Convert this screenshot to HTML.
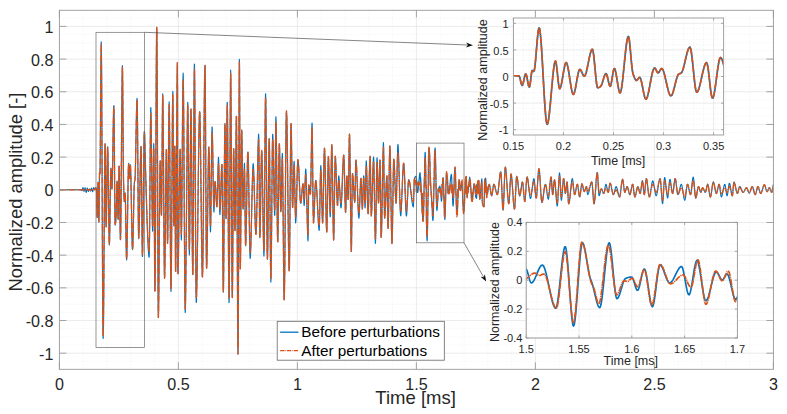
<!DOCTYPE html>
<html><head><meta charset="utf-8"><title>Signal</title>
<style>
html,body{margin:0;padding:0;background:#fff;}
body{width:787px;height:414px;position:relative;overflow:hidden;font-family:"Liberation Sans",sans-serif;}
</style></head><body>
<svg width="787" height="414" viewBox="0 0 787 414" style="position:absolute;left:0;top:0">
<rect width="787" height="414" fill="#fff"/>
<line x1="83.20" y1="10.3" x2="83.20" y2="369.3" stroke="#ededed" stroke-width="0.7" stroke-dasharray="1 2"/>
<line x1="107.00" y1="10.3" x2="107.00" y2="369.3" stroke="#ededed" stroke-width="0.7" stroke-dasharray="1 2"/>
<line x1="130.80" y1="10.3" x2="130.80" y2="369.3" stroke="#ededed" stroke-width="0.7" stroke-dasharray="1 2"/>
<line x1="154.60" y1="10.3" x2="154.60" y2="369.3" stroke="#ededed" stroke-width="0.7" stroke-dasharray="1 2"/>
<line x1="202.20" y1="10.3" x2="202.20" y2="369.3" stroke="#ededed" stroke-width="0.7" stroke-dasharray="1 2"/>
<line x1="226.00" y1="10.3" x2="226.00" y2="369.3" stroke="#ededed" stroke-width="0.7" stroke-dasharray="1 2"/>
<line x1="249.80" y1="10.3" x2="249.80" y2="369.3" stroke="#ededed" stroke-width="0.7" stroke-dasharray="1 2"/>
<line x1="273.60" y1="10.3" x2="273.60" y2="369.3" stroke="#ededed" stroke-width="0.7" stroke-dasharray="1 2"/>
<line x1="321.20" y1="10.3" x2="321.20" y2="369.3" stroke="#ededed" stroke-width="0.7" stroke-dasharray="1 2"/>
<line x1="345.00" y1="10.3" x2="345.00" y2="369.3" stroke="#ededed" stroke-width="0.7" stroke-dasharray="1 2"/>
<line x1="368.80" y1="10.3" x2="368.80" y2="369.3" stroke="#ededed" stroke-width="0.7" stroke-dasharray="1 2"/>
<line x1="392.60" y1="10.3" x2="392.60" y2="369.3" stroke="#ededed" stroke-width="0.7" stroke-dasharray="1 2"/>
<line x1="440.20" y1="10.3" x2="440.20" y2="369.3" stroke="#ededed" stroke-width="0.7" stroke-dasharray="1 2"/>
<line x1="464.00" y1="10.3" x2="464.00" y2="369.3" stroke="#ededed" stroke-width="0.7" stroke-dasharray="1 2"/>
<line x1="487.80" y1="10.3" x2="487.80" y2="369.3" stroke="#ededed" stroke-width="0.7" stroke-dasharray="1 2"/>
<line x1="511.60" y1="10.3" x2="511.60" y2="369.3" stroke="#ededed" stroke-width="0.7" stroke-dasharray="1 2"/>
<line x1="559.20" y1="10.3" x2="559.20" y2="369.3" stroke="#ededed" stroke-width="0.7" stroke-dasharray="1 2"/>
<line x1="583.00" y1="10.3" x2="583.00" y2="369.3" stroke="#ededed" stroke-width="0.7" stroke-dasharray="1 2"/>
<line x1="606.80" y1="10.3" x2="606.80" y2="369.3" stroke="#ededed" stroke-width="0.7" stroke-dasharray="1 2"/>
<line x1="630.60" y1="10.3" x2="630.60" y2="369.3" stroke="#ededed" stroke-width="0.7" stroke-dasharray="1 2"/>
<line x1="678.20" y1="10.3" x2="678.20" y2="369.3" stroke="#ededed" stroke-width="0.7" stroke-dasharray="1 2"/>
<line x1="702.00" y1="10.3" x2="702.00" y2="369.3" stroke="#ededed" stroke-width="0.7" stroke-dasharray="1 2"/>
<line x1="725.80" y1="10.3" x2="725.80" y2="369.3" stroke="#ededed" stroke-width="0.7" stroke-dasharray="1 2"/>
<line x1="749.60" y1="10.3" x2="749.60" y2="369.3" stroke="#ededed" stroke-width="0.7" stroke-dasharray="1 2"/>
<line x1="59.4" y1="369.54" x2="773.4" y2="369.54" stroke="#ededed" stroke-width="0.7" stroke-dasharray="1 2"/>
<line x1="59.4" y1="361.37" x2="773.4" y2="361.37" stroke="#ededed" stroke-width="0.7" stroke-dasharray="1 2"/>
<line x1="59.4" y1="345.03" x2="773.4" y2="345.03" stroke="#ededed" stroke-width="0.7" stroke-dasharray="1 2"/>
<line x1="59.4" y1="336.86" x2="773.4" y2="336.86" stroke="#ededed" stroke-width="0.7" stroke-dasharray="1 2"/>
<line x1="59.4" y1="328.69" x2="773.4" y2="328.69" stroke="#ededed" stroke-width="0.7" stroke-dasharray="1 2"/>
<line x1="59.4" y1="312.35" x2="773.4" y2="312.35" stroke="#ededed" stroke-width="0.7" stroke-dasharray="1 2"/>
<line x1="59.4" y1="304.18" x2="773.4" y2="304.18" stroke="#ededed" stroke-width="0.7" stroke-dasharray="1 2"/>
<line x1="59.4" y1="296.01" x2="773.4" y2="296.01" stroke="#ededed" stroke-width="0.7" stroke-dasharray="1 2"/>
<line x1="59.4" y1="279.67" x2="773.4" y2="279.67" stroke="#ededed" stroke-width="0.7" stroke-dasharray="1 2"/>
<line x1="59.4" y1="271.50" x2="773.4" y2="271.50" stroke="#ededed" stroke-width="0.7" stroke-dasharray="1 2"/>
<line x1="59.4" y1="263.33" x2="773.4" y2="263.33" stroke="#ededed" stroke-width="0.7" stroke-dasharray="1 2"/>
<line x1="59.4" y1="246.99" x2="773.4" y2="246.99" stroke="#ededed" stroke-width="0.7" stroke-dasharray="1 2"/>
<line x1="59.4" y1="238.82" x2="773.4" y2="238.82" stroke="#ededed" stroke-width="0.7" stroke-dasharray="1 2"/>
<line x1="59.4" y1="230.65" x2="773.4" y2="230.65" stroke="#ededed" stroke-width="0.7" stroke-dasharray="1 2"/>
<line x1="59.4" y1="214.31" x2="773.4" y2="214.31" stroke="#ededed" stroke-width="0.7" stroke-dasharray="1 2"/>
<line x1="59.4" y1="206.14" x2="773.4" y2="206.14" stroke="#ededed" stroke-width="0.7" stroke-dasharray="1 2"/>
<line x1="59.4" y1="197.97" x2="773.4" y2="197.97" stroke="#ededed" stroke-width="0.7" stroke-dasharray="1 2"/>
<line x1="59.4" y1="181.63" x2="773.4" y2="181.63" stroke="#ededed" stroke-width="0.7" stroke-dasharray="1 2"/>
<line x1="59.4" y1="173.46" x2="773.4" y2="173.46" stroke="#ededed" stroke-width="0.7" stroke-dasharray="1 2"/>
<line x1="59.4" y1="165.29" x2="773.4" y2="165.29" stroke="#ededed" stroke-width="0.7" stroke-dasharray="1 2"/>
<line x1="59.4" y1="148.95" x2="773.4" y2="148.95" stroke="#ededed" stroke-width="0.7" stroke-dasharray="1 2"/>
<line x1="59.4" y1="140.78" x2="773.4" y2="140.78" stroke="#ededed" stroke-width="0.7" stroke-dasharray="1 2"/>
<line x1="59.4" y1="132.61" x2="773.4" y2="132.61" stroke="#ededed" stroke-width="0.7" stroke-dasharray="1 2"/>
<line x1="59.4" y1="116.27" x2="773.4" y2="116.27" stroke="#ededed" stroke-width="0.7" stroke-dasharray="1 2"/>
<line x1="59.4" y1="108.10" x2="773.4" y2="108.10" stroke="#ededed" stroke-width="0.7" stroke-dasharray="1 2"/>
<line x1="59.4" y1="99.93" x2="773.4" y2="99.93" stroke="#ededed" stroke-width="0.7" stroke-dasharray="1 2"/>
<line x1="59.4" y1="83.59" x2="773.4" y2="83.59" stroke="#ededed" stroke-width="0.7" stroke-dasharray="1 2"/>
<line x1="59.4" y1="75.42" x2="773.4" y2="75.42" stroke="#ededed" stroke-width="0.7" stroke-dasharray="1 2"/>
<line x1="59.4" y1="67.25" x2="773.4" y2="67.25" stroke="#ededed" stroke-width="0.7" stroke-dasharray="1 2"/>
<line x1="59.4" y1="50.91" x2="773.4" y2="50.91" stroke="#ededed" stroke-width="0.7" stroke-dasharray="1 2"/>
<line x1="59.4" y1="42.74" x2="773.4" y2="42.74" stroke="#ededed" stroke-width="0.7" stroke-dasharray="1 2"/>
<line x1="59.4" y1="34.57" x2="773.4" y2="34.57" stroke="#ededed" stroke-width="0.7" stroke-dasharray="1 2"/>
<line x1="59.4" y1="18.23" x2="773.4" y2="18.23" stroke="#ededed" stroke-width="0.7" stroke-dasharray="1 2"/>
<line x1="59.4" y1="10.06" x2="773.4" y2="10.06" stroke="#ededed" stroke-width="0.7" stroke-dasharray="1 2"/>
<line x1="59.40" y1="10.3" x2="59.40" y2="369.3" stroke="#e6e6e6" stroke-width="0.8"/>
<line x1="178.40" y1="10.3" x2="178.40" y2="369.3" stroke="#e6e6e6" stroke-width="0.8"/>
<line x1="297.40" y1="10.3" x2="297.40" y2="369.3" stroke="#e6e6e6" stroke-width="0.8"/>
<line x1="416.40" y1="10.3" x2="416.40" y2="369.3" stroke="#e6e6e6" stroke-width="0.8"/>
<line x1="535.40" y1="10.3" x2="535.40" y2="369.3" stroke="#e6e6e6" stroke-width="0.8"/>
<line x1="654.40" y1="10.3" x2="654.40" y2="369.3" stroke="#e6e6e6" stroke-width="0.8"/>
<line x1="773.40" y1="10.3" x2="773.40" y2="369.3" stroke="#e6e6e6" stroke-width="0.8"/>
<line x1="59.4" y1="353.20" x2="773.4" y2="353.20" stroke="#e6e6e6" stroke-width="0.8"/>
<line x1="59.4" y1="320.52" x2="773.4" y2="320.52" stroke="#e6e6e6" stroke-width="0.8"/>
<line x1="59.4" y1="287.84" x2="773.4" y2="287.84" stroke="#e6e6e6" stroke-width="0.8"/>
<line x1="59.4" y1="255.16" x2="773.4" y2="255.16" stroke="#e6e6e6" stroke-width="0.8"/>
<line x1="59.4" y1="222.48" x2="773.4" y2="222.48" stroke="#e6e6e6" stroke-width="0.8"/>
<line x1="59.4" y1="189.80" x2="773.4" y2="189.80" stroke="#e6e6e6" stroke-width="0.8"/>
<line x1="59.4" y1="157.12" x2="773.4" y2="157.12" stroke="#e6e6e6" stroke-width="0.8"/>
<line x1="59.4" y1="124.44" x2="773.4" y2="124.44" stroke="#e6e6e6" stroke-width="0.8"/>
<line x1="59.4" y1="91.76" x2="773.4" y2="91.76" stroke="#e6e6e6" stroke-width="0.8"/>
<line x1="59.4" y1="59.08" x2="773.4" y2="59.08" stroke="#e6e6e6" stroke-width="0.8"/>
<line x1="59.4" y1="26.40" x2="773.4" y2="26.40" stroke="#e6e6e6" stroke-width="0.8"/>
<clipPath id="cm"><rect x="59.4" y="10.3" width="714.0" height="359.0"/></clipPath>
<g clip-path="url(#cm)" fill="none" stroke-linejoin="round">
<polyline points="59.40,189.80 59.57,189.80 59.73,189.80 59.90,189.80 60.07,189.80 60.23,189.80 60.40,189.80 60.57,189.80 60.73,189.80 60.90,189.80 61.07,189.80 61.23,189.80 61.40,189.80 61.57,189.80 61.73,189.80 61.90,189.80 62.07,189.80 62.23,189.80 62.40,189.80 62.57,189.80 62.73,189.80 62.90,189.80 63.07,189.80 63.23,189.80 63.40,189.80 63.56,189.80 63.73,189.80 63.90,189.80 64.06,189.80 64.23,189.80 64.40,189.80 64.56,189.80 64.73,189.80 64.90,189.80 65.06,189.80 65.23,189.80 65.40,189.80 65.56,189.80 65.73,189.80 65.90,189.80 66.06,189.80 66.23,189.80 66.40,189.80 66.56,189.80 66.73,189.80 66.90,189.80 67.06,189.80 67.23,189.80 67.40,189.80 67.56,189.80 67.73,189.80 67.90,189.80 68.06,189.80 68.23,189.80 68.40,189.80 68.56,189.80 68.73,189.80 68.90,189.80 69.06,189.80 69.23,189.80 69.40,189.80 69.56,189.80 69.73,189.80 69.90,189.80 70.06,189.80 70.23,189.80 70.40,189.80 70.56,189.80 70.73,189.80 70.90,189.80 71.06,189.80 71.23,189.80 71.40,189.80 71.56,189.80 71.73,189.80 71.89,189.80 72.06,189.80 72.23,189.80 72.39,189.80 72.56,189.80 72.73,189.80 72.89,189.80 73.06,189.80 73.23,189.80 73.39,189.80 73.56,189.80 73.73,189.80 73.89,189.80 74.06,189.80 74.23,189.80 74.39,189.80 74.56,189.80 74.73,189.80 74.89,189.80 75.06,189.80 75.23,189.80 75.39,189.80 75.56,189.80 75.73,189.80 75.89,189.80 76.06,189.80 76.23,189.80 76.39,189.80 76.56,189.80 76.73,189.80 76.89,189.80 77.06,189.80 77.23,189.80 77.39,189.80 77.56,189.80 77.73,189.80 77.89,189.80 78.06,189.80 78.23,189.80 78.39,189.80 78.56,189.80 78.73,189.80 78.89,189.80 79.06,189.80 79.23,189.80 79.39,189.80 79.56,189.80 79.73,189.80 79.89,189.80 80.06,189.80 80.22,189.80 80.39,189.80 80.56,189.80 80.72,189.80 80.89,189.81 81.06,189.90 81.22,190.06 81.39,190.24 81.56,190.42 81.72,190.55 81.89,190.60 82.06,190.41 82.22,189.92 82.39,189.26 82.56,188.57 82.72,187.99 82.89,187.66 83.06,187.70 83.22,188.17 83.39,188.92 83.56,189.77 83.72,190.57 83.89,191.13 84.06,191.31 84.22,191.01 84.39,190.38 84.56,189.58 84.72,188.77 84.89,188.10 85.06,187.75 85.22,187.89 85.39,188.54 85.56,189.51 85.72,190.59 85.89,191.56 86.06,192.21 86.22,192.35 86.39,191.93 86.56,191.13 86.72,190.16 86.89,189.20 87.06,188.45 87.22,188.10 87.39,188.25 87.56,188.77 87.72,189.49 87.89,190.26 88.06,190.93 88.22,191.36 88.39,191.41 88.56,191.13 88.72,190.66 88.89,190.10 89.05,189.56 89.22,189.16 89.39,189.01 89.55,189.13 89.72,189.46 89.89,189.89 90.05,190.35 90.22,190.73 90.39,190.95 90.55,190.92 90.72,190.56 90.89,189.99 91.05,189.34 91.22,188.74 91.39,188.30 91.55,188.17 91.72,188.47 91.89,189.10 92.05,189.92 92.22,190.74 92.39,191.41 92.55,191.76 92.72,191.64 92.89,191.05 93.05,190.17 93.22,189.19 93.39,188.31 93.55,187.71 93.72,187.58 93.89,187.72 94.05,188.00 94.22,188.37 94.39,188.77 94.55,189.17 94.72,189.50 94.89,189.73 95.05,189.60 95.22,188.10 95.39,188.10 95.55,188.10 95.72,188.10 95.89,188.10 96.05,188.10 96.22,188.10 96.39,188.25 96.55,190.43 96.72,198.15 96.88,207.67 97.05,215.26 97.22,217.53 97.38,212.84 97.55,203.63 97.72,193.00 97.88,184.77 98.05,182.36 98.22,186.17 98.38,196.78 98.55,209.08 98.72,219.73 98.88,222.09 99.05,216.52 99.22,199.46 99.38,181.67 99.55,172.30 99.72,171.87 99.88,174.32 100.05,171.27 100.22,159.12 100.38,138.25 100.55,113.15 100.72,87.38 100.88,64.54 101.05,48.22 101.22,41.84 101.38,48.35 101.55,65.22 101.72,91.28 101.88,123.76 102.05,160.30 102.22,198.83 102.38,237.77 102.55,273.63 102.72,304.06 102.88,326.79 103.05,337.81 103.22,338.53 103.38,331.03 103.55,316.68 103.72,297.59 103.88,275.13 104.05,250.71 104.22,225.73 104.38,201.54 104.55,179.99 104.72,162.43 104.88,149.84 105.05,143.53 105.22,146.20 105.38,158.94 105.55,178.34 105.71,199.70 105.88,218.05 106.05,226.36 106.21,227.06 106.38,220.82 106.55,211.26 106.71,199.39 106.88,186.59 107.05,173.65 107.21,161.93 107.38,152.80 107.55,147.69 107.71,146.69 107.88,151.42 108.05,160.16 108.21,171.95 108.38,185.68 108.55,200.22 108.71,214.41 108.88,227.14 109.05,237.31 109.21,243.97 109.38,244.96 109.55,242.01 109.71,234.59 109.88,224.33 110.05,212.39 110.21,199.93 110.38,188.07 110.55,177.93 110.71,170.58 110.88,168.03 111.05,168.73 111.21,172.05 111.38,176.74 111.55,181.71 111.71,185.99 111.88,188.71 112.05,188.22 112.21,185.03 112.38,178.66 112.55,170.13 112.71,160.11 112.88,149.27 113.05,138.27 113.21,127.78 113.38,118.49 113.55,111.05 113.71,106.13 113.88,105.53 114.04,110.29 114.21,125.89 114.38,146.96 114.54,170.46 114.71,193.20 114.88,212.08 115.04,222.88 115.21,225.01 115.38,224.48 115.54,223.34 115.71,221.86 115.88,220.14 116.04,216.46 116.21,210.75 116.38,203.72 116.54,196.33 116.71,189.49 116.88,184.10 117.04,181.10 117.21,181.78 117.38,187.28 117.54,196.26 117.71,206.25 117.88,215.09 118.04,219.24 118.21,219.35 118.38,210.64 118.54,197.84 118.71,183.89 118.88,171.76 119.04,166.00 119.21,166.25 119.38,172.85 119.54,183.78 119.71,197.03 119.88,210.98 120.04,223.96 120.21,234.37 120.38,239.82 120.54,239.77 120.71,233.37 120.88,220.79 121.04,203.96 121.21,184.10 121.38,162.46 121.54,140.29 121.71,118.82 121.88,99.34 122.04,83.11 122.21,71.41 122.37,65.45 122.54,67.94 122.71,81.17 122.87,102.50 123.04,127.36 123.21,151.47 123.37,169.92 123.54,180.87 123.71,187.41 123.87,193.42 124.04,198.18 124.21,201.26 124.37,201.60 124.54,200.63 124.71,197.83 124.87,194.94 125.04,193.03 125.21,193.49 125.37,197.85 125.54,205.72 125.71,215.85 125.87,227.07 126.04,238.23 126.21,248.18 126.37,255.79 126.54,260.05 126.71,259.40 126.87,255.89 127.04,249.20 127.21,240.29 127.37,229.77 127.54,218.28 127.71,206.43 127.87,194.86 128.04,184.19 128.21,175.05 128.37,168.04 128.54,164.09 128.71,163.26 128.87,165.46 129.04,169.72 129.21,174.31 129.37,177.99 129.54,178.28 129.71,176.99 129.87,173.26 130.04,169.20 130.20,166.11 130.37,164.90 130.54,166.66 130.70,170.79 130.87,176.94 131.04,184.66 131.20,193.49 131.37,202.99 131.54,212.69 131.70,222.16 131.87,230.95 132.04,238.61 132.20,244.68 132.37,248.79 132.54,249.73 132.70,249.07 132.87,245.13 133.04,239.34 133.20,232.09 133.37,223.89 133.54,215.21 133.70,206.57 133.87,198.47 134.04,191.41 134.20,185.90 134.37,182.41 134.54,181.16 134.70,180.64 134.87,180.10 135.04,178.70 135.20,175.35 135.37,169.75 135.54,162.56 135.70,154.21 135.87,145.13 136.04,135.77 136.20,126.57 136.37,117.96 136.54,110.39 136.70,104.29 136.87,100.13 137.04,98.25 137.20,101.12 137.37,110.92 137.54,126.45 137.70,145.76 137.87,167.04 138.04,188.44 138.20,208.14 138.37,224.36 138.53,235.49 138.70,238.74 138.87,237.51 139.03,233.67 139.20,227.77 139.37,220.26 139.53,211.56 139.70,202.06 139.87,192.18 140.03,182.32 140.20,172.90 140.37,164.30 140.53,156.95 140.70,151.24 140.87,147.67 141.03,146.36 141.20,151.22 141.37,162.74 141.53,179.15 141.70,198.19 141.87,217.65 142.03,235.33 142.20,249.02 142.37,256.52 142.53,256.37 142.70,251.10 142.87,241.30 143.03,228.32 143.20,213.14 143.37,196.78 143.53,180.26 143.70,164.57 143.87,150.71 144.03,139.69 144.20,132.39 144.37,131.28 144.53,132.28 144.70,137.01 144.87,143.27 145.03,150.40 145.20,157.63 145.37,163.39 145.53,169.20 145.70,175.04 145.87,180.89 146.03,186.73 146.20,192.51 146.37,198.23 146.53,203.84 146.70,209.33 146.87,214.65 147.03,219.80 147.20,224.73 147.36,229.42 147.53,233.85 147.70,237.98 147.86,241.78 148.03,245.24 148.20,248.32 148.36,250.99 148.53,253.23 148.70,255.01 148.86,256.31 149.03,257.08 149.20,257.28 149.36,252.00 149.53,239.22 149.70,220.93 149.86,199.16 150.03,175.90 150.20,153.18 150.36,133.01 150.53,117.39 150.70,108.34 150.86,107.48 151.03,112.75 151.20,122.60 151.36,135.88 151.53,151.49 151.70,168.29 151.86,185.17 152.03,201.01 152.20,214.68 152.36,225.07 152.53,231.05 152.70,231.11 152.86,222.23 153.03,206.69 153.20,187.78 153.36,168.78 153.53,152.98 153.70,143.67 153.86,144.98 154.03,161.32 154.20,188.18 154.36,220.08 154.53,251.51 154.70,277.00 154.86,291.03 155.03,289.64 155.19,276.34 155.36,253.81 155.53,224.43 155.69,190.60 155.86,154.69 156.03,119.09 156.19,86.16 156.36,58.31 156.53,37.90 156.69,27.31 156.86,29.77 157.03,48.12 157.19,78.96 157.36,118.39 157.53,162.53 157.69,207.47 157.86,249.32 158.03,284.20 158.19,308.21 158.36,317.46 158.53,314.05 158.69,304.26 158.86,289.50 159.03,271.17 159.19,250.67 159.36,229.42 159.53,208.81 159.69,190.24 159.86,175.12 160.03,164.86 160.19,160.85 160.36,163.19 160.53,169.86 160.69,179.32 160.86,190.06 161.03,200.56 161.19,209.30 161.36,214.78 161.53,215.03 161.69,205.35 161.86,187.49 162.03,164.83 162.19,140.74 162.36,118.60 162.53,101.79 162.69,93.68 162.86,96.10 163.03,106.43 163.19,122.93 163.36,143.94 163.53,167.81 163.69,192.88 163.86,217.49 164.02,239.98 164.19,258.70 164.36,271.99 164.52,278.19 164.69,276.67 164.86,269.58 165.02,258.16 165.19,243.56 165.36,226.95 165.52,209.46 165.69,192.28 165.86,176.53 166.02,163.40 166.19,154.02 166.36,149.57 166.52,152.39 166.69,164.36 166.86,182.21 167.02,202.50 167.19,221.77 167.36,236.56 167.52,243.41 167.69,240.42 167.86,229.87 168.02,213.68 168.19,193.75 168.36,171.98 168.52,150.26 168.69,130.49 168.86,114.57 169.02,104.39 169.19,101.86 169.36,107.98 169.52,121.42 169.69,140.49 169.86,163.48 170.02,188.69 170.19,214.42 170.36,238.97 170.52,260.64 170.69,277.74 170.86,288.55 171.02,291.37 171.19,285.11 171.36,271.09 171.52,251.08 171.69,226.89 171.85,200.31 172.02,173.14 172.19,147.17 172.35,124.20 172.52,106.02 172.69,94.43 172.85,91.36 173.02,103.44 173.19,128.69 173.35,160.33 173.52,191.58 173.69,215.66 173.85,225.79 174.02,220.69 174.19,206.96 174.35,188.63 174.52,169.73 174.69,154.27 174.85,146.27 175.02,157.15 175.19,195.39 175.35,240.35 175.52,270.39 175.69,271.44 175.85,260.99 176.02,243.18 176.19,219.90 176.35,193.03 176.52,164.49 176.69,136.15 176.85,109.91 177.02,87.68 177.19,71.33 177.35,62.77 177.52,87.75 177.69,193.85 177.85,272.99 178.02,273.64 178.19,268.85 178.35,261.16 178.52,251.13 178.69,239.35 178.85,226.38 179.02,212.82 179.19,199.22 179.35,186.18 179.52,174.26 179.69,164.04 179.85,156.11 180.02,151.02 180.18,149.38 180.35,155.17 180.52,168.89 180.68,187.22 180.85,206.81 181.02,224.34 181.18,236.49 181.35,239.97 181.52,234.82 181.68,223.17 181.85,206.52 182.02,186.37 182.18,164.22 182.35,141.56 182.52,119.89 182.68,100.71 182.85,85.51 183.02,75.80 183.18,73.07 183.35,78.77 183.52,92.09 183.68,111.53 183.85,135.58 184.02,162.71 184.18,191.44 184.35,220.24 184.52,247.61 184.68,272.04 184.85,292.02 185.02,306.04 185.18,312.59 185.35,311.11 185.52,303.86 185.68,292.18 185.85,277.36 186.02,260.65 186.18,243.32 186.35,226.65 186.52,211.81 186.68,195.41 186.85,176.50 187.02,156.75 187.18,137.80 187.35,121.31 187.52,108.94 187.68,102.32 187.85,103.32 188.02,112.80 188.18,128.90 188.35,149.59 188.52,172.80 188.68,196.49 188.85,218.61 189.01,237.10 189.18,249.91 189.35,255.00 189.51,251.08 189.68,239.58 189.85,222.44 190.01,201.63 190.18,179.10 190.35,156.81 190.51,136.71 190.68,120.77 190.85,110.93 191.01,109.08 191.18,115.11 191.35,127.40 191.51,144.48 191.68,164.86 191.85,187.04 192.01,209.54 192.18,230.87 192.35,249.54 192.51,264.05 192.68,272.93 192.85,274.48 193.01,264.86 193.18,245.18 193.35,218.29 193.51,187.01 193.68,154.18 193.85,122.63 194.01,95.20 194.18,74.71 194.35,64.01 194.51,65.35 194.68,77.27 194.85,97.54 195.01,123.99 195.18,154.50 195.35,186.89 195.51,219.04 195.68,248.78 195.85,273.97 196.01,292.47 196.18,302.11 196.35,302.52 196.51,299.72 196.68,294.64 196.84,287.55 197.01,278.71 197.18,268.38 197.34,256.82 197.51,244.29 197.68,231.05 197.84,217.36 198.01,203.47 198.18,189.66 198.34,176.18 198.51,163.29 198.68,151.26 198.84,140.33 199.01,130.78 199.18,122.85 199.34,116.82 199.51,112.95 199.68,111.48 199.84,113.01 200.01,117.77 200.18,125.31 200.34,135.20 200.51,146.99 200.68,160.25 200.84,174.53 201.01,189.41 201.18,204.42 201.34,219.15 201.51,233.14 201.68,245.95 201.84,257.15 202.01,266.29 202.18,272.94 202.34,276.66 202.51,276.86 202.68,272.19 202.84,263.00 203.01,250.02 203.18,233.98 203.34,215.62 203.51,195.67 203.68,174.85 203.84,153.90 204.01,133.56 204.18,114.55 204.34,97.60 204.51,83.45 204.68,72.83 204.84,66.47 205.01,65.32 205.18,74.22 205.34,92.88 205.51,118.58 205.67,148.58 205.84,180.16 206.01,210.59 206.17,237.15 206.34,257.12 206.51,267.76 206.67,268.13 206.84,264.26 207.01,257.45 207.17,248.23 207.34,237.18 207.51,224.85 207.67,211.80 207.84,198.58 208.01,185.76 208.17,173.89 208.34,163.54 208.51,155.25 208.67,149.60 208.84,147.12 209.01,148.79 209.17,154.98 209.34,164.59 209.51,176.47 209.67,189.50 209.84,202.53 210.01,214.43 210.17,224.06 210.34,230.29 210.51,231.96 210.67,227.76 210.84,218.40 211.01,205.29 211.17,189.86 211.34,173.50 211.51,157.64 211.67,143.68 211.84,133.04 212.01,127.14 212.17,126.97 212.34,130.90 212.51,137.90 212.67,147.21 212.84,158.05 213.01,169.65 213.17,181.23 213.34,192.04 213.50,201.29 213.67,208.21 213.84,212.04 214.00,212.08 214.17,208.76 214.34,203.23 214.50,196.63 214.67,190.10 214.84,184.77 215.00,181.78 215.17,181.72 215.34,182.96 215.50,185.09 215.67,187.87 215.84,191.08 216.00,194.50 216.17,197.90 216.34,201.04 216.50,203.71 216.67,205.67 216.84,206.71 217.00,206.28 217.17,203.23 217.34,198.04 217.50,191.37 217.67,183.89 217.84,176.26 218.00,169.13 218.17,163.17 218.34,159.04 218.50,157.40 218.67,159.47 218.84,165.42 219.00,174.05 219.17,184.14 219.34,194.45 219.50,203.78 219.67,210.89 219.84,214.59 220.00,214.41 220.17,212.32 220.34,208.80 220.50,204.15 220.67,198.70 220.84,192.76 221.00,186.66 221.17,180.71 221.34,175.23 221.50,170.53 221.67,166.94 221.84,164.78 222.00,164.69 222.17,172.46 222.33,187.99 222.50,208.58 222.67,231.50 222.83,254.04 223.00,273.49 223.17,287.12 223.33,292.22 223.50,287.07 223.67,273.29 223.83,253.14 224.00,228.87 224.17,202.76 224.33,177.06 224.50,154.04 224.67,135.96 224.83,125.09 225.00,123.73 225.17,132.85 225.33,149.42 225.50,169.86 225.67,190.60 225.83,208.07 226.00,218.69 226.17,218.73 226.33,206.33 226.50,185.29 226.67,159.98 226.83,134.78 227.00,114.08 227.17,102.25 227.33,102.61 227.50,112.29 227.67,129.11 227.83,151.25 228.00,176.90 228.17,204.24 228.33,231.46 228.50,256.73 228.67,278.25 228.83,294.19 229.00,302.74 229.17,301.45 229.33,287.39 229.50,263.12 229.67,231.78 229.83,196.48 230.00,160.35 230.17,126.52 230.33,98.11 230.50,78.24 230.66,70.04 230.83,75.71 231.00,93.30 231.16,119.76 231.33,152.05 231.50,187.12 231.66,221.91 231.83,253.39 232.00,278.50 232.16,294.20 232.33,297.50 232.50,288.53 232.66,270.46 232.83,246.47 233.00,219.73 233.16,193.41 233.33,170.68 233.50,154.70 233.66,148.66 233.83,151.97 234.00,160.77 234.16,173.30 234.33,187.82 234.50,202.58 234.66,215.82 234.83,225.81 235.00,230.78 235.16,228.48 235.33,217.91 235.50,201.41 235.66,181.45 235.83,160.50 236.00,141.02 236.16,125.47 236.33,116.33 236.50,116.52 236.66,129.76 236.83,153.75 237.00,185.29 237.16,221.18 237.33,258.23 237.50,293.22 237.66,322.98 237.83,344.28 238.00,353.95 238.16,346.06 238.33,317.41 238.50,274.12 238.66,222.51 238.83,168.90 238.99,119.61 239.16,80.94 239.33,59.23 239.49,62.56 239.66,97.52 239.83,150.81 239.99,207.25 240.16,251.64 240.33,268.78 240.49,262.78 240.66,247.64 240.83,226.32 240.99,201.75 241.16,176.91 241.33,154.73 241.49,138.16 241.66,130.16 241.83,131.79 241.99,139.24 242.16,150.70 242.33,164.47 242.49,178.86 242.66,192.18 242.83,202.72 242.99,208.79 243.16,209.14 243.33,205.58 243.49,199.43 243.66,191.67 243.83,183.29 243.99,175.26 244.16,168.59 244.33,164.25 244.49,163.41 244.66,170.14 244.83,183.58 244.99,200.69 245.16,218.44 245.33,233.80 245.49,243.73 245.66,245.66 245.83,243.32 245.99,238.59 246.16,231.89 246.33,223.66 246.49,214.33 246.66,204.33 246.82,194.09 246.99,184.06 247.16,174.65 247.32,166.30 247.49,159.44 247.66,154.51 247.82,151.93 247.99,152.18 248.16,155.47 248.32,161.37 248.49,169.40 248.66,179.05 248.82,189.84 248.99,201.28 249.16,212.88 249.32,224.15 249.49,234.59 249.66,243.73 249.82,251.07 249.99,256.12 250.16,258.38 250.32,257.93 250.49,255.82 250.66,252.30 250.82,247.55 250.99,241.77 251.16,235.17 251.32,227.94 251.49,220.28 251.66,212.39 251.82,204.47 251.99,196.70 252.16,189.31 252.32,182.47 252.49,176.39 252.66,171.26 252.82,167.29 252.99,164.67 253.16,163.61 253.32,164.16 253.49,166.10 253.66,169.25 253.82,173.41 253.99,178.40 254.16,184.02 254.32,190.09 254.49,196.43 254.66,202.84 254.82,209.14 254.99,215.14 255.16,220.64 255.32,225.47 255.49,229.44 255.65,232.35 255.82,234.02 255.99,234.23 256.15,232.50 256.32,228.91 256.49,223.75 256.65,217.27 256.82,209.75 256.99,201.44 257.15,192.62 257.32,183.55 257.49,174.49 257.65,165.73 257.82,157.51 257.99,150.11 258.15,143.80 258.32,138.83 258.49,135.48 258.65,134.02 258.82,137.85 258.99,151.54 259.15,171.49 259.32,193.89 259.49,214.94 259.65,230.83 259.82,237.75 259.99,236.11 260.15,230.84 260.32,222.76 260.49,212.64 260.65,201.27 260.82,189.43 260.99,177.90 261.15,167.46 261.32,158.90 261.49,153.00 261.65,150.53 261.82,151.76 261.99,155.91 262.15,162.47 262.32,170.98 262.49,180.95 262.65,191.88 262.82,203.30 262.99,214.72 263.15,225.66 263.32,235.63 263.49,244.15 263.65,250.73 263.82,254.89 263.98,256.11 264.15,250.21 264.32,236.20 264.48,216.27 264.65,192.59 264.82,167.34 264.98,142.72 265.15,120.91 265.32,104.07 265.48,94.41 265.65,93.79 265.82,100.95 265.98,114.16 266.15,131.92 266.32,152.74 266.48,175.13 266.65,197.60 266.82,218.65 266.98,236.78 267.15,250.52 267.32,258.35 267.48,259.05 267.65,253.94 267.82,244.38 267.98,231.48 268.15,216.31 268.32,199.97 268.48,183.55 268.65,168.14 268.82,154.83 268.98,144.71 269.15,138.87 269.32,138.65 269.48,146.28 269.65,160.50 269.82,179.36 269.98,200.95 270.15,223.33 270.32,244.56 270.48,262.73 270.65,275.88 270.82,282.10 270.98,280.28 271.15,272.12 271.32,258.98 271.48,242.19 271.65,223.08 271.81,202.99 271.98,183.23 272.15,165.15 272.31,150.07 272.48,139.31 272.65,134.21 272.81,134.83 272.98,138.39 273.15,144.25 273.31,151.89 273.48,160.80 273.65,170.47 273.81,180.36 273.98,189.98 274.15,198.80 274.31,206.31 274.48,211.99 274.65,215.33 274.81,215.27 274.98,206.08 275.15,189.18 275.31,168.25 275.48,146.94 275.65,128.92 275.81,117.86 275.98,116.69 276.15,122.08 276.31,132.05 276.48,145.49 276.65,161.26 276.81,178.22 276.98,195.25 277.15,211.22 277.31,224.99 277.48,235.43 277.65,241.41 277.81,241.82 277.98,236.53 278.15,226.75 278.31,213.81 278.48,199.03 278.65,183.74 278.81,169.24 278.98,156.87 279.15,147.93 279.31,143.76 279.48,145.09 279.65,150.66 279.81,159.30 279.98,169.88 280.14,181.24 280.31,192.26 280.48,201.79 280.64,208.69 280.81,211.82 280.98,210.49 281.14,205.57 281.31,198.06 281.48,188.93 281.64,179.16 281.81,169.74 281.98,161.63 282.14,155.82 282.31,153.30 282.48,155.86 282.64,164.48 282.81,177.89 282.98,194.76 283.14,213.79 283.31,233.66 283.48,253.06 283.64,270.68 283.81,285.20 283.98,295.32 284.14,299.71 284.31,297.74 284.48,290.53 284.64,278.95 284.81,263.88 284.98,246.16 285.14,226.68 285.31,206.29 285.48,185.87 285.64,166.28 285.81,148.38 285.98,133.04 286.14,121.12 286.31,113.50 286.48,111.03 286.64,112.93 286.81,117.90 286.98,125.50 287.14,135.31 287.31,146.90 287.48,159.85 287.64,173.74 287.81,188.14 287.98,202.62 288.14,216.77 288.31,230.15 288.48,242.34 288.64,252.91 288.81,261.45 288.97,267.52 289.14,270.71 289.31,270.09 289.47,263.31 289.64,251.24 289.81,235.22 289.97,216.58 290.14,196.63 290.31,176.71 290.47,158.14 290.64,142.25 290.81,130.37 290.97,123.82 291.14,123.70 291.31,129.05 291.47,138.43 291.64,150.55 291.81,164.08 291.97,177.73 292.14,190.18 292.31,200.13 292.47,206.25 292.64,207.40 292.81,204.97 292.97,200.19 293.14,193.77 293.31,186.45 293.47,178.93 293.64,171.93 293.81,166.17 293.97,162.37 294.14,161.25 294.31,163.81 294.47,169.66 294.64,177.86 294.81,187.45 294.97,197.48 295.14,206.99 295.31,215.03 295.47,220.64 295.64,222.87 295.81,222.02 295.97,219.45 296.14,215.44 296.31,210.29 296.47,204.28 296.64,197.72 296.80,190.88 296.97,184.06 297.14,177.54 297.30,171.63 297.47,166.59 297.64,162.74 297.80,160.35 297.97,159.70 298.14,160.31 298.30,161.74 298.47,163.89 298.64,166.62 298.80,169.82 298.97,173.39 299.14,177.20 299.30,181.13 299.47,185.08 299.64,188.93 299.80,192.55 299.97,195.84 300.14,198.67 300.30,200.94 300.47,202.52 300.64,203.30 300.80,203.25 300.97,202.61 301.14,201.49 301.30,200.00 301.47,198.21 301.64,196.23 301.80,194.13 301.97,192.00 302.14,189.94 302.30,188.04 302.47,186.39 302.64,185.07 302.80,184.18 302.97,183.80 303.14,184.72 303.30,187.69 303.47,191.94 303.64,196.66 303.80,201.06 303.97,204.33 304.14,205.66 304.30,204.63 304.47,201.71 304.64,197.37 304.80,192.13 304.97,186.46 305.13,180.86 305.30,175.82 305.47,171.84 305.63,169.40 305.80,168.98 305.97,170.73 306.13,174.33 306.30,179.44 306.47,185.74 306.63,192.89 306.80,200.56 306.97,208.43 307.13,216.15 307.30,223.40 307.47,229.84 307.63,235.14 307.80,238.97 307.97,241.01 308.13,238.63 308.30,223.65 308.47,203.62 308.63,188.11 308.80,184.98 308.97,185.44 309.13,186.28 309.30,187.42 309.47,188.73 309.63,190.11 309.80,191.45 309.97,192.63 310.13,193.54 310.30,194.08 310.47,193.84 310.63,190.34 310.80,183.74 310.97,174.90 311.13,164.67 311.30,153.93 311.47,143.53 311.63,134.34 311.80,127.22 311.97,123.02 312.13,123.03 312.30,130.80 312.47,144.87 312.63,162.59 312.80,181.30 312.97,198.38 313.13,211.16 313.30,217.02 313.46,222.87 313.63,222.07 313.80,220.15 313.96,217.30 314.13,213.71 314.30,209.59 314.46,205.12 314.63,200.51 314.80,195.94 314.96,191.61 315.13,187.72 315.30,184.46 315.46,182.03 315.63,180.62 315.80,180.39 315.96,180.96 316.13,182.14 316.30,183.87 316.46,186.07 316.63,188.68 316.80,191.63 316.96,194.85 317.13,198.27 317.30,201.83 317.46,205.45 317.63,209.08 317.80,212.63 317.96,216.05 318.13,219.27 318.30,222.20 318.46,224.80 318.63,226.99 318.80,228.70 318.96,229.87 319.13,230.42 319.30,229.53 319.46,225.22 319.63,218.19 319.80,209.28 319.96,199.39 320.13,189.37 320.30,180.09 320.46,172.43 320.63,167.25 320.80,165.43 320.96,166.85 321.13,170.57 321.30,176.09 321.46,182.88 321.63,190.43 321.79,198.22 321.96,205.75 322.13,212.49 322.29,217.94 322.46,221.57 322.63,222.88 322.79,221.11 322.96,216.33 323.13,209.21 323.29,200.42 323.46,190.62 323.63,180.49 323.79,170.69 323.96,161.90 324.13,154.77 324.29,149.99 324.46,148.21 324.63,149.44 324.79,152.94 324.96,158.32 325.13,165.20 325.29,173.21 325.46,181.94 325.63,191.02 325.79,200.06 325.96,208.68 326.13,216.50 326.29,223.12 326.46,228.17 326.63,231.26 326.79,231.96 326.96,228.80 327.13,221.97 327.29,212.49 327.46,201.37 327.63,189.63 327.79,178.28 327.96,168.33 328.13,160.80 328.29,156.70 328.46,156.70 328.63,159.56 328.79,164.58 328.96,171.20 329.13,178.89 329.29,187.10 329.46,195.28 329.63,202.89 329.79,209.38 329.96,214.21 330.12,216.83 330.29,216.49 330.46,212.21 330.62,204.75 330.79,195.07 330.96,184.16 331.12,172.97 331.29,162.47 331.46,153.63 331.62,147.41 331.79,144.79 331.96,146.54 332.12,152.23 332.29,161.01 332.46,172.02 332.62,184.42 332.79,197.35 332.96,209.96 333.12,221.39 333.29,230.78 333.46,237.29 333.62,240.06 333.79,238.18 333.96,231.88 334.12,222.26 334.29,210.46 334.46,197.58 334.62,184.75 334.79,173.10 334.96,163.74 335.12,157.79 335.29,156.28 335.46,157.34 335.62,159.69 335.79,163.09 335.96,167.32 336.12,172.16 336.29,177.37 336.46,182.74 336.62,188.03 336.79,193.02 336.96,197.48 337.12,201.19 337.29,203.91 337.46,205.43 337.62,205.31 337.79,202.28 337.96,197.05 338.12,190.72 338.29,184.39 338.45,179.16 338.62,176.12 338.79,175.91 338.95,176.89 339.12,178.66 339.29,181.08 339.45,183.98 339.62,187.23 339.79,190.68 339.95,194.17 340.12,197.57 340.29,200.73 340.45,203.49 340.62,205.71 340.79,207.24 340.95,207.93 341.12,207.62 341.29,206.26 341.45,203.99 341.62,200.95 341.79,197.28 341.95,193.12 342.12,188.61 342.29,183.89 342.45,179.10 342.62,174.39 342.79,169.88 342.95,165.72 343.12,162.06 343.29,159.03 343.45,156.77 343.62,155.42 343.79,155.18 343.95,157.11 344.12,161.24 344.29,167.05 344.45,174.04 344.62,181.68 344.79,189.47 344.95,196.88 345.12,203.40 345.29,208.51 345.45,211.71 345.62,212.47 345.79,210.16 345.95,205.37 346.12,199.01 346.29,192.01 346.45,185.30 346.62,179.80 346.78,176.44 346.95,176.02 347.12,177.87 347.28,181.20 347.45,185.43 347.62,189.95 347.78,194.17 347.95,197.50 348.12,199.34 348.28,198.43 348.45,192.41 348.62,182.59 348.78,170.60 348.95,158.11 349.12,146.77 349.28,138.22 349.45,134.12 349.62,135.70 349.78,142.26 349.95,152.75 350.12,166.10 350.28,181.27 350.45,197.21 350.62,212.85 350.78,227.14 350.95,239.04 351.12,247.48 351.28,251.42 351.45,248.90 351.62,238.82 351.78,223.93 351.95,207.09 352.12,191.16 352.28,179.03 352.45,173.54 352.62,173.80 352.78,174.91 352.95,176.70 353.12,179.01 353.28,181.71 353.45,184.69 353.62,187.79 353.78,190.90 353.95,193.88 354.12,196.60 354.28,198.92 354.45,200.72 354.62,201.86 354.78,202.19 354.95,199.36 355.11,192.91 355.28,184.37 355.45,175.29 355.61,167.22 355.78,161.69 355.95,160.17 356.11,160.90 356.28,162.57 356.45,165.07 356.61,168.26 356.78,172.02 356.95,176.25 357.11,180.80 357.28,185.57 357.45,190.43 357.61,195.26 357.78,199.94 357.95,204.34 358.11,208.35 358.28,211.85 358.45,214.70 358.61,216.80 358.78,218.02 358.95,218.22 359.11,217.07 359.28,214.67 359.45,211.29 359.61,207.16 359.78,202.56 359.95,197.72 360.11,192.91 360.28,188.38 360.45,184.37 360.61,181.15 360.78,178.96 360.95,178.06 361.11,179.06 361.28,182.18 361.45,186.79 361.61,192.21 361.78,197.80 361.95,202.88 362.11,206.81 362.28,208.92 362.45,208.56 362.61,205.73 362.78,201.11 362.95,195.41 363.11,189.35 363.28,183.64 363.44,178.99 363.61,176.11 363.78,175.70 363.94,177.86 364.11,181.92 364.28,187.22 364.44,193.04 364.61,198.72 364.78,203.55 364.94,206.86 365.11,207.93 365.28,204.81 365.44,197.60 365.61,188.05 365.78,177.88 365.94,168.82 366.11,162.60 366.28,160.89 366.44,162.57 366.61,166.30 366.78,171.60 366.94,177.99 367.11,185.01 367.28,192.17 367.44,199.01 367.61,205.06 367.78,209.83 367.94,212.85 368.11,213.66 368.28,212.25 368.44,209.02 368.61,204.33 368.78,198.55 368.94,192.04 369.11,185.16 369.28,178.26 369.44,171.72 369.61,165.89 369.78,161.14 369.94,157.82 370.11,156.30 370.28,158.33 370.44,166.07 370.61,177.48 370.78,190.36 370.94,202.53 371.11,211.79 371.28,215.94 371.44,215.30 371.61,212.99 371.77,209.32 371.94,204.57 372.11,199.00 372.27,192.89 372.44,186.51 372.61,180.12 372.77,174.01 372.94,168.43 373.11,163.67 373.27,159.98 373.44,157.65 373.61,156.96 373.77,159.36 373.94,165.19 374.11,173.66 374.27,183.99 374.44,195.43 374.61,207.18 374.77,218.47 374.94,228.52 375.11,236.57 375.27,241.83 375.44,243.52 375.61,240.55 375.77,233.26 375.94,222.81 376.11,210.35 376.27,197.03 376.44,184.02 376.61,172.44 376.77,163.47 376.94,158.25 377.11,157.70 377.27,160.53 377.44,165.68 377.61,172.39 377.77,179.90 377.94,187.44 378.11,194.26 378.27,199.58 378.44,202.64 378.61,202.74 378.77,199.94 378.94,194.97 379.11,188.55 379.27,181.40 379.44,174.25 379.61,167.83 379.77,162.85 379.94,160.05 380.10,160.96 380.27,169.42 380.44,183.39 380.60,200.02 380.77,216.43 380.94,229.77 381.10,237.15 381.27,237.22 381.44,234.11 381.60,228.71 381.77,221.44 381.94,212.74 382.10,203.06 382.27,192.83 382.44,182.48 382.60,172.46 382.77,163.20 382.94,155.13 383.10,148.71 383.27,144.35 383.44,142.50 383.60,145.65 383.77,155.94 383.94,170.67 384.10,187.04 384.27,202.29 384.44,213.63 384.60,218.28 384.77,217.70 384.94,215.95 385.10,213.24 385.27,209.77 385.44,205.72 385.60,201.30 385.77,196.69 385.94,192.10 386.10,187.72 386.27,183.75 386.44,180.37 386.60,177.78 386.77,176.19 386.94,175.87 387.10,179.89 387.27,188.30 387.44,199.16 387.60,210.53 387.77,220.48 387.94,227.06 388.10,228.45 388.27,225.48 388.44,219.38 388.60,210.90 388.77,200.78 388.93,189.75 389.10,178.55 389.27,167.94 389.43,158.64 389.60,151.40 389.77,146.96 389.93,146.05 390.10,148.77 390.27,154.51 390.43,162.68 390.60,172.64 390.77,183.79 390.93,195.52 391.10,207.20 391.27,218.23 391.43,227.99 391.60,235.86 391.77,241.24 391.93,243.51 392.10,242.06 392.27,237.11 392.43,229.41 392.60,219.70 392.77,208.76 392.93,197.33 393.10,186.16 393.27,176.02 393.43,167.65 393.60,161.82 393.77,159.28 393.93,159.70 394.10,161.38 394.27,164.09 394.43,167.61 394.60,171.75 394.77,176.30 394.93,181.07 395.10,185.84 395.27,190.43 395.43,194.61 395.60,198.20 395.77,200.99 395.93,202.78 396.10,203.36 396.27,201.82 396.43,197.94 396.60,192.22 396.76,185.21 396.93,177.44 397.10,169.42 397.26,161.70 397.43,154.80 397.60,149.25 397.76,145.57 397.93,144.31 398.10,145.12 398.26,147.31 398.43,150.68 398.60,155.05 398.76,160.22 398.93,166.01 399.10,172.22 399.26,178.66 399.43,185.15 399.60,191.49 399.76,197.50 399.93,202.97 400.10,207.73 400.26,211.58 400.43,214.34 400.60,215.80 400.76,215.87 400.93,214.94 401.10,213.18 401.26,210.72 401.43,207.65 401.60,204.09 401.76,200.15 401.93,195.94 402.10,191.57 402.26,187.14 402.43,182.78 402.60,178.59 402.76,174.68 402.93,171.17 403.10,168.15 403.26,165.74 403.43,164.06 403.60,163.21 403.76,163.33 403.93,164.50 404.10,166.62 404.26,169.52 404.43,173.09 404.60,177.17 404.76,181.63 404.93,186.32 405.09,191.11 405.26,195.85 405.43,200.40 405.59,204.63 405.76,208.40 405.93,211.56 406.09,213.97 406.26,215.49 406.43,215.99 406.59,215.39 406.76,213.82 406.93,211.46 407.09,208.45 407.26,204.98 407.43,201.21 407.59,197.29 407.76,193.41 407.93,189.71 408.09,186.38 408.26,183.57 408.43,181.45 408.59,180.18 408.76,179.90 408.93,180.06 409.09,180.41 409.26,180.94 409.43,181.63 409.59,182.47 409.76,183.44 409.93,184.53 410.09,185.71 410.26,186.98 410.43,188.33 410.59,189.72 410.76,191.15 410.93,192.61 411.09,194.07 411.26,195.53 411.43,196.97 411.59,198.36 411.76,199.70 411.93,200.97 412.09,202.16 412.26,203.25 412.43,204.22 412.59,205.06 412.76,205.75 412.93,206.28 413.09,206.64 413.26,206.80 413.43,205.97 413.59,202.46 413.76,197.15 413.92,191.06 414.09,185.19 414.26,180.55 414.42,178.16 414.59,177.78 414.76,177.48 414.92,177.21 415.09,176.98 415.26,176.77 415.42,176.60 415.59,176.46 415.76,176.35 415.92,176.27 416.09,176.22 416.26,176.20 416.42,191.83 416.59,178.89 416.76,181.29 416.92,184.67 417.09,187.91 417.26,190.60 417.42,192.46 417.59,192.57 417.76,192.56 417.92,191.70 418.09,190.55 418.26,189.07 418.42,185.65 418.59,185.30 418.76,183.46 418.92,181.22 419.09,179.24 419.26,177.41 419.42,175.76 419.59,174.39 419.76,173.43 419.92,172.82 420.09,172.75 420.26,173.42 420.42,190.52 420.59,176.97 420.76,179.37 420.92,182.89 421.09,186.43 421.26,190.21 421.42,194.19 421.59,198.22 421.75,202.22 421.92,206.11 422.09,210.01 422.25,213.64 422.42,193.74 422.59,218.40 422.75,220.50 422.92,220.94 423.09,220.95 423.25,219.94 423.42,215.82 423.59,210.51 423.75,203.82 423.92,196.24 424.09,187.59 424.25,178.73 424.42,184.92 424.59,165.30 424.75,158.92 424.92,155.07 425.09,152.26 425.25,152.60 425.42,155.68 425.59,161.87 425.75,171.24 425.92,184.79 426.09,187.60 426.25,185.38 426.42,221.50 426.59,226.86 426.75,235.29 426.92,239.43 427.09,240.97 427.25,239.71 427.42,233.91 427.59,226.19 427.75,216.27 427.92,203.77 428.09,197.49 428.25,194.03 428.42,168.39 428.59,161.70 428.75,153.77 428.92,149.62 429.09,147.84 429.25,148.25 429.42,150.73 429.59,154.11 429.75,158.40 429.92,162.71 430.08,173.20 430.25,185.26 430.42,177.36 430.58,182.73 430.75,186.01 430.92,188.69 431.08,190.90 431.25,193.38 431.42,196.16 431.58,199.38 431.75,202.90 431.92,207.29 432.08,203.64 432.25,203.24 432.42,216.70 432.58,218.32 432.75,220.06 432.92,220.52 433.08,219.71 433.25,217.47 433.42,212.30 433.58,205.99 433.75,198.35 433.92,188.39 434.08,185.33 434.25,176.82 434.42,164.50 434.58,158.52 434.75,152.72 434.92,149.42 435.08,147.77 435.25,148.60 435.42,152.81 435.58,158.90 435.75,166.79 435.92,175.13 436.08,187.58 436.25,194.58 436.42,200.15 436.58,206.63 436.75,209.81 436.92,210.61 437.08,209.76 437.25,208.39 437.42,206.24 437.58,203.77 437.75,201.07 437.92,198.76 438.08,189.79 438.25,191.33 438.41,191.11 438.58,188.95 438.75,188.07 438.91,187.54 439.08,187.23 439.25,186.95 439.41,186.69 439.58,186.47 439.75,186.31 439.91,186.19 440.08,192.39 440.25,187.47 440.41,187.49 440.58,189.86 440.75,192.53 440.91,195.31 441.08,198.00 441.25,199.96 441.41,201.18 441.58,200.74 441.75,199.59 441.91,197.47 442.08,184.33 442.25,188.02 442.41,186.43 442.58,182.03 442.75,178.95 442.91,177.78 443.08,177.60 443.25,178.48 443.41,182.07 443.58,186.50 443.75,191.96 443.91,199.16 444.08,196.01 444.25,208.11 444.41,214.17 444.58,217.37 444.75,219.23 444.91,219.54 445.08,217.13 445.25,213.37 445.41,207.74 445.58,201.45 445.75,194.66 445.91,186.64 446.08,184.39 446.25,177.37 446.41,174.08 446.58,172.70 446.74,173.11 446.91,173.95 447.08,175.47 447.24,177.30 447.41,179.46 447.58,181.49 447.74,184.53 447.91,193.09 448.08,187.98 448.24,190.26 448.41,191.76 448.58,192.59 448.74,192.71 448.91,192.67 449.08,191.98 449.24,191.06 449.41,189.84 449.58,188.43 449.74,186.87 449.91,185.25 450.08,183.45 450.24,181.76 450.41,180.11 450.58,178.57 450.74,177.18 450.91,176.03 451.08,175.10 451.24,174.63 451.41,174.40 451.58,175.25 451.74,178.40 451.91,192.48 452.08,184.65 452.24,190.31 452.41,195.12 452.58,199.42 452.74,203.16 452.91,205.18 453.08,206.07 453.24,205.53 453.41,202.86 453.58,199.32 453.74,194.31 453.91,187.56 454.08,184.66 454.24,178.93 454.41,174.29 454.58,170.72 454.74,168.37 454.91,167.78 455.07,168.98 455.24,171.24 455.41,175.25 455.57,179.62 455.74,185.89 455.91,194.19 456.07,195.11 456.24,201.57 456.41,206.33 456.57,209.89 456.74,212.28 456.91,212.93 457.07,212.38 457.24,211.23 457.41,209.06 457.57,206.98 457.74,201.48 457.91,189.30 458.07,197.48 458.24,193.29 458.41,189.88 458.57,186.87 458.74,184.23 458.91,182.26 459.07,180.79 459.24,180.65 459.41,180.86 459.57,181.50 459.74,184.73 459.91,189.96 460.07,186.19 460.24,188.03 460.41,189.03 460.57,189.50 460.74,189.02 460.91,188.09 461.07,186.55 461.24,185.00 461.41,183.66 461.57,183.06 461.74,183.79 461.91,185.97 462.07,185.68 462.24,188.96 462.41,192.29 462.57,195.89 462.74,199.57 462.91,203.06 463.07,206.27 463.24,208.85 463.40,210.65 463.57,211.01 463.74,204.11 463.90,202.94 464.07,208.12 464.24,205.15 464.40,202.18 464.57,198.60 464.74,194.60 464.90,190.45 465.07,186.43 465.24,182.80 465.40,179.83 465.57,177.81 465.74,176.99 465.90,192.68 466.07,177.63 466.24,176.54 466.40,179.40 466.57,183.59 466.74,188.30 466.90,192.75 467.07,196.12 467.24,197.61 467.40,187.05 467.57,193.39 467.74,193.24 467.90,192.57 468.07,191.52 468.24,190.17 468.40,188.60 468.57,186.88 468.74,185.09 468.90,183.31 469.07,181.60 469.24,180.06 469.40,178.75 469.57,177.76 469.74,177.15 469.90,184.79 470.07,179.27 470.24,180.12 470.40,181.78 470.57,184.06 470.74,186.76 470.90,189.68 471.07,192.64 471.24,195.43 471.40,197.85 471.57,199.72 471.73,200.84 471.90,196.62 472.07,192.43 472.23,201.38 472.40,200.71 472.57,199.49 472.73,197.83 472.90,195.85 473.07,193.70 473.23,191.48 473.40,189.33 473.57,187.36 473.73,185.72 473.90,184.51 474.07,183.86 474.23,183.89 474.40,184.51 474.57,185.61 474.73,187.08 474.90,188.79 475.07,190.63 475.23,192.49 475.40,194.25 475.57,195.80 475.73,197.02 475.90,197.80 476.07,197.50 476.23,184.65 476.40,197.44 476.57,198.36 476.73,196.81 476.90,194.40 477.07,191.48 477.23,188.38 477.40,185.43 477.57,182.98 477.73,181.36 477.90,181.02 478.07,186.42 478.23,193.03 478.40,192.22 478.57,184.92 478.73,180.35 478.90,181.82 479.07,185.47 479.23,190.18 479.40,194.79 479.57,198.15 479.73,199.17 479.90,198.75 480.06,197.79 480.23,196.38 480.40,194.62 480.56,192.61 480.73,190.43 480.90,188.19 481.06,185.97 481.23,183.88 481.40,182.02 481.56,180.46 481.73,179.32 481.90,178.69 482.06,186.31 482.23,201.49 482.40,202.66 482.56,203.64 482.73,204.45 482.90,205.11 483.06,205.63 483.23,206.03 483.40,206.32 483.56,206.52 483.73,206.65 483.90,206.71 484.06,206.69 484.23,201.98 484.40,192.70 484.56,183.56 484.73,179.28 484.90,183.38 485.06,190.58 485.23,192.24 485.40,185.33 485.56,178.29 485.73,178.11 485.90,180.51 486.06,184.24 486.23,188.54 486.40,192.68 486.56,195.93 486.73,197.56 486.90,186.80 487.06,194.59 487.23,194.36 487.40,193.87 487.56,193.15 487.73,192.26 487.90,191.25 488.06,190.15 488.23,189.03 488.39,187.93 488.56,186.89 488.73,185.96 488.89,185.20 489.06,184.65 489.23,184.35 489.39,184.36 489.56,184.69 489.73,185.32 489.89,186.17 490.06,187.20 490.23,188.36 490.39,189.59 490.56,190.83 490.73,192.05 490.89,193.17 491.06,194.16 491.23,194.95 491.39,195.49 491.56,195.74 491.73,195.64 491.89,195.22 492.06,194.53 492.23,193.62 492.39,192.55 492.56,191.37 492.73,190.13 492.89,188.89 493.06,187.69 493.23,186.60 493.39,185.66 493.56,184.93 493.73,184.46 493.89,184.31 494.06,184.39 494.23,184.60 494.39,184.92 494.56,185.35 494.73,185.86 494.89,186.45 495.06,187.10 495.23,187.80 495.39,188.53 495.56,189.27 495.73,190.02 495.89,190.76 496.06,191.47 496.23,192.15 496.39,192.77 496.56,193.32 496.72,193.79 496.89,194.17 497.06,194.44 497.22,194.58 497.39,194.57 497.56,194.27 497.72,193.70 497.89,192.88 498.06,191.85 498.22,190.63 498.39,189.26 498.56,187.77 498.72,186.19 498.89,184.56 499.06,182.89 499.22,181.24 499.39,179.61 499.56,178.06 499.72,176.61 499.89,175.28 500.06,174.12 500.22,173.16 500.39,172.41 500.56,171.93 500.72,171.73 500.89,172.17 501.06,173.66 501.22,176.03 501.39,179.11 501.56,182.72 501.72,186.69 501.89,190.84 502.06,194.98 502.22,198.95 502.39,202.56 502.56,205.64 502.72,208.01 502.89,209.49 503.06,209.91 503.22,209.10 503.39,207.14 503.56,204.25 503.72,200.62 503.89,196.44 504.06,191.93 504.22,187.27 504.39,182.66 504.56,178.31 504.72,174.41 504.89,171.15 505.06,168.75 505.22,167.39 505.39,167.20 505.55,167.64 505.72,168.54 505.89,169.83 506.05,171.47 506.22,173.40 506.39,175.58 506.55,177.95 506.72,180.47 506.89,183.09 507.05,185.75 507.22,188.40 507.39,191.00 507.55,193.49 507.72,195.83 507.89,197.96 508.05,199.83 508.22,201.39 508.39,202.60 508.55,203.40 508.72,203.74 508.89,203.45 509.05,202.33 509.22,200.52 509.39,198.14 509.55,195.35 509.72,192.27 509.89,189.05 510.05,185.82 510.22,182.72 510.39,179.89 510.55,177.47 510.72,175.59 510.89,174.40 511.05,174.02 511.22,174.30 511.39,175.02 511.55,176.14 511.72,177.60 511.89,179.36 512.05,181.38 512.22,183.59 512.39,185.96 512.55,188.44 512.72,190.97 512.89,193.52 513.05,196.03 513.22,198.45 513.38,200.73 513.55,202.84 513.72,204.71 513.88,206.31 514.05,207.58 514.22,208.48 514.38,208.95 514.55,208.89 514.72,207.94 514.88,206.17 515.05,203.74 515.22,200.80 515.38,197.50 515.55,193.99 515.72,190.42 515.88,186.95 516.05,183.73 516.22,180.90 516.38,178.63 516.55,177.05 516.72,176.33 516.88,176.41 517.05,176.83 517.22,177.56 517.38,178.53 517.55,179.72 517.72,181.07 517.88,182.56 518.05,184.14 518.22,185.76 518.38,187.39 518.55,188.99 518.72,190.51 518.88,191.91 519.05,193.16 519.22,194.20 519.38,195.01 519.55,195.54 519.72,195.74 519.88,195.62 520.05,195.23 520.22,194.61 520.38,193.79 520.55,192.81 520.72,191.71 520.88,190.52 521.05,189.29 521.22,188.04 521.38,186.82 521.55,185.66 521.72,184.59 521.88,183.67 522.05,182.91 522.21,182.37 522.38,182.07 522.55,182.08 522.71,182.62 522.88,183.64 523.05,185.07 523.21,186.81 523.38,188.76 523.55,190.84 523.71,192.96 523.88,195.03 524.05,196.96 524.21,198.65 524.38,200.02 524.55,200.98 524.71,201.44 524.88,201.27 525.05,200.42 525.21,198.98 525.38,197.07 525.55,194.80 525.71,192.29 525.88,189.64 526.05,186.98 526.21,184.41 526.38,182.05 526.55,180.02 526.71,178.42 526.88,177.37 527.05,176.99 527.21,177.13 527.38,177.55 527.55,178.21 527.71,179.09 527.88,180.15 528.05,181.38 528.21,182.73 528.38,184.17 528.55,185.69 528.71,187.25 528.88,188.81 529.05,190.35 529.21,191.85 529.38,193.26 529.55,194.57 529.71,195.74 529.88,196.74 530.04,197.54 530.21,198.12 530.38,198.43 530.54,198.47 530.71,198.23 530.88,197.75 531.04,197.05 531.21,196.17 531.38,195.12 531.54,193.94 531.71,192.65 531.88,191.28 532.04,189.86 532.21,188.41 532.38,186.97 532.54,185.55 532.71,184.20 532.88,182.92 533.04,181.76 533.21,180.74 533.38,179.89 533.54,179.23 533.71,178.79 533.88,178.60 534.04,178.78 534.21,179.50 534.38,180.68 534.54,182.22 534.71,184.05 534.88,186.05 535.04,188.16 535.21,190.27 535.38,192.30 535.54,194.16 535.71,195.75 535.88,196.98 536.04,197.77 536.21,198.03 536.38,197.68 536.54,196.77 536.71,195.37 536.88,193.57 537.04,191.44 537.21,189.05 537.38,186.50 537.54,183.86 537.71,181.20 537.88,178.61 538.04,176.16 538.21,173.93 538.38,172.00 538.54,170.45 538.71,169.36 538.87,168.81 539.04,168.86 539.21,169.51 539.37,170.69 539.54,172.31 539.71,174.32 539.87,176.64 540.04,179.19 540.21,181.91 540.37,184.73 540.54,187.57 540.71,190.36 540.87,193.04 541.04,195.52 541.21,197.74 541.37,199.63 541.54,201.12 541.71,202.13 541.87,202.59 542.04,202.54 542.21,202.24 542.37,201.72 542.54,201.02 542.71,200.14 542.87,199.13 543.04,198.01 543.21,196.79 543.37,195.52 543.54,194.20 543.71,192.87 543.87,191.55 544.04,190.26 544.21,189.04 544.37,187.90 544.54,186.88 544.71,185.99 544.87,185.27 545.04,184.73 545.21,184.40 545.37,184.31 545.54,184.49 545.71,184.90 545.87,185.53 546.04,186.34 546.21,187.31 546.37,188.39 546.54,189.55 546.70,190.77 546.87,192.02 547.04,193.26 547.20,194.46 547.37,195.60 547.54,196.63 547.70,197.52 547.87,198.26 548.04,198.80 548.20,199.11 548.37,199.15 548.54,198.78 548.70,198.00 548.87,196.86 549.04,195.43 549.20,193.77 549.37,191.93 549.54,189.97 549.70,187.96 549.87,185.95 550.04,184.01 550.20,182.18 550.37,180.54 550.54,179.15 550.70,178.05 550.87,177.31 551.04,177.00 551.20,177.36 551.37,178.65 551.54,180.66 551.70,183.14 551.87,185.85 552.04,188.56 552.20,191.02 552.37,193.00 552.54,194.27 552.70,194.59 552.87,194.10 553.04,193.03 553.20,191.53 553.37,189.72 553.54,187.73 553.70,185.71 553.87,183.79 554.04,182.09 554.20,180.77 554.37,179.94 554.54,179.75 554.70,180.15 554.87,181.05 555.03,182.37 555.20,184.05 555.37,186.01 555.53,188.18 555.70,190.49 555.87,192.87 556.03,195.25 556.20,197.57 556.37,199.74 556.53,201.70 556.70,203.38 556.87,204.71 557.03,205.61 557.20,206.02 557.37,205.75 557.53,204.55 557.70,202.57 557.87,199.95 558.03,196.86 558.20,193.44 558.37,189.85 558.53,186.25 558.70,182.78 558.87,179.60 559.03,176.87 559.20,174.73 559.37,173.35 559.53,172.87 559.70,173.55 559.87,175.33 560.03,177.98 560.20,181.23 560.37,184.86 560.53,188.59 560.70,192.20 560.87,195.42 561.03,198.02 561.20,199.73 561.37,200.32 561.53,199.96 561.70,199.02 561.87,197.59 562.03,195.78 562.20,193.68 562.37,191.40 562.53,189.03 562.70,186.69 562.87,184.46 563.03,182.45 563.20,180.76 563.37,179.49 563.53,178.75 563.70,178.63 563.86,179.26 564.03,180.51 564.20,182.22 564.36,184.24 564.53,186.39 564.70,188.51 564.86,190.45 565.03,192.03 565.20,193.09 565.36,193.47 565.53,193.16 565.70,192.32 565.86,191.10 566.03,189.60 566.20,187.97 566.36,186.31 566.53,184.77 566.70,183.46 566.86,182.51 567.03,182.05 567.20,182.37 567.36,183.86 567.53,186.26 567.70,189.27 567.86,192.60 568.03,195.95 568.20,199.04 568.36,201.56 568.53,203.23 568.70,203.75 568.86,203.57 569.03,203.10 569.20,202.38 569.36,201.44 569.53,200.30 569.70,198.99 569.86,197.55 570.03,196.00 570.20,194.36 570.36,192.67 570.53,190.95 570.70,189.24 570.86,187.56 571.03,185.95 571.20,184.42 571.36,183.00 571.53,181.74 571.69,180.65 571.86,179.76 572.03,179.10 572.19,178.70 572.36,178.60 572.53,178.91 572.69,179.64 572.86,180.72 573.03,182.08 573.19,183.65 573.36,185.34 573.53,187.08 573.69,188.81 573.86,190.44 574.03,191.90 574.19,193.11 574.36,194.01 574.53,194.52 574.69,194.58 574.86,194.39 575.03,194.00 575.19,193.46 575.36,192.78 575.53,192.00 575.69,191.14 575.86,190.23 576.03,189.29 576.19,188.36 576.36,187.46 576.53,186.63 576.69,185.88 576.86,185.24 577.03,184.75 577.19,184.43 577.36,184.31 577.53,184.48 577.69,184.99 577.86,185.79 578.03,186.82 578.19,188.02 578.36,189.33 578.53,190.70 578.69,192.06 578.86,193.36 579.03,194.54 579.19,195.54 579.36,196.30 579.53,196.77 579.69,196.88 579.86,196.60 580.02,195.99 580.19,195.09 580.36,193.96 580.52,192.68 580.69,191.30 580.86,189.88 581.02,188.48 581.19,187.16 581.36,185.98 581.52,185.01 581.69,184.30 581.86,183.91 582.02,183.88 582.19,184.10 582.36,184.51 582.52,185.08 582.69,185.77 582.86,186.54 583.02,187.36 583.19,188.19 583.36,189.01 583.52,189.76 583.69,190.43 583.86,190.96 584.02,191.33 584.19,191.50 584.36,191.47 584.52,191.29 584.69,191.00 584.86,190.61 585.02,190.15 585.19,189.65 585.36,189.11 585.52,188.58 585.69,188.07 585.86,187.60 586.02,187.19 586.19,186.87 586.36,186.67 586.52,186.60 586.69,187.08 586.86,188.27 587.02,189.88 587.19,191.62 587.36,193.18 587.52,194.27 587.69,194.60 587.86,194.52 588.02,194.33 588.19,194.04 588.36,193.65 588.52,193.19 588.69,192.65 588.85,192.05 589.02,191.39 589.19,190.70 589.35,189.97 589.52,189.22 589.69,188.46 589.85,187.70 590.02,186.95 590.19,186.21 590.35,185.50 590.52,184.83 590.69,184.21 590.85,183.64 591.02,183.15 591.19,182.73 591.35,182.40 591.52,182.17 591.69,182.04 591.85,182.09 592.02,182.69 592.19,183.84 592.35,185.44 592.52,187.38 592.69,189.56 592.85,191.89 593.02,194.26 593.19,196.57 593.35,198.72 593.52,200.62 593.69,202.15 593.85,203.22 594.02,203.72 594.19,203.62 594.35,203.05 594.52,202.05 594.69,200.69 594.85,199.02 595.02,197.09 595.19,194.95 595.35,192.66 595.52,190.27 595.69,187.83 595.85,185.39 596.02,183.02 596.19,180.75 596.35,178.65 596.52,176.77 596.68,175.16 596.85,173.87 597.02,172.96 597.18,172.48 597.35,172.55 597.52,173.59 597.68,175.48 597.85,178.00 598.02,180.94 598.18,184.09 598.35,187.24 598.52,190.18 598.68,192.70 598.85,194.58 599.02,195.61 599.18,195.72 599.35,195.51 599.52,195.14 599.68,194.63 599.85,194.01 600.02,193.32 600.18,192.58 600.35,191.83 600.52,191.10 600.68,190.43 600.85,189.84 601.02,189.36 601.18,189.04 601.35,188.89 601.52,188.93 601.68,189.10 601.85,189.37 602.02,189.73 602.18,190.16 602.35,190.63 602.52,191.13 602.68,191.63 602.85,192.10 603.02,192.54 603.18,192.92 603.35,193.21 603.52,193.40 603.68,193.46 603.85,193.31 604.02,192.91 604.18,192.30 604.35,191.54 604.52,190.65 604.68,189.69 604.85,188.70 605.01,187.71 605.18,186.77 605.35,185.93 605.51,185.22 605.68,184.69 605.85,184.37 606.01,184.32 606.18,184.52 606.35,184.92 606.51,185.49 606.68,186.19 606.85,186.99 607.01,187.84 607.18,188.71 607.35,189.57 607.51,190.37 607.68,191.08 607.85,191.66 608.01,192.08 608.18,192.29 608.35,192.24 608.51,191.79 608.68,191.02 608.85,190.02 609.01,188.85 609.18,187.61 609.35,186.38 609.51,185.24 609.68,184.28 609.85,183.57 610.01,183.20 610.18,183.20 610.35,183.38 610.51,183.70 610.68,184.15 610.85,184.71 611.01,185.37 611.18,186.10 611.35,186.88 611.51,187.71 611.68,188.56 611.85,189.42 612.01,190.27 612.18,191.09 612.35,191.86 612.51,192.57 612.68,193.21 612.85,193.74 613.01,194.16 613.18,194.45 613.35,194.59 613.51,194.57 613.68,194.38 613.84,194.05 614.01,193.60 614.18,193.05 614.34,192.43 614.51,191.75 614.68,191.03 614.84,190.30 615.01,189.58 615.18,188.90 615.34,188.26 615.51,187.69 615.68,187.22 615.84,186.87 616.01,186.66 616.18,186.60 616.34,186.69 616.51,186.91 616.68,187.25 616.84,187.69 617.01,188.22 617.18,188.81 617.34,189.47 617.51,190.17 617.68,190.90 617.84,191.65 618.01,192.39 618.18,193.13 618.34,193.84 618.51,194.51 618.68,195.12 618.84,195.67 619.01,196.13 619.18,196.49 619.34,196.75 619.51,196.88 619.68,196.84 619.84,196.50 620.01,195.90 620.18,195.05 620.34,194.01 620.51,192.81 620.68,191.48 620.84,190.07 621.01,188.60 621.18,187.12 621.34,185.67 621.51,184.28 621.67,182.98 621.84,181.82 622.01,180.84 622.17,180.06 622.34,179.53 622.51,179.29 622.67,179.38 622.84,179.84 623.01,180.62 623.17,181.64 623.34,182.85 623.51,184.19 623.67,185.60 623.84,187.02 624.01,188.38 624.17,189.64 624.34,190.72 624.51,191.56 624.67,192.12 624.84,192.31 625.01,192.23 625.17,191.99 625.34,191.62 625.51,191.14 625.67,190.59 625.84,189.99 626.01,189.37 626.17,188.75 626.34,188.17 626.51,187.63 626.67,187.19 626.84,186.85 627.01,186.64 627.17,186.60 627.34,186.73 627.51,187.01 627.67,187.42 627.84,187.93 628.01,188.53 628.17,189.19 628.34,189.90 628.51,190.62 628.67,191.35 628.84,192.05 629.01,192.71 629.17,193.30 629.34,193.81 629.51,194.21 629.67,194.48 629.84,194.60 630.00,194.53 630.17,194.26 630.34,193.81 630.50,193.22 630.67,192.50 630.84,191.68 631.00,190.80 631.17,189.87 631.34,188.94 631.50,188.01 631.67,187.14 631.84,186.33 632.00,185.62 632.17,185.04 632.34,184.61 632.50,184.36 632.67,184.33 632.84,184.63 633.00,185.26 633.17,186.16 633.34,187.26 633.50,188.51 633.67,189.85 633.84,191.22 634.00,192.57 634.17,193.83 634.34,194.95 634.50,195.86 634.67,196.52 634.84,196.86 635.00,196.86 635.17,196.66 635.34,196.30 635.50,195.81 635.67,195.20 635.84,194.49 636.00,193.72 636.17,192.89 636.34,192.03 636.50,191.17 636.67,190.32 636.84,189.51 637.00,188.75 637.17,188.07 637.34,187.50 637.50,187.05 637.67,186.74 637.84,186.60 638.00,186.65 638.17,186.90 638.34,187.31 638.50,187.85 638.67,188.49 638.83,189.19 639.00,189.93 639.17,190.68 639.33,191.40 639.50,192.06 639.67,192.62 639.83,193.07 640.00,193.36 640.17,193.46 640.33,193.26 640.50,192.73 640.67,191.91 640.83,190.86 641.00,189.65 641.17,188.33 641.33,186.97 641.50,185.61 641.67,184.31 641.83,183.15 642.00,182.16 642.17,181.42 642.33,180.98 642.50,180.91 642.67,181.40 642.83,182.41 643.00,183.82 643.17,185.51 643.33,187.35 643.50,189.21 643.67,190.98 643.83,192.52 644.00,193.72 644.17,194.44 644.33,194.57 644.50,194.11 644.67,193.14 644.83,191.79 645.00,190.14 645.17,188.29 645.33,186.36 645.50,184.44 645.67,182.64 645.83,181.05 646.00,179.77 646.17,178.92 646.33,178.59 646.50,178.74 646.66,179.19 646.83,179.92 647.00,180.88 647.16,182.02 647.33,183.33 647.50,184.74 647.66,186.24 647.83,187.77 648.00,189.30 648.16,190.79 648.33,192.21 648.50,193.50 648.66,194.65 648.83,195.59 649.00,196.31 649.16,196.75 649.33,196.89 649.50,196.76 649.66,196.43 649.83,195.91 650.00,195.24 650.16,194.43 650.33,193.51 650.50,192.50 650.66,191.41 650.83,190.28 651.00,189.12 651.16,187.95 651.33,186.81 651.50,185.70 651.66,184.66 651.83,183.69 652.00,182.84 652.16,182.11 652.33,181.53 652.50,181.12 652.66,180.91 652.83,180.90 653.00,181.10 653.16,181.48 653.33,182.02 653.50,182.70 653.66,183.49 653.83,184.39 654.00,185.36 654.16,186.39 654.33,187.45 654.50,188.53 654.66,189.61 654.83,190.66 655.00,191.67 655.16,192.61 655.33,193.47 655.49,194.22 655.66,194.84 655.83,195.32 655.99,195.62 656.16,195.74 656.33,195.67 656.49,195.42 656.66,195.01 656.83,194.46 656.99,193.79 657.16,193.00 657.33,192.13 657.49,191.17 657.66,190.16 657.83,189.10 657.99,188.01 658.16,186.91 658.33,185.81 658.49,184.73 658.66,183.69 658.83,182.70 658.99,181.78 659.16,180.95 659.33,180.21 659.49,179.59 659.66,179.11 659.83,178.78 659.99,178.61 660.16,178.70 660.33,179.35 660.49,180.53 660.66,182.14 660.83,184.10 660.99,186.33 661.16,188.73 661.33,191.21 661.49,193.70 661.66,196.09 661.83,198.31 661.99,200.26 662.16,201.86 662.33,203.03 662.49,203.66 662.66,203.64 662.83,202.73 662.99,201.03 663.16,198.70 663.33,195.93 663.49,192.86 663.66,189.68 663.82,186.55 663.99,183.63 664.16,181.09 664.32,179.11 664.49,177.84 664.66,177.45 664.82,177.68 664.99,178.24 665.16,179.10 665.32,180.22 665.49,181.54 665.66,183.03 665.82,184.64 665.99,186.34 666.16,188.06 666.32,189.78 666.49,191.45 666.66,193.02 666.82,194.45 666.99,195.70 667.16,196.73 667.32,197.49 667.49,197.93 667.66,198.01 667.82,197.59 667.99,196.67 668.16,195.36 668.32,193.73 668.49,191.88 668.66,189.89 668.82,187.84 668.99,185.83 669.16,183.94 669.32,182.26 669.49,180.88 669.66,179.87 669.82,179.34 669.99,179.32 670.16,179.62 670.32,180.18 670.49,180.95 670.66,181.91 670.82,183.00 670.99,184.20 671.16,185.46 671.32,186.75 671.49,188.03 671.65,189.25 671.82,190.40 671.99,191.41 672.15,192.26 672.32,192.91 672.49,193.32 672.65,193.46 672.82,193.25 672.99,192.71 673.15,191.88 673.32,190.82 673.49,189.57 673.65,188.20 673.82,186.75 673.99,185.28 674.15,183.83 674.32,182.46 674.49,181.22 674.65,180.16 674.82,179.33 674.99,178.79 675.15,178.59 675.32,178.75 675.49,179.21 675.65,179.95 675.82,180.92 675.99,182.07 676.15,183.35 676.32,184.74 676.49,186.19 676.65,187.64 676.82,189.06 676.99,190.41 677.15,191.65 677.32,192.72 677.49,193.59 677.65,194.22 677.82,194.56 677.99,194.59 678.15,194.45 678.32,194.19 678.49,193.82 678.65,193.35 678.82,192.80 678.99,192.19 679.15,191.51 679.32,190.80 679.49,190.07 679.65,189.32 679.82,188.57 679.99,187.84 680.15,187.14 680.32,186.49 680.48,185.90 680.65,185.38 680.82,184.94 680.98,184.61 681.15,184.40 681.32,184.31 681.48,184.40 681.65,184.69 681.82,185.16 681.98,185.80 682.15,186.59 682.32,187.49 682.48,188.48 682.65,189.56 682.82,190.68 682.98,191.84 683.15,193.00 683.32,194.15 683.48,195.27 683.65,196.33 683.82,197.31 683.98,198.19 684.15,198.95 684.32,199.56 684.48,200.01 684.65,200.26 684.82,200.31 684.98,200.04 685.15,199.48 685.32,198.66 685.48,197.63 685.65,196.42 685.82,195.10 685.98,193.69 686.15,192.23 686.32,190.78 686.48,189.38 686.65,188.07 686.82,186.88 686.98,185.87 687.15,185.08 687.32,184.54 687.48,184.32 687.65,184.37 687.82,184.61 687.98,185.00 688.15,185.52 688.31,186.15 688.48,186.88 688.65,187.67 688.81,188.50 688.98,189.36 689.15,190.23 689.31,191.07 689.48,191.87 689.65,192.61 689.81,193.26 689.98,193.81 690.15,194.23 690.31,194.50 690.48,194.60 690.65,194.43 690.81,193.91 690.98,193.09 691.15,192.03 691.31,190.76 691.48,189.34 691.65,187.81 691.81,186.22 691.98,184.62 692.15,183.06 692.31,181.58 692.48,180.22 692.65,179.04 692.81,178.09 692.98,177.40 693.15,177.04 693.31,177.06 693.48,177.57 693.65,178.52 693.81,179.85 693.98,181.47 694.15,183.32 694.31,185.32 694.48,187.39 694.65,189.47 694.81,191.48 694.98,193.35 695.15,195.00 695.31,196.37 695.48,197.37 695.65,197.93 695.81,198.01 695.98,197.80 696.15,197.38 696.31,196.78 696.48,196.03 696.64,195.16 696.81,194.20 696.98,193.19 697.14,192.15 697.31,191.12 697.48,190.12 697.64,189.19 697.81,188.36 697.98,187.65 698.14,187.10 698.31,186.74 698.48,186.60 698.64,186.67 698.81,186.90 698.98,187.26 699.14,187.73 699.31,188.27 699.48,188.87 699.64,189.49 699.81,190.11 699.98,190.70 700.14,191.24 700.31,191.69 700.48,192.04 700.64,192.26 700.81,192.31 700.98,192.17 701.14,191.84 701.31,191.38 701.48,190.83 701.64,190.22 701.81,189.59 701.98,189.00 702.14,188.48 702.31,188.07 702.48,187.81 702.64,187.74 702.81,187.81 702.98,187.96 703.14,188.19 703.31,188.48 703.48,188.82 703.64,189.20 703.81,189.60 703.98,190.01 704.14,190.43 704.31,190.83 704.48,191.21 704.64,191.55 704.81,191.85 704.97,192.08 705.14,192.24 705.31,192.31 705.47,192.25 705.64,191.97 705.81,191.49 705.97,190.86 706.14,190.12 706.31,189.30 706.47,188.43 706.64,187.56 706.81,186.72 706.97,185.95 707.14,185.29 707.31,184.77 707.47,184.43 707.64,184.31 707.81,184.44 707.97,184.82 708.14,185.41 708.31,186.17 708.47,187.08 708.64,188.10 708.81,189.19 708.97,190.33 709.14,191.47 709.31,192.59 709.47,193.65 709.64,194.61 709.81,195.45 709.97,196.12 710.14,196.61 710.31,196.86 710.47,196.85 710.64,196.58 710.81,196.08 710.97,195.38 711.14,194.51 711.31,193.50 711.47,192.38 711.64,191.19 711.81,189.95 711.97,188.70 712.14,187.48 712.31,186.30 712.47,185.20 712.64,184.22 712.81,183.38 712.97,182.71 713.14,182.25 713.30,182.04 713.47,182.07 713.64,182.31 713.80,182.72 713.97,183.28 714.14,183.97 714.30,184.76 714.47,185.63 714.64,186.55 714.80,187.50 714.97,188.46 715.14,189.40 715.30,190.30 715.47,191.14 715.64,191.88 715.80,192.50 715.97,192.99 716.14,193.32 716.30,193.46 716.47,193.39 716.64,193.14 716.80,192.74 716.97,192.20 717.14,191.56 717.30,190.83 717.47,190.04 717.64,189.22 717.80,188.39 717.97,187.57 718.14,186.80 718.30,186.08 718.47,185.45 718.64,184.94 718.80,184.56 718.97,184.35 719.14,184.33 719.30,184.65 719.47,185.29 719.64,186.20 719.80,187.30 719.97,188.56 720.14,189.90 720.30,191.27 720.47,192.62 720.64,193.87 720.80,194.98 720.97,195.89 721.14,196.54 721.30,196.86 721.47,196.86 721.63,196.67 721.80,196.33 721.97,195.86 722.13,195.27 722.30,194.59 722.47,193.82 722.63,192.99 722.80,192.12 722.97,191.21 723.13,190.30 723.30,189.39 723.47,188.50 723.63,187.66 723.80,186.87 723.97,186.15 724.13,185.53 724.30,185.02 724.47,184.63 724.63,184.39 724.80,184.31 724.97,184.49 725.13,184.99 725.30,185.74 725.47,186.69 725.63,187.79 725.80,188.99 725.97,190.24 726.13,191.47 726.30,192.65 726.47,193.70 726.63,194.59 726.80,195.26 726.97,195.66 727.13,195.73 727.30,195.43 727.47,194.80 727.63,193.91 727.80,192.81 727.97,191.57 728.13,190.23 728.30,188.85 728.47,187.51 728.63,186.25 728.80,185.13 728.97,184.21 729.13,183.54 729.30,183.20 729.47,183.20 729.63,183.44 729.80,183.87 729.96,184.48 730.13,185.22 730.30,186.08 730.46,187.03 730.63,188.04 730.80,189.09 730.96,190.14 731.13,191.18 731.30,192.17 731.46,193.10 731.63,193.93 731.80,194.63 731.96,195.18 732.13,195.56 732.30,195.74 732.46,195.52 732.63,194.58 732.80,193.06 732.96,191.16 733.13,189.05 733.30,186.94 733.46,184.99 733.63,183.40 733.80,182.35 733.96,182.02 734.13,182.12 734.30,182.36 734.46,182.73 734.63,183.21 734.80,183.79 734.96,184.45 735.13,185.17 735.30,185.95 735.46,186.76 735.63,187.59 735.80,188.42 735.96,189.24 736.13,190.03 736.30,190.78 736.46,191.46 736.63,192.07 736.80,192.59 736.96,193.00 737.13,193.29 737.30,193.44 737.46,193.43 737.63,193.22 737.80,192.85 737.96,192.34 738.13,191.72 738.29,191.02 738.46,190.28 738.63,189.54 738.79,188.81 738.96,188.14 739.13,187.55 739.29,187.07 739.46,186.75 739.63,186.60 739.79,186.62 739.96,186.72 740.13,186.88 740.29,187.11 740.46,187.38 740.63,187.70 740.79,188.05 740.96,188.43 741.13,188.83 741.29,189.25 741.46,189.66 741.63,190.07 741.79,190.47 741.96,190.86 742.13,191.21 742.29,191.53 742.46,191.80 742.63,192.03 742.79,192.19 742.96,192.29 743.13,192.31 743.29,192.27 743.46,192.17 743.63,192.02 743.79,191.82 743.96,191.59 744.13,191.32 744.29,191.03 744.46,190.72 744.63,190.39 744.79,190.06 744.96,189.73 745.13,189.40 745.29,189.09 745.46,188.79 745.63,188.52 745.79,188.28 745.96,188.07 746.13,187.91 746.29,187.80 746.46,187.75 746.62,187.76 746.79,187.88 746.96,188.09 747.12,188.39 747.29,188.74 747.46,189.15 747.62,189.60 747.79,190.07 747.96,190.55 748.12,191.02 748.29,191.47 748.46,191.89 748.62,192.27 748.79,192.58 748.96,192.81 749.12,192.96 749.29,193.00 749.46,192.93 749.62,192.75 749.79,192.48 749.96,192.13 750.12,191.72 750.29,191.25 750.46,190.75 750.62,190.23 750.79,189.69 750.96,189.15 751.12,188.64 751.29,188.15 751.46,187.70 751.62,187.31 751.79,187.00 751.96,186.76 752.12,186.63 752.29,186.60 752.46,186.71 752.62,186.96 752.79,187.31 752.96,187.76 753.12,188.28 753.29,188.87 753.46,189.51 753.62,190.17 753.79,190.84 753.96,191.51 754.12,192.15 754.29,192.75 754.46,193.30 754.62,193.77 754.79,194.15 754.95,194.43 755.12,194.58 755.29,194.59 755.45,194.43 755.62,194.13 755.79,193.70 755.95,193.17 756.12,192.56 756.29,191.89 756.45,191.18 756.62,190.46 756.79,189.73 756.95,189.04 757.12,188.39 757.29,187.81 757.45,187.31 757.62,186.93 757.79,186.69 757.95,186.60 758.12,186.66 758.29,186.86 758.45,187.18 758.62,187.59 758.79,188.09 758.95,188.64 759.12,189.24 759.29,189.85 759.45,190.48 759.62,191.09 759.79,191.67 759.95,192.19 760.12,192.65 760.29,193.03 760.45,193.29 760.62,193.44 760.79,193.45 760.95,193.34 761.12,193.15 761.29,192.87 761.45,192.52 761.62,192.10 761.79,191.63 761.95,191.12 762.12,190.57 762.29,190.00 762.45,189.41 762.62,188.82 762.79,188.23 762.95,187.65 763.12,187.11 763.28,186.59 763.45,186.12 763.62,185.70 763.78,185.35 763.95,185.07 764.12,184.88 764.28,184.78 764.45,184.79 764.62,184.93 764.78,185.20 764.95,185.57 765.12,186.03 765.28,186.56 765.45,187.14 765.62,187.75 765.78,188.37 765.95,188.99 766.12,189.59 766.28,190.14 766.45,190.63 766.62,191.04 766.78,191.36 766.95,191.56 767.12,191.63 767.28,191.56 767.45,191.40 767.62,191.14 767.78,190.82 767.95,190.44 768.12,190.03 768.28,189.61 768.45,189.19 768.62,188.79 768.78,188.43 768.95,188.13 769.12,187.90 769.28,187.77 769.45,187.75 769.62,187.86 769.78,188.09 769.95,188.41 770.12,188.81 770.28,189.27 770.45,189.75 770.62,190.25 770.78,190.74 770.95,191.20 771.12,191.61 771.28,191.94 771.45,192.18 771.62,192.30 771.78,192.27 771.95,191.98 772.11,191.46 772.28,190.77 772.45,189.94 772.61,189.01 772.78,188.02 772.95,187.02 773.11,186.06 773.28,185.16 773.45,184.39" stroke="#0072BD" stroke-width="1.1"/>
<polyline points="59.40,189.80 59.57,189.80 59.73,189.80 59.90,189.80 60.07,189.80 60.23,189.80 60.40,189.80 60.57,189.80 60.73,189.80 60.90,189.80 61.07,189.80 61.23,189.80 61.40,189.80 61.57,189.80 61.73,189.80 61.90,189.80 62.07,189.80 62.23,189.80 62.40,189.80 62.57,189.80 62.73,189.80 62.90,189.80 63.07,189.80 63.23,189.80 63.40,189.80 63.56,189.80 63.73,189.80 63.90,189.80 64.06,189.80 64.23,189.80 64.40,189.80 64.56,189.80 64.73,189.80 64.90,189.80 65.06,189.80 65.23,189.80 65.40,189.80 65.56,189.80 65.73,189.80 65.90,189.80 66.06,189.80 66.23,189.80 66.40,189.80 66.56,189.80 66.73,189.80 66.90,189.80 67.06,189.80 67.23,189.80 67.40,189.80 67.56,189.80 67.73,189.80 67.90,189.80 68.06,189.80 68.23,189.80 68.40,189.80 68.56,189.80 68.73,189.80 68.90,189.80 69.06,189.80 69.23,189.80 69.40,189.80 69.56,189.80 69.73,189.80 69.90,189.80 70.06,189.80 70.23,189.80 70.40,189.80 70.56,189.80 70.73,189.80 70.90,189.80 71.06,189.80 71.23,189.80 71.40,189.80 71.56,189.80 71.73,189.80 71.89,189.80 72.06,189.80 72.23,189.80 72.39,189.80 72.56,189.80 72.73,189.80 72.89,189.80 73.06,189.80 73.23,189.80 73.39,189.80 73.56,189.80 73.73,189.80 73.89,189.80 74.06,189.80 74.23,189.80 74.39,189.80 74.56,189.80 74.73,189.80 74.89,189.80 75.06,189.80 75.23,189.80 75.39,189.80 75.56,189.80 75.73,189.80 75.89,189.80 76.06,189.80 76.23,189.80 76.39,189.80 76.56,189.80 76.73,189.80 76.89,189.80 77.06,189.80 77.23,189.80 77.39,189.80 77.56,189.80 77.73,189.80 77.89,189.80 78.06,189.80 78.23,189.80 78.39,189.80 78.56,189.80 78.73,189.80 78.89,189.80 79.06,189.80 79.23,189.80 79.39,189.80 79.56,189.80 79.73,189.80 79.89,189.80 80.06,189.80 80.22,189.80 80.39,189.80 80.56,189.80 80.72,189.80 80.89,189.80 81.06,189.80 81.22,189.80 81.39,189.80 81.56,189.80 81.72,189.80 81.89,189.80 82.06,189.80 82.22,189.80 82.39,189.80 82.56,189.80 82.72,189.80 82.89,189.80 83.06,189.80 83.22,189.80 83.39,189.84 83.56,189.93 83.72,190.04 83.89,190.15 84.06,190.24 84.22,190.29 84.39,190.26 84.56,190.12 84.72,189.91 84.89,189.69 85.06,189.48 85.22,189.34 85.39,189.32 85.56,189.41 85.72,189.59 85.89,189.82 86.06,190.04 86.22,190.21 86.39,190.29 86.56,190.24 86.72,190.09 86.89,189.88 87.06,189.65 87.22,189.46 87.39,189.33 87.56,189.32 87.72,189.43 87.89,189.62 88.06,189.85 88.22,190.06 88.39,190.23 88.56,190.29 88.72,190.23 88.89,190.06 89.05,189.85 89.22,189.62 89.39,189.43 89.55,189.32 89.72,189.33 89.89,189.46 90.05,189.65 90.22,189.88 90.39,190.09 90.55,190.24 90.72,190.29 90.89,190.21 91.05,190.04 91.22,189.82 91.39,189.59 91.55,189.41 91.72,189.32 91.89,189.34 92.05,189.48 92.22,189.69 92.39,189.91 92.55,190.12 92.72,190.26 92.89,190.28 93.05,190.19 93.22,190.01 93.39,189.78 93.55,189.56 93.72,189.39 93.89,189.31 94.05,189.33 94.22,189.40 94.39,189.50 94.55,189.61 94.72,189.71 94.89,189.78 95.05,189.60 95.22,188.12 95.39,188.12 95.55,188.12 95.72,188.12 95.89,188.12 96.05,188.12 96.22,188.12 96.39,188.27 96.55,190.42 96.72,198.02 96.88,207.41 97.05,214.88 97.22,217.12 97.38,212.50 97.55,203.43 97.72,192.96 97.88,184.84 98.05,182.47 98.22,186.22 98.38,196.67 98.55,208.79 98.72,219.28 98.88,221.62 99.05,216.12 99.22,199.32 99.38,181.79 99.55,172.56 99.72,172.13 99.88,174.55 100.05,171.55 100.22,159.57 100.38,139.02 100.55,114.28 100.72,88.90 100.88,66.39 101.05,50.31 101.22,44.03 101.38,50.44 101.55,67.06 101.72,92.74 101.88,124.74 102.05,160.74 102.22,198.70 102.38,237.06 102.55,272.39 102.72,302.38 102.88,324.77 103.05,335.62 103.22,336.33 103.38,328.94 103.55,314.81 103.72,296.00 103.88,273.87 104.05,249.81 104.22,225.19 104.38,201.37 104.55,180.14 104.72,162.84 104.88,150.43 105.05,144.22 105.22,146.85 105.38,159.40 105.55,178.51 105.71,199.56 105.88,217.63 106.05,225.82 106.21,226.51 106.38,220.36 106.55,210.94 106.71,199.25 106.88,186.64 107.05,173.89 107.21,162.35 107.38,153.35 107.55,148.31 107.71,147.32 107.88,151.99 108.05,160.59 108.21,172.22 108.38,185.75 108.55,200.06 108.71,214.05 108.88,226.59 109.05,236.61 109.21,243.17 109.38,244.14 109.55,241.24 109.71,233.93 109.88,223.82 110.05,212.06 110.21,199.78 110.38,188.09 110.55,178.10 110.71,170.87 110.88,168.35 111.05,169.04 111.21,172.31 111.38,176.93 111.55,181.83 111.71,186.05 111.88,188.72 112.05,188.24 112.21,185.10 112.38,178.82 112.55,170.42 112.71,160.55 112.88,149.86 113.05,139.03 113.21,128.70 113.38,119.54 113.55,112.21 113.71,107.36 113.88,106.77 114.04,111.47 114.21,126.84 114.38,147.60 114.54,170.75 114.71,193.15 114.88,211.75 115.04,222.39 115.21,224.49 115.38,223.97 115.54,222.85 115.71,221.39 115.88,219.69 116.04,216.07 116.21,210.44 116.38,203.51 116.54,196.24 116.71,189.50 116.88,184.19 117.04,181.22 117.21,181.90 117.38,187.32 117.54,196.16 117.71,206.01 117.88,214.71 118.04,218.81 118.21,218.91 118.38,210.33 118.54,197.72 118.71,183.98 118.88,172.02 119.04,166.35 119.21,166.59 119.38,173.10 119.54,183.87 119.71,196.92 119.88,210.67 120.04,223.45 120.21,233.71 120.38,239.08 120.54,239.04 120.71,232.73 120.88,220.33 121.04,203.75 121.21,184.18 121.38,162.87 121.54,141.02 121.71,119.87 121.88,100.68 122.04,84.68 122.21,73.16 122.37,67.29 122.54,69.74 122.71,82.78 122.87,103.79 123.04,128.28 123.21,152.04 123.37,170.21 123.54,181.01 123.71,187.45 123.87,193.36 124.04,198.05 124.21,201.09 124.37,201.43 124.54,200.47 124.71,197.71 124.87,194.86 125.04,192.99 125.21,193.43 125.37,197.73 125.54,205.48 125.71,215.46 125.87,226.52 126.04,237.52 126.21,247.32 126.37,254.81 126.54,259.01 126.71,258.37 126.87,254.92 127.04,248.32 127.21,239.54 127.37,229.18 127.54,217.86 127.71,206.19 127.87,194.78 128.04,184.27 128.21,175.26 128.37,168.36 128.54,164.47 128.71,163.65 128.87,165.82 129.04,170.02 129.21,174.54 129.37,178.17 129.54,178.45 129.71,177.17 129.87,173.51 130.04,169.51 130.20,166.46 130.37,165.26 130.54,167.00 130.70,171.07 130.87,177.13 131.04,184.74 131.20,193.44 131.37,202.79 131.54,212.36 131.70,221.69 131.87,230.35 132.04,237.89 132.20,243.87 132.37,247.92 132.54,248.84 132.70,248.19 132.87,244.31 133.04,238.61 133.20,231.47 133.37,223.38 133.54,214.84 133.70,206.32 133.87,198.34 134.04,191.38 134.20,185.96 134.37,182.52 134.54,181.29 134.70,180.77 134.87,180.24 135.04,178.86 135.20,175.56 135.37,170.04 135.54,162.96 135.70,154.73 135.87,145.79 136.04,136.57 136.20,127.51 136.37,119.03 136.54,111.56 136.70,105.55 136.87,101.46 137.04,99.60 137.20,102.44 137.37,112.09 137.54,127.39 137.70,146.41 137.87,167.37 138.04,188.46 138.20,207.87 138.37,223.85 138.53,234.82 138.70,238.02 138.87,236.80 139.03,233.02 139.20,227.20 139.37,219.81 139.53,211.23 139.70,201.88 139.87,192.14 140.03,182.43 140.20,173.15 140.37,164.68 140.53,157.44 140.70,151.81 140.87,148.29 141.03,147.01 141.20,151.79 141.37,163.14 141.53,179.31 141.70,198.06 141.87,217.23 142.03,234.66 142.20,248.15 142.37,255.54 142.53,255.38 142.70,250.19 142.87,240.54 143.03,227.75 143.20,212.80 143.37,196.68 143.53,180.40 143.70,164.95 143.87,151.29 144.03,140.44 144.20,133.24 144.37,132.14 144.53,133.13 144.70,137.79 144.87,143.96 145.03,150.98 145.20,158.12 145.37,163.65 145.53,169.20 145.70,174.77 145.87,180.32 146.03,185.84 146.20,191.30 146.37,196.68 146.53,201.95 146.70,207.09 146.87,212.06 147.03,216.86 147.20,221.46 147.36,225.82 147.53,229.92 147.70,233.75 147.86,237.28 148.03,240.47 148.20,243.32 148.36,245.78 148.53,247.84 148.70,249.48 148.86,250.67 149.03,251.38 149.20,251.56 149.36,246.69 149.53,234.88 149.70,217.98 149.86,197.86 150.03,176.38 150.20,155.38 150.36,136.74 150.53,122.31 150.70,113.95 150.86,113.14 151.03,117.94 151.20,126.88 151.36,138.95 151.53,153.13 151.70,168.40 151.86,183.74 152.03,198.13 152.20,210.55 152.36,219.99 152.53,225.43 152.70,225.51 152.86,217.77 153.03,204.21 153.20,187.71 153.36,171.14 153.53,157.36 153.70,149.24 153.86,150.60 154.03,166.32 154.20,192.15 154.36,222.83 154.53,253.07 154.70,277.58 154.86,291.07 155.03,289.64 155.19,276.34 155.36,253.81 155.53,224.43 155.69,190.60 155.86,154.69 156.03,119.09 156.19,86.16 156.36,58.31 156.53,37.90 156.69,27.31 156.86,29.77 157.03,48.12 157.19,78.96 157.36,118.39 157.53,162.53 157.69,207.47 157.86,249.32 158.03,284.20 158.19,308.21 158.36,317.46 158.53,314.05 158.69,304.26 158.86,289.50 159.03,271.17 159.19,250.67 159.36,229.42 159.53,208.81 159.69,190.24 159.86,175.12 160.03,164.86 160.19,160.85 160.36,163.19 160.53,169.86 160.69,179.32 160.86,190.06 161.03,200.56 161.19,209.30 161.36,214.78 161.53,215.05 161.69,205.51 161.86,187.92 162.03,165.59 162.19,141.87 162.36,120.06 162.53,103.50 162.69,95.51 162.86,97.91 163.03,108.14 163.19,124.47 163.36,145.27 163.53,168.91 163.69,193.73 163.86,218.09 164.02,240.36 164.19,258.90 164.36,272.06 164.52,278.20 164.69,276.67 164.86,269.58 165.02,258.16 165.19,243.56 165.36,226.95 165.52,209.46 165.69,192.28 165.86,176.53 166.02,163.40 166.19,154.02 166.36,149.57 166.52,152.39 166.69,164.36 166.86,182.21 167.02,202.50 167.19,221.77 167.36,236.56 167.52,243.41 167.69,240.48 167.86,230.14 168.02,214.26 168.19,194.72 168.36,173.37 168.52,152.07 168.69,132.69 168.86,117.07 169.02,107.10 169.19,104.61 169.36,110.55 169.52,123.60 169.69,142.11 169.86,164.44 170.02,188.92 170.19,213.90 170.36,237.74 170.52,258.79 170.69,275.38 170.86,285.88 171.02,288.62 171.19,282.52 171.36,268.85 171.52,249.34 171.69,225.76 171.85,199.85 172.02,173.37 172.19,148.05 172.35,125.66 172.52,107.94 172.69,96.65 172.85,93.65 173.02,105.53 173.19,130.35 173.35,161.45 173.52,192.17 173.69,215.83 173.85,225.79 174.02,220.69 174.19,206.96 174.35,188.63 174.52,169.73 174.69,154.27 174.85,146.27 175.02,157.15 175.19,195.39 175.35,240.35 175.52,270.39 175.69,271.44 175.85,260.99 176.02,243.18 176.19,219.90 176.35,193.03 176.52,164.49 176.69,136.15 176.85,109.91 177.02,87.68 177.19,71.33 177.35,62.77 177.52,87.75 177.69,193.85 177.85,272.99 178.02,273.64 178.19,268.85 178.35,261.16 178.52,251.13 178.69,239.35 178.85,226.38 179.02,212.82 179.19,199.22 179.35,186.18 179.52,174.26 179.69,164.04 179.85,156.11 180.02,151.02 180.18,149.38 180.35,154.81 180.52,167.66 180.68,184.83 180.85,203.19 181.02,219.62 181.18,231.00 181.35,234.26 181.52,229.48 181.68,218.66 181.85,203.20 182.02,184.48 182.18,163.91 182.35,142.87 182.52,122.74 182.68,104.93 182.85,90.82 183.02,81.79 183.18,79.27 183.35,84.74 183.52,97.52 183.68,116.18 183.85,139.26 184.02,165.31 184.18,192.88 184.35,220.52 184.52,246.79 184.68,270.24 184.85,289.41 185.02,302.87 185.18,309.15 185.35,307.73 185.52,300.75 185.68,289.51 185.85,275.22 186.02,259.10 186.18,242.38 186.35,226.27 186.52,211.88 186.68,195.93 186.85,177.51 187.02,158.24 187.18,139.74 187.35,123.63 187.52,111.53 187.68,105.06 187.85,105.98 188.02,114.94 188.18,130.15 188.35,149.70 188.52,171.63 188.68,194.01 188.85,214.90 189.01,232.37 189.18,244.48 189.35,249.29 189.51,245.52 189.68,234.46 189.85,217.99 190.01,198.00 190.18,176.35 190.35,154.93 190.51,135.62 190.68,120.30 190.85,110.84 191.01,109.08 191.18,115.11 191.35,127.40 191.51,144.48 191.68,164.86 191.85,187.04 192.01,209.54 192.18,230.87 192.35,249.54 192.51,264.05 192.68,272.93 192.85,274.49 193.01,265.10 193.18,245.89 193.35,219.64 193.51,189.11 193.68,157.06 193.85,126.26 194.01,99.48 194.18,79.49 194.35,69.04 194.51,70.31 194.68,81.73 194.85,101.14 195.01,126.48 195.18,155.70 195.35,186.73 195.51,217.52 195.68,246.02 195.85,270.15 196.01,287.86 196.18,297.10 196.35,297.49 196.51,294.75 196.68,289.81 196.84,282.91 197.01,274.30 197.18,264.25 197.34,252.99 197.51,240.79 197.68,227.90 197.84,214.56 198.01,201.05 198.18,187.60 198.34,174.48 198.51,161.93 198.68,150.21 198.84,139.57 199.01,130.27 199.18,122.55 199.34,116.68 199.51,112.91 199.68,111.48 199.84,113.01 200.01,117.77 200.18,125.31 200.34,135.20 200.51,146.99 200.68,160.25 200.84,174.53 201.01,189.41 201.18,204.42 201.34,219.15 201.51,233.14 201.68,245.95 201.84,257.15 202.01,266.29 202.18,272.94 202.34,276.66 202.51,276.86 202.68,272.19 202.84,263.00 203.01,250.02 203.18,233.98 203.34,215.62 203.51,195.67 203.68,174.85 203.84,153.90 204.01,133.56 204.18,114.55 204.34,97.60 204.51,83.45 204.68,72.83 204.84,66.47 205.01,65.32 205.18,74.22 205.34,92.88 205.51,118.58 205.67,148.58 205.84,180.16 206.01,210.59 206.17,237.15 206.34,257.12 206.51,267.76 206.67,268.13 206.84,264.26 207.01,257.45 207.17,248.23 207.34,237.18 207.51,224.85 207.67,211.80 207.84,198.58 208.01,185.76 208.17,173.89 208.34,163.54 208.51,155.25 208.67,149.60 208.84,147.12 209.01,148.68 209.17,154.45 209.34,163.41 209.51,174.49 209.67,186.64 209.84,198.80 210.01,209.90 210.17,218.88 210.34,224.69 210.51,226.25 210.67,222.51 210.84,214.16 211.01,202.47 211.17,188.71 211.34,174.12 211.51,159.97 211.67,147.53 211.84,138.04 212.01,132.78 212.17,132.61 212.34,136.02 212.51,142.09 212.67,150.16 212.84,159.56 213.01,169.62 213.17,179.67 213.34,189.04 213.50,197.06 213.67,203.07 213.84,206.39 214.00,206.44 214.17,203.74 214.34,199.23 214.50,193.84 214.67,188.51 214.84,184.16 215.00,181.73 215.17,181.72 215.34,182.96 215.50,185.09 215.67,187.87 215.84,191.08 216.00,194.50 216.17,197.90 216.34,201.04 216.50,203.71 216.67,205.67 216.84,206.71 217.00,206.34 217.17,203.64 217.34,199.05 217.50,193.16 217.67,186.55 217.84,179.80 218.00,173.49 218.17,168.22 218.34,164.57 218.50,163.12 218.67,164.77 218.84,169.54 219.00,176.46 219.17,184.53 219.34,192.79 219.50,200.26 219.67,205.96 219.84,208.92 220.00,208.74 220.17,206.89 220.34,203.76 220.50,199.64 220.67,194.81 220.84,189.54 221.00,184.13 221.17,178.85 221.34,173.99 221.50,169.83 221.67,166.64 221.84,164.72 222.00,164.69 222.17,172.46 222.33,187.99 222.50,208.58 222.67,231.50 222.83,254.04 223.00,273.49 223.17,287.12 223.33,292.22 223.50,287.07 223.67,273.29 223.83,253.14 224.00,228.87 224.17,202.76 224.33,177.06 224.50,154.04 224.67,135.96 224.83,125.09 225.00,123.73 225.17,132.85 225.33,149.42 225.50,169.86 225.67,190.60 225.83,208.07 226.00,218.69 226.17,218.77 226.33,206.68 226.50,186.16 226.67,161.49 226.83,136.92 227.00,116.73 227.17,105.20 227.33,105.53 227.50,114.85 227.67,131.04 227.83,152.36 228.00,177.05 228.17,203.37 228.33,229.57 228.50,253.90 228.67,274.61 228.83,289.95 229.00,298.19 229.17,296.93 229.33,283.36 229.50,259.93 229.67,229.66 229.83,195.57 230.00,160.69 230.17,128.02 230.33,100.58 230.50,81.40 230.66,73.48 230.83,79.06 231.00,96.39 231.16,122.45 231.33,154.25 231.50,188.79 231.66,223.06 231.83,254.06 232.00,278.80 232.16,294.25 232.33,297.50 232.50,288.53 232.66,270.46 232.83,246.47 233.00,219.73 233.16,193.41 233.33,170.68 233.50,154.70 233.66,148.66 233.83,151.97 234.00,160.77 234.16,173.30 234.33,187.82 234.50,202.58 234.66,215.82 234.83,225.81 235.00,230.78 235.16,228.48 235.33,217.91 235.50,201.41 235.66,181.45 235.83,160.50 236.00,141.02 236.16,125.47 236.33,116.33 236.50,116.52 236.66,129.76 236.83,153.75 237.00,185.29 237.16,221.18 237.33,258.23 237.50,293.22 237.66,322.98 237.83,344.28 238.00,353.95 238.16,346.14 238.33,317.78 238.50,274.93 238.66,223.84 238.83,170.76 238.99,121.96 239.16,83.68 239.33,62.19 239.49,65.47 239.66,99.93 239.83,152.47 239.99,208.12 240.16,251.88 240.33,268.78 240.49,262.78 240.66,247.64 240.83,226.32 240.99,201.75 241.16,176.91 241.33,154.73 241.49,138.16 241.66,130.16 241.83,131.76 241.99,139.13 242.16,150.45 242.33,164.05 242.49,178.27 242.66,191.42 242.83,201.83 242.99,207.83 243.16,208.23 243.33,205.19 243.49,199.93 243.66,193.28 243.83,186.10 243.99,179.24 244.16,173.52 244.33,169.81 244.49,169.11 244.66,175.37 244.83,187.88 244.99,203.81 245.16,220.34 245.33,234.63 245.49,243.88 245.66,245.66 245.83,243.32 245.99,238.59 246.16,231.89 246.33,223.66 246.49,214.33 246.66,204.33 246.82,194.09 246.99,184.06 247.16,174.65 247.32,166.30 247.49,159.44 247.66,154.51 247.82,151.93 247.99,152.15 248.16,155.27 248.32,160.85 248.49,168.45 248.66,177.58 248.82,187.79 248.99,198.62 249.16,209.60 249.32,220.26 249.49,230.15 249.66,238.80 249.82,245.75 249.99,250.52 250.16,252.67 250.32,252.28 250.49,250.42 250.66,247.32 250.82,243.14 250.99,238.06 251.16,232.26 251.32,225.90 251.49,219.17 251.66,212.23 251.82,205.26 251.99,198.43 252.16,191.92 252.32,185.91 252.49,180.56 252.66,176.06 252.82,172.56 252.99,170.26 253.16,169.32 253.32,169.83 253.49,171.62 253.66,174.51 253.82,178.34 253.99,182.92 254.16,188.09 254.32,193.67 254.49,199.50 254.66,205.39 254.82,211.18 254.99,216.69 255.16,221.75 255.32,226.19 255.49,229.84 255.65,232.51 255.82,234.05 255.99,234.24 256.15,232.60 256.32,229.22 256.49,224.35 256.65,218.24 256.82,211.15 256.99,203.31 257.15,194.99 257.32,186.44 257.49,177.91 257.65,169.64 257.82,161.89 257.99,154.91 258.15,148.96 258.32,144.27 258.49,141.12 258.65,139.74 258.82,143.36 258.99,156.29 259.15,175.14 259.32,196.31 259.49,216.20 259.65,231.22 259.82,237.75 259.99,236.11 260.15,230.84 260.32,222.76 260.49,212.64 260.65,201.27 260.82,189.43 260.99,177.90 261.15,167.46 261.32,158.90 261.49,153.00 261.65,150.53 261.82,151.69 261.99,155.61 262.15,161.83 262.32,169.87 262.49,179.30 262.65,189.64 262.82,200.44 262.99,211.25 263.15,221.59 263.32,231.03 263.49,239.08 263.65,245.31 263.82,249.24 263.98,250.39 264.15,244.82 264.32,231.60 264.48,212.79 264.65,190.44 264.82,166.61 264.98,143.37 265.15,122.78 265.32,106.89 265.48,97.77 265.65,97.22 265.82,104.23 265.98,117.16 266.15,134.56 266.32,154.95 266.48,176.88 266.65,198.88 266.82,219.49 266.98,237.25 267.15,250.70 267.32,258.38 267.48,259.05 267.65,253.94 267.82,244.38 267.98,231.48 268.15,216.31 268.32,199.97 268.48,183.55 268.65,168.14 268.82,154.83 268.98,144.71 269.15,138.87 269.32,138.64 269.48,146.12 269.65,160.07 269.82,178.57 269.98,199.75 270.15,221.70 270.32,242.53 270.48,260.34 270.65,273.25 270.82,279.35 270.98,277.65 271.15,269.95 271.32,257.56 271.48,241.73 271.65,223.71 271.81,204.76 271.98,186.14 272.15,169.09 272.31,154.87 272.48,144.72 272.65,139.92 272.81,140.43 272.98,143.49 273.15,148.54 273.31,155.11 273.48,162.78 273.65,171.10 273.81,179.61 273.98,187.89 274.15,195.48 274.31,201.94 274.48,206.83 274.65,209.70 274.81,209.64 274.98,201.50 275.15,186.53 275.31,167.99 275.48,149.12 275.65,133.17 275.81,123.37 275.98,122.38 276.15,127.52 276.31,137.05 276.48,149.88 276.65,164.93 276.81,181.13 276.98,197.39 277.15,212.63 277.31,225.78 277.48,235.75 277.65,241.46 277.81,241.82 277.98,236.53 278.15,226.75 278.31,213.81 278.48,199.03 278.65,183.74 278.81,169.24 278.98,156.87 279.15,147.93 279.31,143.76 279.48,145.09 279.65,150.66 279.81,159.30 279.98,169.88 280.14,181.24 280.31,192.26 280.48,201.79 280.64,208.69 280.81,211.82 280.98,210.63 281.14,206.19 281.31,199.41 281.48,191.17 281.64,182.35 281.81,173.85 281.98,166.53 282.14,161.29 282.31,159.01 282.48,161.47 282.64,169.76 282.81,182.65 282.98,198.86 283.14,217.15 283.31,236.24 283.48,254.89 283.64,271.82 283.81,285.77 283.98,295.49 284.14,299.71 284.31,297.74 284.48,290.53 284.64,278.95 284.81,263.88 284.98,246.16 285.14,226.68 285.31,206.29 285.48,185.87 285.64,166.28 285.81,148.38 285.98,133.04 286.14,121.12 286.31,113.50 286.48,111.03 286.64,112.93 286.81,117.90 286.98,125.50 287.14,135.31 287.31,146.90 287.48,159.85 287.64,173.74 287.81,188.14 287.98,202.62 288.14,216.77 288.31,230.15 288.48,242.34 288.64,252.91 288.81,261.45 288.97,267.52 289.14,270.71 289.31,270.09 289.47,263.31 289.64,251.24 289.81,235.22 289.97,216.58 290.14,196.63 290.31,176.71 290.47,158.14 290.64,142.25 290.81,130.37 290.97,123.82 291.14,123.70 291.31,129.05 291.47,138.43 291.64,150.55 291.81,164.08 291.97,177.73 292.14,190.18 292.31,200.13 292.47,206.25 292.64,207.42 292.81,205.19 292.97,200.82 293.14,194.95 293.31,188.25 293.47,181.38 293.64,174.98 293.81,169.71 293.97,166.23 294.14,165.21 294.31,167.36 294.47,172.29 294.64,179.21 294.81,187.29 294.97,195.74 295.14,203.76 295.31,210.54 295.47,215.27 295.64,217.15 295.81,216.38 295.97,214.04 296.14,210.39 296.31,205.71 296.47,200.25 296.64,194.28 296.80,188.06 296.97,181.85 297.14,175.93 297.30,170.55 297.47,165.97 297.64,162.46 297.80,160.29 297.97,159.70 298.14,160.31 298.30,161.74 298.47,163.89 298.64,166.62 298.80,169.82 298.97,173.39 299.14,177.20 299.30,181.13 299.47,185.08 299.64,188.93 299.80,192.55 299.97,195.84 300.14,198.67 300.30,200.94 300.47,202.52 300.64,203.30 300.80,203.25 300.97,202.61 301.14,201.49 301.30,200.00 301.47,198.21 301.64,196.23 301.80,194.13 301.97,192.00 302.14,189.94 302.30,188.04 302.47,186.39 302.64,185.07 302.80,184.18 302.97,183.80 303.14,184.47 303.30,186.67 303.47,189.81 303.64,193.30 303.80,196.54 303.97,198.96 304.14,199.94 304.30,199.23 304.47,197.22 304.64,194.23 304.80,190.62 304.97,186.71 305.13,182.85 305.30,179.38 305.47,176.63 305.63,174.95 305.80,174.69 305.97,176.16 306.13,179.18 306.30,183.49 306.47,188.79 306.63,194.81 306.80,201.27 306.97,207.90 307.13,214.40 307.30,220.50 307.47,225.92 307.63,230.39 307.80,233.61 307.97,235.32 308.13,233.17 308.30,219.72 308.47,201.73 308.63,187.79 308.80,184.98 308.97,185.44 309.13,186.28 309.30,187.42 309.47,188.73 309.63,190.11 309.80,191.45 309.97,192.63 310.13,193.54 310.30,194.08 310.47,193.86 310.63,190.60 310.80,184.45 310.97,176.21 311.13,166.68 311.30,156.68 311.47,146.99 311.63,138.42 311.80,131.78 311.97,127.87 312.13,127.89 312.30,135.27 312.47,148.61 312.63,165.41 312.80,183.15 312.97,199.35 313.13,211.47 313.30,217.03 313.46,222.87 313.63,222.07 313.80,220.15 313.96,217.30 314.13,213.71 314.30,209.59 314.46,205.12 314.63,200.51 314.80,195.94 314.96,191.61 315.13,187.72 315.30,184.46 315.46,182.03 315.63,180.62 315.80,180.39 315.96,180.90 316.13,181.97 316.30,183.53 316.46,185.51 316.63,187.86 316.80,190.52 316.96,193.43 317.13,196.52 317.30,199.73 317.46,203.00 317.63,206.27 317.80,209.48 317.96,212.56 318.13,215.46 318.30,218.11 318.46,220.45 318.63,222.43 318.80,223.97 318.96,225.02 319.13,225.52 319.30,224.77 319.46,221.11 319.63,215.13 319.80,207.57 319.96,199.17 320.13,190.66 320.30,182.78 320.46,176.28 320.63,171.88 320.80,170.33 320.96,171.63 321.13,175.04 321.30,180.08 321.46,186.29 321.63,193.20 321.79,200.33 321.96,207.21 322.13,213.38 322.29,218.36 322.46,221.68 322.63,222.88 322.79,221.11 322.96,216.33 323.13,209.21 323.29,200.42 323.46,190.62 323.63,180.49 323.79,170.69 323.96,161.90 324.13,154.77 324.29,149.99 324.46,148.21 324.63,149.44 324.79,152.94 324.96,158.32 325.13,165.20 325.29,173.21 325.46,181.94 325.63,191.02 325.79,200.06 325.96,208.68 326.13,216.50 326.29,223.12 326.46,228.17 326.63,231.26 326.79,231.96 326.96,228.80 327.13,221.97 327.29,212.49 327.46,201.37 327.63,189.63 327.79,178.28 327.96,168.33 328.13,160.80 328.29,156.70 328.46,156.67 328.63,159.30 328.79,163.91 328.96,170.00 329.13,177.07 329.29,184.62 329.46,192.14 329.63,199.14 329.79,205.10 329.96,209.54 330.12,211.95 330.29,211.63 330.46,207.64 330.62,200.68 330.79,191.67 330.96,181.49 331.12,171.06 331.29,161.27 331.46,153.03 331.62,147.23 331.79,144.79 331.96,146.54 332.12,152.23 332.29,161.01 332.46,172.02 332.62,184.42 332.79,197.35 332.96,209.96 333.12,221.39 333.29,230.78 333.46,237.29 333.62,240.06 333.79,238.18 333.96,231.88 334.12,222.26 334.29,210.46 334.46,197.58 334.62,184.75 334.79,173.10 334.96,163.74 335.12,157.79 335.29,156.28 335.46,157.34 335.62,159.69 335.79,163.09 335.96,167.32 336.12,172.16 336.29,177.37 336.46,182.74 336.62,188.03 336.79,193.02 336.96,197.48 337.12,201.19 337.29,203.91 337.46,205.43 337.62,205.36 337.79,202.83 337.96,198.46 338.12,193.17 338.29,187.88 338.45,183.50 338.62,180.96 338.79,180.76 338.95,181.45 339.12,182.68 339.29,184.36 339.45,186.38 339.62,188.64 339.79,191.04 339.95,193.47 340.12,195.83 340.29,198.03 340.45,199.95 340.62,201.49 340.79,202.55 340.95,203.04 341.12,202.75 341.29,201.52 341.45,199.46 341.62,196.70 341.79,193.37 341.95,189.60 342.12,185.51 342.29,181.22 342.45,176.88 342.62,172.60 342.79,168.51 342.95,164.74 343.12,161.41 343.29,158.66 343.45,156.61 343.62,155.39 343.79,155.18 343.95,157.11 344.12,161.24 344.29,167.05 344.45,174.04 344.62,181.68 344.79,189.47 344.95,196.88 345.12,203.40 345.29,208.51 345.45,211.71 345.62,212.47 345.79,210.16 345.95,205.37 346.12,199.01 346.29,192.01 346.45,185.30 346.62,179.80 346.78,176.44 346.95,176.02 347.12,177.87 347.28,181.20 347.45,185.43 347.62,189.95 347.78,194.17 347.95,197.50 348.12,199.34 348.28,198.43 348.45,192.41 348.62,182.59 348.78,170.60 348.95,158.11 349.12,146.77 349.28,138.22 349.45,134.12 349.62,135.70 349.78,142.26 349.95,152.75 350.12,166.10 350.28,181.27 350.45,197.21 350.62,212.85 350.78,227.14 350.95,239.04 351.12,247.48 351.28,251.42 351.45,248.90 351.62,238.82 351.78,223.93 351.95,207.09 352.12,191.16 352.28,179.03 352.45,173.54 352.62,173.80 352.78,174.91 352.95,176.70 353.12,179.01 353.28,181.71 353.45,184.69 353.62,187.79 353.78,190.90 353.95,193.88 354.12,196.60 354.28,198.92 354.45,200.72 354.62,201.86 354.78,202.19 354.95,199.36 355.11,192.91 355.28,184.37 355.45,175.29 355.61,167.22 355.78,161.69 355.95,160.17 356.11,160.84 356.28,162.37 356.45,164.65 356.61,167.57 356.78,171.02 356.95,174.89 357.11,179.06 357.28,183.43 357.45,187.88 357.61,192.30 357.78,196.58 357.95,200.62 358.11,204.29 358.28,207.49 358.45,210.10 358.61,212.03 358.78,213.14 358.95,213.33 359.11,212.31 359.28,210.21 359.45,207.24 359.61,203.62 359.78,199.57 359.95,195.33 360.11,191.10 360.28,187.12 360.45,183.60 360.61,180.77 360.78,178.85 360.95,178.06 361.11,179.06 361.28,182.18 361.45,186.79 361.61,192.21 361.78,197.80 361.95,202.88 362.11,206.81 362.28,208.92 362.45,208.60 362.61,205.97 362.78,201.67 362.95,196.37 363.11,190.73 363.28,185.41 363.44,181.09 363.61,178.41 363.78,178.01 363.94,179.68 364.11,182.84 364.28,186.95 364.44,191.47 364.61,195.88 364.78,199.64 364.94,202.20 365.11,203.04 365.28,200.56 365.44,194.85 365.61,187.29 365.78,179.24 365.94,172.06 366.11,167.14 366.28,165.78 366.44,167.31 366.61,170.70 366.78,175.50 366.94,181.30 367.11,187.67 367.28,194.17 367.44,200.38 367.61,205.86 367.78,210.18 367.94,212.93 368.11,213.66 368.28,212.25 368.44,209.02 368.61,204.33 368.78,198.55 368.94,192.04 369.11,185.16 369.28,178.26 369.44,171.72 369.61,165.89 369.78,161.14 369.94,157.82 370.11,156.30 370.28,158.33 370.44,166.07 370.61,177.48 370.78,190.36 370.94,202.53 371.11,211.79 371.28,215.94 371.44,215.35 371.61,213.24 371.77,209.87 371.94,205.52 372.11,200.41 372.27,194.81 372.44,188.96 372.61,183.10 372.77,177.49 372.94,172.38 373.11,168.01 373.27,164.63 373.44,162.49 373.61,161.86 373.77,164.00 373.94,169.18 374.11,176.72 374.27,185.93 374.44,196.11 374.61,206.57 374.77,216.62 374.94,225.58 375.11,232.74 375.27,237.42 375.44,238.93 375.61,236.28 375.77,229.80 375.94,220.50 376.11,209.42 376.27,197.57 376.44,185.98 376.61,175.69 376.77,167.70 376.94,163.06 377.11,162.57 377.27,165.09 377.44,169.69 377.61,175.68 377.77,182.39 377.94,189.12 378.11,195.20 378.27,199.96 378.44,202.69 378.61,202.74 378.77,199.94 378.94,194.97 379.11,188.55 379.27,181.40 379.44,174.25 379.61,167.83 379.77,162.85 379.94,160.05 380.10,160.96 380.27,169.42 380.44,183.39 380.60,200.02 380.77,216.43 380.94,229.77 381.10,237.15 381.27,237.25 381.44,234.30 381.60,229.17 381.77,222.28 381.94,214.03 382.10,204.85 382.27,195.14 382.44,185.33 382.60,175.82 382.77,167.03 382.94,159.38 383.10,153.29 383.27,149.15 383.44,147.40 383.60,150.35 383.77,159.97 383.94,173.75 384.10,189.06 384.27,203.33 384.44,213.93 384.60,218.28 384.77,217.70 384.94,215.95 385.10,213.24 385.27,209.77 385.44,205.72 385.60,201.30 385.77,196.69 385.94,192.10 386.10,187.72 386.27,183.75 386.44,180.37 386.60,177.78 386.77,176.19 386.94,175.87 387.10,179.89 387.27,188.30 387.44,199.16 387.60,210.53 387.77,220.48 387.94,227.06 388.10,228.45 388.27,225.48 388.44,219.38 388.60,210.90 388.77,200.78 388.93,189.75 389.10,178.55 389.27,167.94 389.43,158.64 389.60,151.40 389.77,146.96 389.93,146.05 390.10,148.77 390.27,154.51 390.43,162.68 390.60,172.64 390.77,183.79 390.93,195.52 391.10,207.20 391.27,218.23 391.43,227.99 391.60,235.86 391.77,241.24 391.93,243.51 392.10,242.06 392.27,237.11 392.43,229.41 392.60,219.70 392.77,208.76 392.93,197.33 393.10,186.16 393.27,176.02 393.43,167.65 393.60,161.82 393.77,159.28 393.93,159.70 394.10,161.38 394.27,164.09 394.43,167.61 394.60,171.75 394.77,176.30 394.93,181.07 395.10,185.84 395.27,190.43 395.43,194.61 395.60,198.20 395.77,200.99 395.93,202.78 396.10,203.36 396.27,202.05 396.43,198.72 396.60,193.83 396.76,187.82 396.93,181.17 397.10,174.31 397.26,167.69 397.43,161.79 397.60,157.03 397.76,153.89 397.93,152.80 398.10,153.46 398.26,155.24 398.43,157.98 398.60,161.54 398.76,165.74 398.93,170.45 399.10,175.50 399.26,180.74 399.43,186.01 399.60,191.17 399.76,196.05 399.93,200.50 400.10,204.37 400.26,207.50 400.43,209.74 400.60,210.94 400.76,210.98 400.93,210.13 401.10,208.54 401.26,206.30 401.43,203.52 401.60,200.29 401.76,196.72 401.93,192.90 402.10,188.93 402.26,184.92 402.43,180.96 402.60,177.16 402.76,173.61 402.93,170.42 403.10,167.68 403.26,165.50 403.43,163.98 403.60,163.21 403.76,163.31 403.93,164.38 404.10,166.29 404.26,168.93 404.43,172.17 404.60,175.87 404.76,179.91 404.93,184.17 405.09,188.51 405.26,192.81 405.43,196.95 405.59,200.79 405.76,204.20 405.93,207.07 406.09,209.25 406.26,210.64 406.43,211.09 406.59,210.57 406.76,209.22 406.93,207.17 407.09,204.58 407.26,201.58 407.43,198.31 407.59,194.93 407.76,191.57 407.93,188.38 408.09,185.50 408.26,183.07 408.43,181.23 408.59,180.14 408.76,179.90 408.93,180.03 409.09,180.32 409.26,180.75 409.43,181.31 409.59,182.00 409.76,182.79 409.93,183.68 410.09,184.65 410.26,185.69 410.43,186.79 410.59,187.93 410.76,189.10 410.93,190.29 411.09,191.49 411.26,192.68 411.43,193.86 411.59,195.00 411.76,196.09 411.93,197.13 412.09,198.11 412.26,198.99 412.43,199.79 412.59,200.48 412.76,201.04 412.93,201.48 413.09,201.77 413.26,201.90 413.43,201.19 413.59,198.21 413.76,193.71 413.92,188.58 414.09,183.68 414.26,179.90 414.42,178.10 414.59,178.11 414.76,178.33 414.92,178.71 415.09,179.27 415.26,179.99 415.42,180.89 415.59,181.96 415.76,183.20 415.92,184.62 416.09,186.21 416.26,187.99 416.42,191.85 416.59,187.42 416.76,186.68 416.92,186.10 417.09,185.38 417.26,184.67 417.42,183.98 417.59,183.35 417.76,182.80 417.92,182.32 418.09,182.01 418.26,181.80 418.42,185.58 418.59,182.12 418.76,182.65 418.92,183.36 419.09,184.01 419.26,184.30 419.42,184.43 419.59,184.26 419.76,183.90 419.92,183.47 420.09,183.10 420.26,182.82 420.42,191.43 420.59,183.43 420.76,184.65 420.92,186.65 421.09,189.09 421.26,191.86 421.42,194.98 421.59,198.28 421.75,201.68 421.92,205.12 422.09,208.70 422.25,212.15 422.42,193.35 422.59,217.03 422.75,219.29 422.92,220.45 423.09,221.32 423.25,220.96 423.42,218.85 423.59,214.83 423.75,208.93 423.92,201.90 424.09,193.60 424.25,184.90 424.42,186.90 424.59,171.42 424.75,164.97 424.92,160.90 425.09,157.99 425.25,158.24 425.42,160.98 425.59,166.50 425.75,174.85 425.92,186.93 426.09,189.05 426.25,185.47 426.42,219.67 426.59,224.43 426.75,231.96 426.92,235.61 427.09,236.91 427.25,235.49 427.42,229.14 427.59,220.76 427.75,210.03 427.92,195.49 428.09,192.31 428.25,193.41 428.42,161.18 428.59,155.53 428.75,149.17 428.92,147.30 429.09,147.59 429.25,148.67 429.42,151.51 429.59,154.89 429.75,158.91 429.92,162.86 430.08,173.06 430.25,185.17 430.42,176.83 430.58,182.50 430.75,186.65 430.92,190.07 431.08,192.77 431.25,194.75 431.42,196.36 431.58,198.19 431.75,200.47 431.92,204.38 432.08,201.65 432.25,201.93 432.42,214.14 432.58,215.47 432.75,215.88 432.92,215.68 433.08,212.36 433.25,207.80 433.42,201.65 433.58,194.74 433.75,187.11 433.92,177.62 434.08,179.24 434.25,171.52 434.42,157.94 434.58,154.27 434.75,151.16 434.92,150.37 435.08,151.88 435.25,154.88 435.42,160.37 435.58,166.75 435.75,173.92 435.92,181.24 436.08,189.46 436.25,195.65 436.42,200.66 436.58,204.49 436.75,205.86 436.92,206.11 437.08,204.96 437.25,203.37 437.42,201.25 437.58,198.96 437.75,196.66 437.92,194.89 438.08,188.82 438.25,190.29 438.41,190.79 438.58,190.55 438.75,190.70 438.91,190.92 439.08,191.12 439.25,191.10 439.41,190.89 439.58,190.22 439.75,189.27 439.91,188.29 440.08,192.61 440.25,188.52 440.41,188.09 440.58,188.92 440.75,190.56 440.91,192.55 441.08,194.60 441.25,196.16 441.41,197.16 441.58,196.81 441.75,195.88 441.91,194.16 442.08,184.32 442.25,186.64 442.41,185.29 442.58,181.74 442.75,179.22 442.91,178.36 443.08,178.31 443.25,179.28 443.41,183.18 443.58,187.92 443.75,193.67 443.91,201.06 444.08,196.10 444.25,209.65 444.41,215.32 444.58,217.39 444.75,217.31 444.91,216.80 445.08,213.26 445.25,208.77 445.41,203.19 445.58,197.20 445.75,190.98 445.91,183.81 446.08,184.20 446.25,175.92 446.41,172.82 446.58,171.69 446.74,172.07 446.91,172.85 447.08,174.28 447.24,176.02 447.41,178.09 447.58,180.06 447.74,183.16 447.91,192.79 448.08,186.74 448.24,189.31 448.41,191.17 448.58,192.56 448.74,193.54 448.91,193.82 449.08,193.75 449.24,193.54 449.41,193.07 449.58,192.60 449.74,191.51 449.91,185.52 450.08,190.39 450.24,189.33 450.41,188.41 450.58,187.53 450.74,186.68 450.91,185.90 451.08,185.19 451.24,184.61 451.41,184.16 451.58,183.89 451.74,184.22 451.91,192.73 452.08,184.86 452.24,186.46 452.41,188.17 452.58,190.07 452.74,192.02 452.91,193.87 453.08,195.57 453.24,196.87 453.41,197.72 453.58,197.51 453.74,196.23 453.91,187.50 454.08,190.42 454.24,184.66 454.41,179.51 454.58,174.74 454.74,170.48 454.91,168.06 455.07,166.90 455.24,167.57 455.41,170.89 455.57,175.14 455.74,182.51 455.91,193.99 456.07,193.60 456.24,201.84 456.41,208.07 456.57,212.81 456.74,216.05 456.91,216.93 457.07,216.21 457.24,214.74 457.41,211.96 457.57,209.28 457.74,202.72 457.91,189.34 458.07,197.46 458.24,192.37 458.41,188.36 458.57,184.96 458.74,182.10 458.91,180.42 459.07,179.54 459.24,179.67 459.41,180.63 459.57,181.69 459.74,185.21 459.91,190.32 460.07,187.04 460.24,188.99 460.41,190.03 460.57,190.51 460.74,189.99 460.91,188.95 461.07,187.13 461.24,185.14 461.41,183.07 461.57,181.08 461.74,181.72 461.91,182.97 462.07,180.04 462.24,182.74 462.41,186.34 462.57,191.02 462.74,196.11 462.91,201.19 463.07,206.05 463.24,210.02 463.40,212.89 463.57,213.66 463.74,205.81 463.90,205.16 464.07,211.73 464.24,209.13 464.40,206.20 464.57,202.36 464.74,197.86 464.90,193.07 465.07,188.34 465.24,184.01 465.40,180.44 465.57,177.99 465.74,177.00 465.90,192.68 466.07,177.63 466.24,176.54 466.40,179.40 466.57,183.59 466.74,188.30 466.90,192.75 467.07,196.12 467.24,197.61 467.40,187.05 467.57,193.39 467.74,193.28 467.90,192.74 468.07,191.90 468.24,190.82 468.40,189.56 468.57,188.18 468.74,186.75 468.90,185.32 469.07,183.96 469.24,182.72 469.40,181.67 469.57,180.87 469.74,180.38 469.90,186.45 470.07,179.27 470.24,180.12 470.40,181.78 470.57,184.06 470.74,186.76 470.90,189.68 471.07,192.64 471.24,195.43 471.40,197.85 471.57,199.72 471.73,200.84 471.90,196.62 472.07,192.43 472.23,201.38 472.40,200.71 472.57,199.49 472.73,197.83 472.90,195.85 473.07,193.70 473.23,191.48 473.40,189.33 473.57,187.36 473.73,185.72 473.90,184.51 474.07,183.86 474.23,183.87 474.40,184.35 474.57,185.20 474.73,186.32 474.90,187.64 475.07,189.06 475.23,190.49 475.40,191.85 475.57,193.05 475.73,193.99 475.90,194.59 476.07,194.42 476.23,186.17 476.40,193.15 476.57,193.57 476.73,192.44 476.90,190.70 477.07,188.57 477.23,186.32 477.40,184.19 477.57,182.40 477.73,181.23 477.90,181.02 478.07,186.42 478.23,193.03 478.40,192.22 478.57,184.92 478.73,180.35 478.90,181.82 479.07,185.47 479.23,190.18 479.40,194.79 479.57,198.15 479.73,199.17 479.90,198.82 480.06,198.01 480.23,196.83 480.40,195.35 480.56,193.65 480.73,191.82 480.90,189.93 481.06,188.07 481.23,186.31 481.40,184.74 481.56,183.43 481.73,182.47 481.90,181.94 482.06,188.44 482.23,201.49 482.40,202.65 482.56,203.62 482.73,204.43 482.90,205.09 483.06,205.62 483.23,206.02 483.40,206.32 483.56,206.52 483.73,206.64 483.90,206.71 484.06,206.69 484.23,201.98 484.40,192.70 484.56,183.56 484.73,179.28 484.90,183.38 485.06,190.58 485.23,192.43 485.40,187.74 485.56,182.97 485.73,182.88 485.90,184.70 486.06,187.51 486.23,190.76 486.40,193.89 486.56,196.35 486.73,197.58 486.90,186.80 487.06,194.59 487.23,194.36 487.40,193.87 487.56,193.15 487.73,192.26 487.90,191.25 488.06,190.15 488.23,189.03 488.39,187.93 488.56,186.89 488.73,185.96 488.89,185.20 489.06,184.65 489.23,184.35 489.39,184.36 489.56,184.69 489.73,185.32 489.89,186.17 490.06,187.20 490.23,188.36 490.39,189.59 490.56,190.83 490.73,192.05 490.89,193.17 491.06,194.16 491.23,194.95 491.39,195.49 491.56,195.74 491.73,195.64 491.89,195.22 492.06,194.53 492.23,193.62 492.39,192.55 492.56,191.37 492.73,190.13 492.89,188.89 493.06,187.69 493.23,186.60 493.39,185.66 493.56,184.93 493.73,184.46 493.89,184.31 494.06,184.39 494.23,184.60 494.39,184.92 494.56,185.35 494.73,185.86 494.89,186.45 495.06,187.10 495.23,187.80 495.39,188.53 495.56,189.27 495.73,190.02 495.89,190.76 496.06,191.47 496.23,192.15 496.39,192.77 496.56,193.32 496.72,193.79 496.89,194.17 497.06,194.44 497.22,194.58 497.39,194.57 497.56,194.27 497.72,193.70 497.89,192.88 498.06,191.85 498.22,190.63 498.39,189.26 498.56,187.77 498.72,186.19 498.89,184.56 499.06,182.89 499.22,181.24 499.39,179.61 499.56,178.06 499.72,176.61 499.89,175.28 500.06,174.12 500.22,173.16 500.39,172.41 500.56,171.93 500.72,171.73 500.89,172.17 501.06,173.66 501.22,176.03 501.39,179.11 501.56,182.72 501.72,186.69 501.89,190.84 502.06,194.98 502.22,198.95 502.39,202.56 502.56,205.64 502.72,208.01 502.89,209.49 503.06,209.91 503.22,209.10 503.39,207.14 503.56,204.25 503.72,200.62 503.89,196.44 504.06,191.93 504.22,187.27 504.39,182.66 504.56,178.31 504.72,174.41 504.89,171.15 505.06,168.75 505.22,167.39 505.39,167.20 505.55,167.64 505.72,168.54 505.89,169.83 506.05,171.47 506.22,173.40 506.39,175.58 506.55,177.95 506.72,180.47 506.89,183.09 507.05,185.75 507.22,188.40 507.39,191.00 507.55,193.49 507.72,195.83 507.89,197.96 508.05,199.83 508.22,201.39 508.39,202.60 508.55,203.40 508.72,203.74 508.89,203.45 509.05,202.33 509.22,200.52 509.39,198.14 509.55,195.35 509.72,192.27 509.89,189.05 510.05,185.82 510.22,182.72 510.39,179.89 510.55,177.47 510.72,175.59 510.89,174.40 511.05,174.02 511.22,174.30 511.39,175.02 511.55,176.14 511.72,177.60 511.89,179.36 512.05,181.38 512.22,183.59 512.39,185.96 512.55,188.44 512.72,190.97 512.89,193.52 513.05,196.03 513.22,198.45 513.38,200.73 513.55,202.84 513.72,204.71 513.88,206.31 514.05,207.58 514.22,208.48 514.38,208.95 514.55,208.89 514.72,207.94 514.88,206.17 515.05,203.74 515.22,200.80 515.38,197.50 515.55,193.99 515.72,190.42 515.88,186.95 516.05,183.73 516.22,180.90 516.38,178.63 516.55,177.05 516.72,176.33 516.88,176.41 517.05,176.83 517.22,177.56 517.38,178.53 517.55,179.72 517.72,181.07 517.88,182.56 518.05,184.14 518.22,185.76 518.38,187.39 518.55,188.99 518.72,190.51 518.88,191.91 519.05,193.16 519.22,194.20 519.38,195.01 519.55,195.54 519.72,195.74 519.88,195.62 520.05,195.23 520.22,194.61 520.38,193.79 520.55,192.81 520.72,191.71 520.88,190.52 521.05,189.29 521.22,188.04 521.38,186.82 521.55,185.66 521.72,184.59 521.88,183.67 522.05,182.91 522.21,182.37 522.38,182.07 522.55,182.08 522.71,182.62 522.88,183.64 523.05,185.07 523.21,186.81 523.38,188.76 523.55,190.84 523.71,192.96 523.88,195.03 524.05,196.96 524.21,198.65 524.38,200.02 524.55,200.98 524.71,201.44 524.88,201.27 525.05,200.42 525.21,198.98 525.38,197.07 525.55,194.80 525.71,192.29 525.88,189.64 526.05,186.98 526.21,184.41 526.38,182.05 526.55,180.02 526.71,178.42 526.88,177.37 527.05,176.99 527.21,177.11 527.38,177.46 527.55,178.03 527.71,178.77 527.88,179.67 528.05,180.71 528.21,181.85 528.38,183.08 528.55,184.37 528.71,185.69 528.88,187.01 529.05,188.32 529.21,189.59 529.38,190.79 529.55,191.90 529.71,192.89 529.88,193.74 530.04,194.42 530.21,194.90 530.38,195.17 530.54,195.21 530.71,195.05 530.88,194.73 531.04,194.26 531.21,193.66 531.38,192.96 531.54,192.16 531.71,191.30 531.88,190.38 532.04,189.42 532.21,188.45 532.38,187.48 532.54,186.53 532.71,185.62 532.88,184.77 533.04,183.99 533.21,183.30 533.38,182.73 533.54,182.29 533.71,181.99 533.88,181.86 534.04,182.01 534.21,182.61 534.38,183.60 534.54,184.88 534.71,186.40 534.88,188.07 535.04,189.82 535.21,191.58 535.38,193.26 535.54,194.81 535.71,196.13 535.88,197.16 536.04,197.82 536.21,198.03 536.38,197.68 536.54,196.77 536.71,195.37 536.88,193.57 537.04,191.44 537.21,189.05 537.38,186.50 537.54,183.86 537.71,181.20 537.88,178.61 538.04,176.16 538.21,173.93 538.38,172.00 538.54,170.45 538.71,169.36 538.87,168.81 539.04,168.86 539.21,169.51 539.37,170.69 539.54,172.31 539.71,174.32 539.87,176.64 540.04,179.19 540.21,181.91 540.37,184.73 540.54,187.57 540.71,190.36 540.87,193.04 541.04,195.52 541.21,197.74 541.37,199.63 541.54,201.12 541.71,202.13 541.87,202.59 542.04,202.54 542.21,202.24 542.37,201.72 542.54,201.02 542.71,200.14 542.87,199.13 543.04,198.01 543.21,196.79 543.37,195.52 543.54,194.20 543.71,192.87 543.87,191.55 544.04,190.26 544.21,189.04 544.37,187.90 544.54,186.88 544.71,185.99 544.87,185.27 545.04,184.73 545.21,184.40 545.37,184.31 545.54,184.45 545.71,184.77 545.87,185.26 546.04,185.90 546.21,186.65 546.37,187.49 546.54,188.40 546.70,189.35 546.87,190.33 547.04,191.29 547.20,192.23 547.37,193.11 547.54,193.92 547.70,194.62 547.87,195.19 548.04,195.61 548.20,195.86 548.37,195.89 548.54,195.57 548.70,194.91 548.87,193.94 549.04,192.72 549.20,191.30 549.37,189.73 549.54,188.06 549.70,186.34 549.87,184.63 550.04,182.97 550.20,181.42 550.37,180.02 550.54,178.83 550.70,177.89 550.87,177.27 551.04,177.00 551.20,177.36 551.37,178.65 551.54,180.66 551.70,183.14 551.87,185.85 552.04,188.56 552.20,191.02 552.37,193.00 552.54,194.27 552.70,194.59 552.87,194.10 553.04,193.03 553.20,191.53 553.37,189.72 553.54,187.73 553.70,185.71 553.87,183.79 554.04,182.09 554.20,180.77 554.37,179.94 554.54,179.75 554.70,180.10 554.87,180.89 555.03,182.04 555.20,183.51 555.37,185.23 555.53,187.13 555.70,189.15 555.87,191.24 556.03,193.33 556.20,195.35 556.37,197.25 556.53,198.97 556.70,200.44 556.87,201.60 557.03,202.40 557.20,202.76 557.37,202.54 557.53,201.58 557.70,199.98 557.87,197.88 558.03,195.40 558.20,192.65 558.37,189.77 558.53,186.88 558.70,184.09 558.87,181.54 559.03,179.35 559.20,177.63 559.37,176.52 559.53,176.14 559.70,176.65 559.87,178.01 560.03,180.03 560.20,182.51 560.37,185.27 560.53,188.12 560.70,190.87 560.87,193.32 561.03,195.30 561.20,196.60 561.37,197.05 561.53,196.75 561.70,195.95 561.87,194.73 562.03,193.19 562.20,191.41 562.37,189.47 562.53,187.46 562.70,185.47 562.87,183.58 563.03,181.87 563.20,180.43 563.37,179.36 563.53,178.72 563.70,178.63 563.86,179.26 564.03,180.51 564.20,182.22 564.36,184.24 564.53,186.39 564.70,188.51 564.86,190.45 565.03,192.03 565.20,193.09 565.36,193.47 565.53,193.16 565.70,192.32 565.86,191.10 566.03,189.60 566.20,187.97 566.36,186.31 566.53,184.77 566.70,183.46 566.86,182.51 567.03,182.05 567.20,182.37 567.36,183.86 567.53,186.26 567.70,189.27 567.86,192.60 568.03,195.95 568.20,199.04 568.36,201.56 568.53,203.23 568.70,203.75 568.86,203.59 569.03,203.18 569.20,202.56 569.36,201.74 569.53,200.75 569.70,199.61 569.86,198.36 570.03,197.00 570.20,195.58 570.36,194.11 570.53,192.62 570.70,191.13 570.86,189.67 571.03,188.26 571.20,186.93 571.36,185.70 571.53,184.60 571.69,183.65 571.86,182.87 572.03,182.30 572.19,181.96 572.36,181.86 572.53,182.11 572.69,182.69 572.86,183.56 573.03,184.64 573.19,185.88 573.36,187.23 573.53,188.62 573.69,189.99 573.86,191.29 574.03,192.45 574.19,193.42 574.36,194.13 574.53,194.53 574.69,194.58 574.86,194.39 575.03,194.00 575.19,193.46 575.36,192.78 575.53,192.00 575.69,191.14 575.86,190.23 576.03,189.29 576.19,188.36 576.36,187.46 576.53,186.63 576.69,185.88 576.86,185.24 577.03,184.75 577.19,184.43 577.36,184.31 577.53,184.48 577.69,184.99 577.86,185.79 578.03,186.82 578.19,188.02 578.36,189.33 578.53,190.70 578.69,192.06 578.86,193.36 579.03,194.54 579.19,195.54 579.36,196.30 579.53,196.77 579.69,196.88 579.86,196.60 580.02,195.99 580.19,195.09 580.36,193.96 580.52,192.68 580.69,191.30 580.86,189.88 581.02,188.48 581.19,187.16 581.36,185.98 581.52,185.01 581.69,184.30 581.86,183.91 582.02,183.88 582.19,184.10 582.36,184.51 582.52,185.08 582.69,185.77 582.86,186.54 583.02,187.36 583.19,188.19 583.36,189.01 583.52,189.76 583.69,190.43 583.86,190.96 584.02,191.33 584.19,191.50 584.36,191.47 584.52,191.29 584.69,191.00 584.86,190.61 585.02,190.15 585.19,189.65 585.36,189.11 585.52,188.58 585.69,188.07 585.86,187.60 586.02,187.19 586.19,186.87 586.36,186.67 586.52,186.60 586.69,186.88 586.86,187.59 587.02,188.54 587.19,189.57 587.36,190.49 587.52,191.14 587.69,191.33 587.86,191.27 588.02,191.13 588.19,190.92 588.36,190.63 588.52,190.29 588.69,189.89 588.85,189.44 589.02,188.96 589.19,188.45 589.35,187.91 589.52,187.35 589.69,186.79 589.85,186.23 590.02,185.67 590.19,185.12 590.35,184.60 590.52,184.10 590.69,183.64 590.85,183.22 591.02,182.85 591.19,182.54 591.35,182.30 591.52,182.13 591.69,182.04 591.85,182.09 592.02,182.69 592.19,183.84 592.35,185.44 592.52,187.38 592.69,189.56 592.85,191.89 593.02,194.26 593.19,196.57 593.35,198.72 593.52,200.62 593.69,202.15 593.85,203.22 594.02,203.72 594.19,203.62 594.35,203.05 594.52,202.05 594.69,200.69 594.85,199.02 595.02,197.09 595.19,194.95 595.35,192.66 595.52,190.27 595.69,187.83 595.85,185.39 596.02,183.02 596.19,180.75 596.35,178.65 596.52,176.77 596.68,175.16 596.85,173.87 597.02,172.96 597.18,172.48 597.35,172.53 597.52,173.43 597.68,175.05 597.85,177.22 598.02,179.74 598.18,182.45 598.35,185.16 598.52,187.69 598.68,189.85 598.85,191.47 599.02,192.36 599.18,192.46 599.35,192.36 599.52,192.16 599.68,191.89 599.85,191.57 600.02,191.21 600.18,190.82 600.35,190.43 600.52,190.05 600.68,189.69 600.85,189.38 601.02,189.13 601.18,188.96 601.35,188.89 601.52,188.93 601.68,189.10 601.85,189.37 602.02,189.73 602.18,190.16 602.35,190.63 602.52,191.13 602.68,191.63 602.85,192.10 603.02,192.54 603.18,192.92 603.35,193.21 603.52,193.40 603.68,193.46 603.85,193.36 604.02,193.10 604.18,192.72 604.35,192.22 604.52,191.65 604.68,191.04 604.85,190.40 605.01,189.76 605.18,189.16 605.35,188.62 605.51,188.16 605.68,187.82 605.85,187.62 606.01,187.59 606.18,187.70 606.35,187.94 606.51,188.28 606.68,188.69 606.85,189.16 607.01,189.67 607.18,190.18 607.35,190.69 607.51,191.16 607.68,191.58 607.85,191.93 608.01,192.18 608.18,192.30 608.35,192.24 608.51,191.79 608.68,191.02 608.85,190.02 609.01,188.85 609.18,187.61 609.35,186.38 609.51,185.24 609.68,184.28 609.85,183.57 610.01,183.20 610.18,183.20 610.35,183.38 610.51,183.70 610.68,184.15 610.85,184.71 611.01,185.37 611.18,186.10 611.35,186.88 611.51,187.71 611.68,188.56 611.85,189.42 612.01,190.27 612.18,191.09 612.35,191.86 612.51,192.57 612.68,193.21 612.85,193.74 613.01,194.16 613.18,194.45 613.35,194.59 613.51,194.58 613.68,194.47 613.84,194.28 614.01,194.01 614.18,193.69 614.34,193.32 614.51,192.91 614.68,192.49 614.84,192.06 615.01,191.63 615.18,191.22 615.34,190.85 615.51,190.51 615.68,190.24 615.84,190.03 616.01,189.90 616.18,189.87 616.34,189.93 616.51,190.08 616.68,190.31 616.84,190.61 617.01,190.97 617.18,191.38 617.34,191.83 617.51,192.30 617.68,192.80 617.84,193.31 618.01,193.82 618.18,194.32 618.34,194.81 618.51,195.26 618.68,195.68 618.84,196.06 619.01,196.37 619.18,196.62 619.34,196.79 619.51,196.88 619.68,196.84 619.84,196.50 620.01,195.90 620.18,195.05 620.34,194.01 620.51,192.81 620.68,191.48 620.84,190.07 621.01,188.60 621.18,187.12 621.34,185.67 621.51,184.28 621.67,182.98 621.84,181.82 622.01,180.84 622.17,180.06 622.34,179.53 622.51,179.29 622.67,179.38 622.84,179.84 623.01,180.62 623.17,181.64 623.34,182.85 623.51,184.19 623.67,185.60 623.84,187.02 624.01,188.38 624.17,189.64 624.34,190.72 624.51,191.56 624.67,192.12 624.84,192.31 625.01,192.23 625.17,191.99 625.34,191.62 625.51,191.14 625.67,190.59 625.84,189.99 626.01,189.37 626.17,188.75 626.34,188.17 626.51,187.63 626.67,187.19 626.84,186.85 627.01,186.64 627.17,186.60 627.34,186.73 627.51,187.01 627.67,187.42 627.84,187.93 628.01,188.53 628.17,189.19 628.34,189.90 628.51,190.62 628.67,191.35 628.84,192.05 629.01,192.71 629.17,193.30 629.34,193.81 629.51,194.21 629.67,194.48 629.84,194.60 630.00,194.53 630.17,194.26 630.34,193.81 630.50,193.22 630.67,192.50 630.84,191.68 631.00,190.80 631.17,189.87 631.34,188.94 631.50,188.01 631.67,187.14 631.84,186.33 632.00,185.62 632.17,185.04 632.34,184.61 632.50,184.36 632.67,184.33 632.84,184.63 633.00,185.26 633.17,186.16 633.34,187.26 633.50,188.51 633.67,189.85 633.84,191.22 634.00,192.57 634.17,193.83 634.34,194.95 634.50,195.86 634.67,196.52 634.84,196.86 635.00,196.86 635.17,196.66 635.34,196.30 635.50,195.81 635.67,195.20 635.84,194.49 636.00,193.72 636.17,192.89 636.34,192.03 636.50,191.17 636.67,190.32 636.84,189.51 637.00,188.75 637.17,188.07 637.34,187.50 637.50,187.05 637.67,186.74 637.84,186.60 638.00,186.65 638.17,186.90 638.34,187.31 638.50,187.85 638.67,188.49 638.83,189.19 639.00,189.93 639.17,190.68 639.33,191.40 639.50,192.06 639.67,192.62 639.83,193.07 640.00,193.36 640.17,193.46 640.33,193.26 640.50,192.73 640.67,191.91 640.83,190.86 641.00,189.65 641.17,188.33 641.33,186.97 641.50,185.61 641.67,184.31 641.83,183.15 642.00,182.16 642.17,181.42 642.33,180.98 642.50,180.91 642.67,181.40 642.83,182.41 643.00,183.82 643.17,185.51 643.33,187.35 643.50,189.21 643.67,190.98 643.83,192.52 644.00,193.72 644.17,194.44 644.33,194.57 644.50,194.11 644.67,193.14 644.83,191.79 645.00,190.14 645.17,188.29 645.33,186.36 645.50,184.44 645.67,182.64 645.83,181.05 646.00,179.77 646.17,178.92 646.33,178.59 646.50,178.74 646.66,179.19 646.83,179.92 647.00,180.88 647.16,182.02 647.33,183.33 647.50,184.74 647.66,186.24 647.83,187.77 648.00,189.30 648.16,190.79 648.33,192.21 648.50,193.50 648.66,194.65 648.83,195.59 649.00,196.31 649.16,196.75 649.33,196.89 649.50,196.78 649.66,196.52 649.83,196.11 650.00,195.58 650.16,194.94 650.33,194.20 650.50,193.39 650.66,192.53 650.83,191.63 651.00,190.70 651.16,189.78 651.33,188.87 651.50,187.98 651.66,187.15 651.83,186.39 652.00,185.70 652.16,185.12 652.33,184.66 652.50,184.34 652.66,184.17 652.83,184.16 653.00,184.27 653.16,184.49 653.33,184.79 653.50,185.17 653.66,185.61 653.83,186.11 654.00,186.66 654.16,187.23 654.33,187.83 654.50,188.44 654.66,189.04 654.83,189.63 655.00,190.19 655.16,190.72 655.33,191.20 655.49,191.62 655.66,191.97 655.83,192.24 655.99,192.41 656.16,192.48 656.33,192.42 656.49,192.21 656.66,191.88 656.83,191.44 656.99,190.89 657.16,190.26 657.33,189.55 657.49,188.78 657.66,187.95 657.83,187.10 657.99,186.21 658.16,185.32 658.33,184.43 658.49,183.56 658.66,182.72 658.83,181.92 658.99,181.17 659.16,180.50 659.33,179.90 659.49,179.40 659.66,179.01 659.83,178.74 659.99,178.61 660.16,178.68 660.33,179.25 660.49,180.27 660.66,181.68 660.83,183.39 660.99,185.32 661.16,187.41 661.33,189.57 661.49,191.74 661.66,193.82 661.83,195.75 661.99,197.45 662.16,198.84 662.33,199.85 662.49,200.40 662.66,200.40 662.83,199.71 662.99,198.44 663.16,196.69 663.33,194.60 663.49,192.30 663.66,189.91 663.82,187.55 663.99,185.36 664.16,183.45 664.32,181.96 664.49,181.01 664.66,180.72 664.82,180.87 664.99,181.26 665.16,181.85 665.32,182.61 665.49,183.51 665.66,184.53 665.82,185.63 665.99,186.78 666.16,187.96 666.32,189.13 666.49,190.27 666.66,191.34 666.82,192.32 666.99,193.17 667.16,193.87 667.32,194.39 667.49,194.69 667.66,194.75 667.82,194.47 667.99,193.88 668.16,193.02 668.32,191.96 668.49,190.76 668.66,189.46 668.82,188.13 668.99,186.82 669.16,185.58 669.32,184.49 669.49,183.59 669.66,182.93 669.82,182.59 669.99,182.58 670.16,182.81 670.32,183.24 670.49,183.84 670.66,184.57 670.82,185.41 670.99,186.33 671.16,187.30 671.32,188.29 671.49,189.28 671.65,190.22 671.82,191.10 671.99,191.88 672.15,192.54 672.32,193.04 672.49,193.36 672.65,193.46 672.82,193.25 672.99,192.71 673.15,191.88 673.32,190.82 673.49,189.57 673.65,188.20 673.82,186.75 673.99,185.28 674.15,183.83 674.32,182.46 674.49,181.22 674.65,180.16 674.82,179.33 674.99,178.79 675.15,178.59 675.32,178.75 675.49,179.21 675.65,179.95 675.82,180.92 675.99,182.07 676.15,183.35 676.32,184.74 676.49,186.19 676.65,187.64 676.82,189.06 676.99,190.41 677.15,191.65 677.32,192.72 677.49,193.59 677.65,194.22 677.82,194.56 677.99,194.59 678.15,194.50 678.32,194.32 678.49,194.07 678.65,193.75 678.82,193.37 678.99,192.95 679.15,192.49 679.32,192.01 679.49,191.51 679.65,191.00 679.82,190.49 679.99,189.99 680.15,189.51 680.32,189.07 680.48,188.66 680.65,188.31 680.82,188.01 680.98,187.78 681.15,187.64 681.32,187.58 681.48,187.63 681.65,187.80 681.82,188.08 681.98,188.46 682.15,188.92 682.32,189.46 682.48,190.05 682.65,190.68 682.82,191.35 682.98,192.03 683.15,192.72 683.32,193.40 683.48,194.06 683.65,194.69 683.82,195.27 683.98,195.79 684.15,196.24 684.32,196.60 684.48,196.87 684.65,197.02 684.82,197.04 684.98,196.83 685.15,196.38 685.32,195.73 685.48,194.91 685.65,193.95 685.82,192.90 685.98,191.77 686.15,190.62 686.32,189.46 686.48,188.35 686.65,187.30 686.82,186.36 686.98,185.55 687.15,184.92 687.32,184.50 687.48,184.31 687.65,184.37 687.82,184.61 687.98,185.00 688.15,185.52 688.31,186.15 688.48,186.88 688.65,187.67 688.81,188.50 688.98,189.36 689.15,190.23 689.31,191.07 689.48,191.87 689.65,192.61 689.81,193.26 689.98,193.81 690.15,194.23 690.31,194.50 690.48,194.60 690.65,194.46 690.81,194.04 690.98,193.37 691.15,192.50 691.31,191.47 691.48,190.32 691.65,189.07 691.81,187.78 691.98,186.48 692.15,185.20 692.31,183.99 692.48,182.89 692.65,181.93 692.81,181.15 692.98,180.60 693.15,180.30 693.31,180.31 693.48,180.75 693.65,181.55 693.81,182.67 693.98,184.04 694.15,185.60 694.31,187.29 694.48,189.05 694.65,190.80 694.81,192.50 694.98,194.08 695.15,195.48 695.31,196.63 695.48,197.47 695.65,197.95 695.81,198.01 695.98,197.80 696.15,197.38 696.31,196.78 696.48,196.03 696.64,195.16 696.81,194.20 696.98,193.19 697.14,192.15 697.31,191.12 697.48,190.12 697.64,189.19 697.81,188.36 697.98,187.65 698.14,187.10 698.31,186.74 698.48,186.60 698.64,186.67 698.81,186.90 698.98,187.26 699.14,187.73 699.31,188.27 699.48,188.87 699.64,189.49 699.81,190.11 699.98,190.70 700.14,191.24 700.31,191.69 700.48,192.04 700.64,192.26 700.81,192.31 700.98,192.17 701.14,191.84 701.31,191.38 701.48,190.83 701.64,190.22 701.81,189.59 701.98,189.00 702.14,188.48 702.31,188.07 702.48,187.81 702.64,187.74 702.81,187.81 702.98,187.96 703.14,188.19 703.31,188.48 703.48,188.82 703.64,189.20 703.81,189.60 703.98,190.01 704.14,190.43 704.31,190.83 704.48,191.21 704.64,191.55 704.81,191.85 704.97,192.08 705.14,192.24 705.31,192.31 705.47,192.25 705.64,191.97 705.81,191.49 705.97,190.86 706.14,190.12 706.31,189.30 706.47,188.43 706.64,187.56 706.81,186.72 706.97,185.95 707.14,185.29 707.31,184.77 707.47,184.43 707.64,184.31 707.81,184.44 707.97,184.82 708.14,185.41 708.31,186.17 708.47,187.08 708.64,188.10 708.81,189.19 708.97,190.33 709.14,191.47 709.31,192.59 709.47,193.65 709.64,194.61 709.81,195.45 709.97,196.12 710.14,196.61 710.31,196.86 710.47,196.85 710.64,196.58 710.81,196.08 710.97,195.38 711.14,194.51 711.31,193.50 711.47,192.38 711.64,191.19 711.81,189.95 711.97,188.70 712.14,187.48 712.31,186.30 712.47,185.20 712.64,184.22 712.81,183.38 712.97,182.71 713.14,182.25 713.30,182.04 713.47,182.07 713.64,182.31 713.80,182.72 713.97,183.28 714.14,183.97 714.30,184.76 714.47,185.63 714.64,186.55 714.80,187.50 714.97,188.46 715.14,189.40 715.30,190.30 715.47,191.14 715.64,191.88 715.80,192.50 715.97,192.99 716.14,193.32 716.30,193.46 716.47,193.39 716.64,193.14 716.80,192.74 716.97,192.20 717.14,191.56 717.30,190.83 717.47,190.04 717.64,189.22 717.80,188.39 717.97,187.57 718.14,186.80 718.30,186.08 718.47,185.45 718.64,184.94 718.80,184.56 718.97,184.35 719.14,184.33 719.30,184.56 719.47,185.04 719.64,185.71 719.80,186.53 719.97,187.45 720.14,188.45 720.30,189.46 720.47,190.46 720.64,191.39 720.80,192.21 720.97,192.88 721.14,193.36 721.30,193.60 721.47,193.60 721.63,193.51 721.80,193.35 721.97,193.13 722.13,192.84 722.30,192.51 722.47,192.15 722.63,191.75 722.80,191.33 722.97,190.89 723.13,190.45 723.30,190.02 723.47,189.59 723.63,189.18 723.80,188.81 723.97,188.46 724.13,188.16 724.30,187.92 724.47,187.73 724.63,187.62 724.80,187.58 724.97,187.66 725.13,187.87 725.30,188.19 725.47,188.60 725.63,189.07 725.80,189.58 725.97,190.12 726.13,190.65 726.30,191.15 726.47,191.60 726.63,191.98 726.80,192.27 726.97,192.44 727.13,192.47 727.30,192.32 727.47,192.02 727.63,191.60 727.80,191.07 727.97,190.47 728.13,189.83 728.30,189.17 728.47,188.52 728.63,187.91 728.80,187.38 728.97,186.93 729.13,186.62 729.30,186.45 729.47,186.46 729.63,186.64 729.80,186.96 729.96,187.40 730.13,187.95 730.30,188.59 730.46,189.29 730.63,190.04 730.80,190.82 730.96,191.60 731.13,192.37 731.30,193.10 731.46,193.79 731.63,194.40 731.80,194.92 731.96,195.33 732.13,195.61 732.30,195.74 732.46,195.52 732.63,194.58 732.80,193.06 732.96,191.16 733.13,189.05 733.30,186.94 733.46,184.99 733.63,183.40 733.80,182.35 733.96,182.02 734.13,182.12 734.30,182.36 734.46,182.73 734.63,183.21 734.80,183.79 734.96,184.45 735.13,185.17 735.30,185.95 735.46,186.76 735.63,187.59 735.80,188.42 735.96,189.24 736.13,190.03 736.30,190.78 736.46,191.46 736.63,192.07 736.80,192.59 736.96,193.00 737.13,193.29 737.30,193.44 737.46,193.43 737.63,193.22 737.80,192.85 737.96,192.34 738.13,191.72 738.29,191.02 738.46,190.28 738.63,189.54 738.79,188.81 738.96,188.14 739.13,187.55 739.29,187.07 739.46,186.75 739.63,186.60 739.79,186.62 739.96,186.72 740.13,186.88 740.29,187.11 740.46,187.38 740.63,187.70 740.79,188.05 740.96,188.43 741.13,188.83 741.29,189.25 741.46,189.66 741.63,190.07 741.79,190.47 741.96,190.86 742.13,191.21 742.29,191.53 742.46,191.80 742.63,192.03 742.79,192.19 742.96,192.29 743.13,192.31 743.29,192.27 743.46,192.17 743.63,192.02 743.79,191.82 743.96,191.59 744.13,191.32 744.29,191.03 744.46,190.72 744.63,190.39 744.79,190.06 744.96,189.73 745.13,189.40 745.29,189.09 745.46,188.79 745.63,188.52 745.79,188.28 745.96,188.07 746.13,187.91 746.29,187.80 746.46,187.75 746.62,187.76 746.79,187.88 746.96,188.09 747.12,188.39 747.29,188.74 747.46,189.15 747.62,189.60 747.79,190.07 747.96,190.55 748.12,191.02 748.29,191.47 748.46,191.89 748.62,192.27 748.79,192.58 748.96,192.81 749.12,192.96 749.29,193.00 749.46,192.93 749.62,192.75 749.79,192.48 749.96,192.13 750.12,191.72 750.29,191.25 750.46,190.75 750.62,190.23 750.79,189.69 750.96,189.15 751.12,188.64 751.29,188.15 751.46,187.70 751.62,187.31 751.79,187.00 751.96,186.76 752.12,186.63 752.29,186.60 752.46,186.71 752.62,186.96 752.79,187.31 752.96,187.76 753.12,188.28 753.29,188.87 753.46,189.51 753.62,190.17 753.79,190.84 753.96,191.51 754.12,192.15 754.29,192.75 754.46,193.30 754.62,193.77 754.79,194.15 754.95,194.43 755.12,194.58 755.29,194.59 755.45,194.43 755.62,194.13 755.79,193.70 755.95,193.17 756.12,192.56 756.29,191.89 756.45,191.18 756.62,190.46 756.79,189.73 756.95,189.04 757.12,188.39 757.29,187.81 757.45,187.31 757.62,186.93 757.79,186.69 757.95,186.60 758.12,186.66 758.29,186.86 758.45,187.18 758.62,187.59 758.79,188.09 758.95,188.64 759.12,189.24 759.29,189.85 759.45,190.48 759.62,191.09 759.79,191.67 759.95,192.19 760.12,192.65 760.29,193.03 760.45,193.29 760.62,193.44 760.79,193.45 760.95,193.34 761.12,193.15 761.29,192.87 761.45,192.52 761.62,192.10 761.79,191.63 761.95,191.12 762.12,190.57 762.29,190.00 762.45,189.41 762.62,188.82 762.79,188.23 762.95,187.65 763.12,187.11 763.28,186.59 763.45,186.12 763.62,185.70 763.78,185.35 763.95,185.07 764.12,184.88 764.28,184.78 764.45,184.79 764.62,184.93 764.78,185.20 764.95,185.57 765.12,186.03 765.28,186.56 765.45,187.14 765.62,187.75 765.78,188.37 765.95,188.99 766.12,189.59 766.28,190.14 766.45,190.63 766.62,191.04 766.78,191.36 766.95,191.56 767.12,191.63 767.28,191.56 767.45,191.40 767.62,191.14 767.78,190.82 767.95,190.44 768.12,190.03 768.28,189.61 768.45,189.19 768.62,188.79 768.78,188.43 768.95,188.13 769.12,187.90 769.28,187.77 769.45,187.75 769.62,187.86 769.78,188.09 769.95,188.41 770.12,188.81 770.28,189.27 770.45,189.75 770.62,190.25 770.78,190.74 770.95,191.20 771.12,191.61 771.28,191.94 771.45,192.18 771.62,192.30 771.78,192.27 771.95,191.98 772.11,191.46 772.28,190.77 772.45,189.94 772.61,189.01 772.78,188.02 772.95,187.02 773.11,186.06 773.28,185.16 773.45,184.39" stroke="#D95319" stroke-width="1.35" stroke-dasharray="6.5 0.9 1.1 0.9"/>
</g>
<rect x="59.4" y="10.3" width="714.0" height="359.0" fill="none" stroke="#9a9a9a" stroke-width="0.9"/>
<line x1="59.40" y1="369.3" x2="59.40" y2="362.3" stroke="#9a9a9a" stroke-width="0.9"/>
<line x1="59.40" y1="10.3" x2="59.40" y2="17.3" stroke="#9a9a9a" stroke-width="0.9"/>
<line x1="178.40" y1="369.3" x2="178.40" y2="362.3" stroke="#9a9a9a" stroke-width="0.9"/>
<line x1="178.40" y1="10.3" x2="178.40" y2="17.3" stroke="#9a9a9a" stroke-width="0.9"/>
<line x1="297.40" y1="369.3" x2="297.40" y2="362.3" stroke="#9a9a9a" stroke-width="0.9"/>
<line x1="297.40" y1="10.3" x2="297.40" y2="17.3" stroke="#9a9a9a" stroke-width="0.9"/>
<line x1="416.40" y1="369.3" x2="416.40" y2="362.3" stroke="#9a9a9a" stroke-width="0.9"/>
<line x1="416.40" y1="10.3" x2="416.40" y2="17.3" stroke="#9a9a9a" stroke-width="0.9"/>
<line x1="535.40" y1="369.3" x2="535.40" y2="362.3" stroke="#9a9a9a" stroke-width="0.9"/>
<line x1="535.40" y1="10.3" x2="535.40" y2="17.3" stroke="#9a9a9a" stroke-width="0.9"/>
<line x1="654.40" y1="369.3" x2="654.40" y2="362.3" stroke="#9a9a9a" stroke-width="0.9"/>
<line x1="654.40" y1="10.3" x2="654.40" y2="17.3" stroke="#9a9a9a" stroke-width="0.9"/>
<line x1="773.40" y1="369.3" x2="773.40" y2="362.3" stroke="#9a9a9a" stroke-width="0.9"/>
<line x1="773.40" y1="10.3" x2="773.40" y2="17.3" stroke="#9a9a9a" stroke-width="0.9"/>
<line x1="59.4" y1="353.20" x2="66.4" y2="353.20" stroke="#9a9a9a" stroke-width="0.9"/>
<line x1="773.4" y1="353.20" x2="766.4" y2="353.20" stroke="#9a9a9a" stroke-width="0.9"/>
<line x1="59.4" y1="320.52" x2="66.4" y2="320.52" stroke="#9a9a9a" stroke-width="0.9"/>
<line x1="773.4" y1="320.52" x2="766.4" y2="320.52" stroke="#9a9a9a" stroke-width="0.9"/>
<line x1="59.4" y1="287.84" x2="66.4" y2="287.84" stroke="#9a9a9a" stroke-width="0.9"/>
<line x1="773.4" y1="287.84" x2="766.4" y2="287.84" stroke="#9a9a9a" stroke-width="0.9"/>
<line x1="59.4" y1="255.16" x2="66.4" y2="255.16" stroke="#9a9a9a" stroke-width="0.9"/>
<line x1="773.4" y1="255.16" x2="766.4" y2="255.16" stroke="#9a9a9a" stroke-width="0.9"/>
<line x1="59.4" y1="222.48" x2="66.4" y2="222.48" stroke="#9a9a9a" stroke-width="0.9"/>
<line x1="773.4" y1="222.48" x2="766.4" y2="222.48" stroke="#9a9a9a" stroke-width="0.9"/>
<line x1="59.4" y1="189.80" x2="66.4" y2="189.80" stroke="#9a9a9a" stroke-width="0.9"/>
<line x1="773.4" y1="189.80" x2="766.4" y2="189.80" stroke="#9a9a9a" stroke-width="0.9"/>
<line x1="59.4" y1="157.12" x2="66.4" y2="157.12" stroke="#9a9a9a" stroke-width="0.9"/>
<line x1="773.4" y1="157.12" x2="766.4" y2="157.12" stroke="#9a9a9a" stroke-width="0.9"/>
<line x1="59.4" y1="124.44" x2="66.4" y2="124.44" stroke="#9a9a9a" stroke-width="0.9"/>
<line x1="773.4" y1="124.44" x2="766.4" y2="124.44" stroke="#9a9a9a" stroke-width="0.9"/>
<line x1="59.4" y1="91.76" x2="66.4" y2="91.76" stroke="#9a9a9a" stroke-width="0.9"/>
<line x1="773.4" y1="91.76" x2="766.4" y2="91.76" stroke="#9a9a9a" stroke-width="0.9"/>
<line x1="59.4" y1="59.08" x2="66.4" y2="59.08" stroke="#9a9a9a" stroke-width="0.9"/>
<line x1="773.4" y1="59.08" x2="766.4" y2="59.08" stroke="#9a9a9a" stroke-width="0.9"/>
<line x1="59.4" y1="26.40" x2="66.4" y2="26.40" stroke="#9a9a9a" stroke-width="0.9"/>
<line x1="773.4" y1="26.40" x2="766.4" y2="26.40" stroke="#9a9a9a" stroke-width="0.9"/>
<rect x="96.0" y="32.3" width="48.599999999999994" height="315.09999999999997" fill="none" stroke="#6a6a6a" stroke-width="0.7"/>
<rect x="416.4" y="143.1" width="47.60000000000002" height="99.70000000000002" fill="none" stroke="#6a6a6a" stroke-width="0.7"/>
<line x1="144.6" y1="32.3" x2="467.96" y2="45.00" stroke="#444" stroke-width="0.65"/><polygon points="473.00,45.20 465.91,47.42 467.96,45.00 466.10,42.43" fill="#111"/>
<line x1="464.0" y1="242.8" x2="483.70" y2="277.23" stroke="#444" stroke-width="0.65"/><polygon points="486.20,281.60 480.55,276.77 483.70,277.23 484.89,274.28" fill="#111"/>
<rect x="513.4" y="18.0" width="210.20000000000005" height="117.0" fill="#fff"/>
<line x1="523.41" y1="18.0" x2="523.41" y2="135.0" stroke="#ededed" stroke-width="0.7" stroke-dasharray="1 2"/>
<line x1="533.42" y1="18.0" x2="533.42" y2="135.0" stroke="#ededed" stroke-width="0.7" stroke-dasharray="1 2"/>
<line x1="543.43" y1="18.0" x2="543.43" y2="135.0" stroke="#ededed" stroke-width="0.7" stroke-dasharray="1 2"/>
<line x1="553.44" y1="18.0" x2="553.44" y2="135.0" stroke="#ededed" stroke-width="0.7" stroke-dasharray="1 2"/>
<line x1="573.46" y1="18.0" x2="573.46" y2="135.0" stroke="#ededed" stroke-width="0.7" stroke-dasharray="1 2"/>
<line x1="583.47" y1="18.0" x2="583.47" y2="135.0" stroke="#ededed" stroke-width="0.7" stroke-dasharray="1 2"/>
<line x1="593.48" y1="18.0" x2="593.48" y2="135.0" stroke="#ededed" stroke-width="0.7" stroke-dasharray="1 2"/>
<line x1="603.49" y1="18.0" x2="603.49" y2="135.0" stroke="#ededed" stroke-width="0.7" stroke-dasharray="1 2"/>
<line x1="623.51" y1="18.0" x2="623.51" y2="135.0" stroke="#ededed" stroke-width="0.7" stroke-dasharray="1 2"/>
<line x1="633.52" y1="18.0" x2="633.52" y2="135.0" stroke="#ededed" stroke-width="0.7" stroke-dasharray="1 2"/>
<line x1="643.53" y1="18.0" x2="643.53" y2="135.0" stroke="#ededed" stroke-width="0.7" stroke-dasharray="1 2"/>
<line x1="653.54" y1="18.0" x2="653.54" y2="135.0" stroke="#ededed" stroke-width="0.7" stroke-dasharray="1 2"/>
<line x1="673.56" y1="18.0" x2="673.56" y2="135.0" stroke="#ededed" stroke-width="0.7" stroke-dasharray="1 2"/>
<line x1="683.57" y1="18.0" x2="683.57" y2="135.0" stroke="#ededed" stroke-width="0.7" stroke-dasharray="1 2"/>
<line x1="693.58" y1="18.0" x2="693.58" y2="135.0" stroke="#ededed" stroke-width="0.7" stroke-dasharray="1 2"/>
<line x1="703.59" y1="18.0" x2="703.59" y2="135.0" stroke="#ededed" stroke-width="0.7" stroke-dasharray="1 2"/>
<line x1="723.61" y1="18.0" x2="723.61" y2="135.0" stroke="#ededed" stroke-width="0.7" stroke-dasharray="1 2"/>
<line x1="513.4" y1="135.02" x2="723.6" y2="135.02" stroke="#ededed" stroke-width="0.7" stroke-dasharray="1 2"/>
<line x1="513.4" y1="124.38" x2="723.6" y2="124.38" stroke="#ededed" stroke-width="0.7" stroke-dasharray="1 2"/>
<line x1="513.4" y1="119.06" x2="723.6" y2="119.06" stroke="#ededed" stroke-width="0.7" stroke-dasharray="1 2"/>
<line x1="513.4" y1="113.74" x2="723.6" y2="113.74" stroke="#ededed" stroke-width="0.7" stroke-dasharray="1 2"/>
<line x1="513.4" y1="108.42" x2="723.6" y2="108.42" stroke="#ededed" stroke-width="0.7" stroke-dasharray="1 2"/>
<line x1="513.4" y1="97.78" x2="723.6" y2="97.78" stroke="#ededed" stroke-width="0.7" stroke-dasharray="1 2"/>
<line x1="513.4" y1="92.46" x2="723.6" y2="92.46" stroke="#ededed" stroke-width="0.7" stroke-dasharray="1 2"/>
<line x1="513.4" y1="87.14" x2="723.6" y2="87.14" stroke="#ededed" stroke-width="0.7" stroke-dasharray="1 2"/>
<line x1="513.4" y1="81.82" x2="723.6" y2="81.82" stroke="#ededed" stroke-width="0.7" stroke-dasharray="1 2"/>
<line x1="513.4" y1="71.18" x2="723.6" y2="71.18" stroke="#ededed" stroke-width="0.7" stroke-dasharray="1 2"/>
<line x1="513.4" y1="65.86" x2="723.6" y2="65.86" stroke="#ededed" stroke-width="0.7" stroke-dasharray="1 2"/>
<line x1="513.4" y1="60.54" x2="723.6" y2="60.54" stroke="#ededed" stroke-width="0.7" stroke-dasharray="1 2"/>
<line x1="513.4" y1="55.22" x2="723.6" y2="55.22" stroke="#ededed" stroke-width="0.7" stroke-dasharray="1 2"/>
<line x1="513.4" y1="44.58" x2="723.6" y2="44.58" stroke="#ededed" stroke-width="0.7" stroke-dasharray="1 2"/>
<line x1="513.4" y1="39.26" x2="723.6" y2="39.26" stroke="#ededed" stroke-width="0.7" stroke-dasharray="1 2"/>
<line x1="513.4" y1="33.94" x2="723.6" y2="33.94" stroke="#ededed" stroke-width="0.7" stroke-dasharray="1 2"/>
<line x1="513.4" y1="28.62" x2="723.6" y2="28.62" stroke="#ededed" stroke-width="0.7" stroke-dasharray="1 2"/>
<line x1="513.4" y1="17.98" x2="723.6" y2="17.98" stroke="#ededed" stroke-width="0.7" stroke-dasharray="1 2"/>
<line x1="513.40" y1="18.0" x2="513.40" y2="135.0" stroke="#e6e6e6" stroke-width="0.8"/>
<line x1="563.45" y1="18.0" x2="563.45" y2="135.0" stroke="#e6e6e6" stroke-width="0.8"/>
<line x1="613.50" y1="18.0" x2="613.50" y2="135.0" stroke="#e6e6e6" stroke-width="0.8"/>
<line x1="663.55" y1="18.0" x2="663.55" y2="135.0" stroke="#e6e6e6" stroke-width="0.8"/>
<line x1="713.60" y1="18.0" x2="713.60" y2="135.0" stroke="#e6e6e6" stroke-width="0.8"/>
<line x1="513.4" y1="129.70" x2="723.6" y2="129.70" stroke="#e6e6e6" stroke-width="0.8"/>
<line x1="513.4" y1="103.10" x2="723.6" y2="103.10" stroke="#e6e6e6" stroke-width="0.8"/>
<line x1="513.4" y1="76.50" x2="723.6" y2="76.50" stroke="#e6e6e6" stroke-width="0.8"/>
<line x1="513.4" y1="49.90" x2="723.6" y2="49.90" stroke="#e6e6e6" stroke-width="0.8"/>
<line x1="513.4" y1="23.30" x2="723.6" y2="23.30" stroke="#e6e6e6" stroke-width="0.8"/>
<clipPath id="c1"><rect x="513.4" y="18.0" width="210.20000000000005" height="117.0"/></clipPath>
<g clip-path="url(#c1)" fill="none" stroke-linejoin="round">
<polyline points="513.57,75.94 513.97,75.94 514.37,75.94 514.77,75.94 515.17,75.94 515.57,75.94 515.97,75.94 516.37,75.94 516.77,75.94 517.17,75.94 517.57,75.94 517.97,75.94 518.37,75.94 518.77,75.94 519.17,76.10 519.57,76.93 519.97,78.27 520.37,79.92 520.77,81.66 521.17,83.28 521.58,84.58 521.98,85.34 522.38,85.36 522.78,84.61 523.18,83.27 523.58,81.55 523.98,79.63 524.38,77.71 524.78,75.99 525.18,74.67 525.58,73.94 525.98,74.01 526.38,74.95 526.78,76.54 527.18,78.56 527.58,80.79 527.98,82.99 528.38,84.94 528.78,86.41 529.18,87.18 529.58,86.87 529.98,85.09 530.38,82.29 530.78,78.97 531.18,75.62 531.59,72.73 531.99,70.80 532.39,70.30 532.79,70.60 533.19,71.06 533.59,71.42 533.99,71.29 534.39,69.92 534.79,67.42 535.19,64.00 535.59,59.88 535.99,55.29 536.39,50.45 536.79,45.56 537.19,40.86 537.59,36.57 537.99,32.89 538.39,30.06 538.79,28.29 539.19,27.80 539.59,28.70 539.99,30.88 540.39,34.20 540.79,38.50 541.19,43.65 541.60,49.50 542.00,55.90 542.40,62.72 542.80,69.81 543.20,77.02 543.60,84.22 544.00,91.25 544.40,97.98 544.80,104.25 545.20,109.93 545.60,114.87 546.00,118.94 546.40,121.97 546.80,123.83 547.20,124.39 547.60,123.87 548.00,122.57 548.40,120.57 548.80,117.96 549.20,114.81 549.60,111.21 550.00,107.25 550.40,103.02 550.80,98.59 551.20,94.05 551.61,89.48 552.01,84.98 552.41,80.62 552.81,76.49 553.21,72.68 553.61,69.26 554.01,66.33 554.41,63.96 554.81,62.25 555.21,61.28 555.61,61.15 556.01,62.30 556.41,64.59 556.81,67.73 557.21,71.43 557.61,75.38 558.01,79.30 558.41,82.89 558.81,85.86 559.21,87.90 559.61,88.72 560.01,88.48 560.41,87.72 560.81,86.51 561.21,84.92 561.62,83.02 562.02,80.89 562.42,78.60 562.82,76.22 563.22,73.83 563.62,71.48 564.02,69.27 564.42,67.25 564.82,65.50 565.22,64.10 565.62,63.11 566.02,62.61 566.42,62.67 566.82,63.28 567.22,64.39 567.62,65.92 568.02,67.81 568.42,69.99 568.82,72.40 569.22,74.96 569.62,77.62 570.02,80.29 570.42,82.92 570.82,85.43 571.22,87.77 571.63,89.85 572.03,91.62 572.43,93.00 572.83,93.94 573.23,94.35 573.63,94.21 574.03,93.55 574.43,92.45 574.83,90.99 575.23,89.22 575.63,87.22 576.03,85.05 576.43,82.79 576.83,80.50 577.23,78.25 577.63,76.11 578.03,74.15 578.43,72.44 578.83,71.05 579.23,70.04 579.63,69.49 580.03,69.43 580.43,69.71 580.83,70.24 581.23,70.95 581.64,71.79 582.04,72.70 582.44,73.61 582.84,74.48 583.24,75.23 583.64,75.81 584.04,76.16 584.44,76.22 584.84,75.91 585.24,75.25 585.64,74.27 586.04,73.03 586.44,71.56 586.84,69.89 587.24,68.08 587.64,66.16 588.04,64.16 588.44,62.14 588.84,60.13 589.24,58.17 589.64,56.31 590.04,54.57 590.44,53.01 590.84,51.66 591.24,50.56 591.65,49.76 592.05,49.29 592.45,49.23 592.85,50.15 593.25,52.12 593.65,54.96 594.05,58.46 594.45,62.43 594.85,66.67 595.25,71.00 595.65,75.22 596.05,79.13 596.45,82.54 596.85,85.26 597.25,87.08 597.65,87.82 598.05,87.80 598.45,87.70 598.85,87.54 599.25,87.33 599.65,87.09 600.05,86.81 600.45,86.51 600.85,86.16 601.25,85.55 601.66,84.68 602.06,83.61 602.46,82.39 602.86,81.08 603.26,79.72 603.66,78.37 604.06,77.09 604.46,75.93 604.86,74.95 605.26,74.19 605.66,73.71 606.06,73.57 606.46,73.97 606.86,74.92 607.26,76.31 607.66,77.97 608.06,79.79 608.46,81.61 608.86,83.32 609.26,84.76 609.66,85.80 610.06,86.32 610.46,86.10 610.86,85.05 611.26,83.33 611.67,81.14 612.07,78.67 612.47,76.10 612.87,73.63 613.27,71.45 613.67,69.76 614.07,68.73 614.47,68.54 614.87,69.09 615.27,70.23 615.67,71.85 616.07,73.86 616.47,76.14 616.87,78.62 617.27,81.17 617.67,83.70 618.07,86.12 618.47,88.31 618.87,90.19 619.27,91.64 619.67,92.57 620.07,92.88 620.47,92.47 620.87,91.34 621.27,89.59 621.68,87.29 622.08,84.50 622.48,81.32 622.88,77.80 623.28,74.03 623.68,70.09 624.08,66.04 624.48,61.97 624.88,57.95 625.28,54.05 625.68,50.36 626.08,46.94 626.48,43.87 626.88,41.22 627.28,39.08 627.68,37.52 628.08,36.61 628.48,36.46 628.88,37.54 629.28,39.84 629.68,43.10 630.08,47.06 630.48,51.47 630.88,56.08 631.28,60.63 631.69,64.86 632.09,68.52 632.49,71.36 632.89,73.13 633.29,74.41 633.69,75.64 634.09,76.78 634.49,77.82 634.89,78.72 635.29,79.45 635.69,80.00 636.09,80.32 636.49,80.39 636.89,80.22 637.29,79.86 637.69,79.38 638.09,78.84 638.49,78.31 638.89,77.85 639.29,77.54 639.69,77.43 640.09,77.71 640.49,78.45 640.89,79.59 641.29,81.06 641.70,82.78 642.10,84.69 642.50,86.73 642.90,88.81 643.30,90.87 643.70,92.85 644.10,94.68 644.50,96.28 644.90,97.59 645.30,98.53 645.70,99.05 646.10,99.08 646.50,98.72 646.90,98.00 647.30,96.97 647.70,95.66 648.10,94.12 648.50,92.38 648.90,90.48 649.30,88.46 649.70,86.34 650.10,84.18 650.50,82.01 650.90,79.87 651.30,77.78 651.71,75.80 652.11,73.96 652.51,72.29 652.91,70.84 653.31,69.64 653.71,68.72 654.11,68.14 654.51,67.91 654.91,68.07 655.31,68.52 655.71,69.19 656.11,70.00 656.51,70.84 656.91,71.65 657.31,72.33 657.71,72.80 658.11,72.97 658.51,72.80 658.91,72.38 659.31,71.78 659.71,71.06 660.11,70.31 660.51,69.61 660.91,69.02 661.31,68.63 661.72,68.51 662.12,68.69 662.52,69.16 662.92,69.87 663.32,70.81 663.72,71.96 664.12,73.27 664.52,74.73 664.92,76.30 665.32,77.97 665.72,79.71 666.12,81.48 666.52,83.26 666.92,85.02 667.32,86.74 667.72,88.40 668.12,89.95 668.52,91.38 668.92,92.66 669.32,93.76 669.72,94.66 670.12,95.33 670.52,95.73 670.92,95.85 671.32,95.68 671.73,95.22 672.13,94.52 672.53,93.59 672.93,92.49 673.33,91.22 673.73,89.83 674.13,88.34 674.53,86.78 674.93,85.19 675.33,83.59 675.73,82.01 676.13,80.49 676.53,79.05 676.93,77.72 677.33,76.54 677.73,75.53 678.13,74.73 678.53,74.16 678.93,73.85 679.33,73.71 679.73,73.61 680.13,73.52 680.53,73.43 680.93,73.29 681.33,73.01 681.74,72.47 682.14,71.70 682.54,70.72 682.94,69.55 683.34,68.23 683.74,66.77 684.14,65.21 684.54,63.58 684.94,61.89 685.34,60.17 685.74,58.46 686.14,56.77 686.54,55.14 686.94,53.58 687.34,52.14 687.74,50.82 688.14,49.66 688.54,48.69 688.94,47.92 689.34,47.39 689.74,47.13 690.14,47.26 690.54,48.20 690.94,49.89 691.34,52.23 691.75,55.12 692.15,58.43 692.55,62.07 692.95,65.92 693.35,69.87 693.75,73.82 694.15,77.65 694.55,81.27 694.95,84.55 695.35,87.39 695.75,89.68 696.15,91.31 696.55,92.18 696.95,92.25 697.35,91.97 697.75,91.42 698.15,90.64 698.55,89.64 698.95,88.46 699.35,87.11 699.75,85.63 700.15,84.03 700.55,82.34 700.95,80.58 701.35,78.78 701.76,76.96 702.16,75.15 702.56,73.37 702.96,71.64 703.36,69.99 703.76,68.45 704.16,67.03 704.56,65.76 704.96,64.68 705.36,63.79 705.76,63.12 706.16,62.71 706.56,62.56 706.96,63.03 707.36,64.34 707.76,66.36 708.16,68.95 708.56,71.99 708.96,75.35 709.36,78.89 709.76,82.49 710.16,86.01 710.56,89.33 710.96,92.30 711.36,94.81 711.77,96.72 712.17,97.90 712.57,98.23 712.97,97.84 713.37,96.92 713.77,95.52 714.17,93.71 714.57,91.53 714.97,89.07 715.37,86.37 715.77,83.49 716.17,80.50 716.57,77.46 716.97,74.43 717.37,71.46 717.77,68.63 718.17,65.99 718.57,63.59 718.97,61.51 719.37,59.80 719.77,58.52 720.17,57.74 720.57,57.51 720.97,57.72 721.37,58.25 721.78,59.03 722.18,60.02 722.58,61.17 722.98,62.43 723.38,63.75 723.78,65.08 724.18,66.36 724.58,67.58 724.98,68.88 725.38,70.28 725.78,71.76 726.18,73.29 726.58,74.87" stroke="#0072BD" stroke-width="1.65"/>
<polyline points="513.57,75.94 513.97,75.94 514.37,75.94 514.77,75.94 515.17,75.94 515.57,75.94 515.97,75.94 516.37,75.94 516.77,75.94 517.17,75.94 517.57,75.94 517.97,75.94 518.37,75.94 518.77,75.94 519.17,76.10 519.57,76.93 519.97,78.27 520.37,79.92 520.77,81.66 521.17,83.28 521.58,84.58 521.98,85.34 522.38,85.36 522.78,84.61 523.18,83.27 523.58,81.55 523.98,79.63 524.38,77.71 524.78,75.99 525.18,74.67 525.58,73.94 525.98,74.01 526.38,74.95 526.78,76.54 527.18,78.56 527.58,80.79 527.98,82.99 528.38,84.94 528.78,86.41 529.18,87.18 529.58,86.87 529.98,85.09 530.38,82.29 530.78,78.97 531.18,75.62 531.59,72.73 531.99,70.80 532.39,70.30 532.79,70.60 533.19,71.06 533.59,71.42 533.99,71.29 534.39,69.92 534.79,67.42 535.19,64.00 535.59,59.88 535.99,55.29 536.39,50.45 536.79,45.56 537.19,40.86 537.59,36.57 537.99,32.89 538.39,30.06 538.79,28.29 539.19,27.80 539.59,28.70 539.99,30.88 540.39,34.20 540.79,38.50 541.19,43.65 541.60,49.50 542.00,55.90 542.40,62.72 542.80,69.81 543.20,77.02 543.60,84.22 544.00,91.25 544.40,97.98 544.80,104.25 545.20,109.93 545.60,114.87 546.00,118.94 546.40,121.97 546.80,123.83 547.20,124.39 547.60,123.87 548.00,122.57 548.40,120.57 548.80,117.96 549.20,114.81 549.60,111.21 550.00,107.25 550.40,103.02 550.80,98.59 551.20,94.05 551.61,89.48 552.01,84.98 552.41,80.62 552.81,76.49 553.21,72.68 553.61,69.26 554.01,66.33 554.41,63.96 554.81,62.25 555.21,61.28 555.61,61.15 556.01,62.30 556.41,64.59 556.81,67.73 557.21,71.43 557.61,75.38 558.01,79.30 558.41,82.89 558.81,85.86 559.21,87.90 559.61,88.72 560.01,88.48 560.41,87.72 560.81,86.51 561.21,84.92 561.62,83.02 562.02,80.89 562.42,78.60 562.82,76.22 563.22,73.83 563.62,71.48 564.02,69.27 564.42,67.25 564.82,65.50 565.22,64.10 565.62,63.11 566.02,62.61 566.42,62.67 566.82,63.28 567.22,64.39 567.62,65.92 568.02,67.81 568.42,69.99 568.82,72.40 569.22,74.96 569.62,77.62 570.02,80.29 570.42,82.92 570.82,85.43 571.22,87.77 571.63,89.85 572.03,91.62 572.43,93.00 572.83,93.94 573.23,94.35 573.63,94.21 574.03,93.55 574.43,92.45 574.83,90.99 575.23,89.22 575.63,87.22 576.03,85.05 576.43,82.79 576.83,80.50 577.23,78.25 577.63,76.11 578.03,74.15 578.43,72.44 578.83,71.05 579.23,70.04 579.63,69.49 580.03,69.43 580.43,69.71 580.83,70.24 581.23,70.95 581.64,71.79 582.04,72.70 582.44,73.61 582.84,74.48 583.24,75.23 583.64,75.81 584.04,76.16 584.44,76.22 584.84,75.91 585.24,75.25 585.64,74.27 586.04,73.03 586.44,71.56 586.84,69.89 587.24,68.08 587.64,66.16 588.04,64.16 588.44,62.14 588.84,60.13 589.24,58.17 589.64,56.31 590.04,54.57 590.44,53.01 590.84,51.66 591.24,50.56 591.65,49.76 592.05,49.29 592.45,49.23 592.85,50.15 593.25,52.12 593.65,54.96 594.05,58.46 594.45,62.43 594.85,66.67 595.25,71.00 595.65,75.22 596.05,79.13 596.45,82.54 596.85,85.26 597.25,87.08 597.65,87.82 598.05,87.80 598.45,87.70 598.85,87.54 599.25,87.33 599.65,87.09 600.05,86.81 600.45,86.51 600.85,86.16 601.25,85.55 601.66,84.68 602.06,83.61 602.46,82.39 602.86,81.08 603.26,79.72 603.66,78.37 604.06,77.09 604.46,75.93 604.86,74.95 605.26,74.19 605.66,73.71 606.06,73.57 606.46,73.97 606.86,74.92 607.26,76.31 607.66,77.97 608.06,79.79 608.46,81.61 608.86,83.32 609.26,84.76 609.66,85.80 610.06,86.32 610.46,86.10 610.86,85.05 611.26,83.33 611.67,81.14 612.07,78.67 612.47,76.10 612.87,73.63 613.27,71.45 613.67,69.76 614.07,68.73 614.47,68.54 614.87,69.09 615.27,70.23 615.67,71.85 616.07,73.86 616.47,76.14 616.87,78.62 617.27,81.17 617.67,83.70 618.07,86.12 618.47,88.31 618.87,90.19 619.27,91.64 619.67,92.57 620.07,92.88 620.47,92.47 620.87,91.34 621.27,89.59 621.68,87.29 622.08,84.50 622.48,81.32 622.88,77.80 623.28,74.03 623.68,70.09 624.08,66.04 624.48,61.97 624.88,57.95 625.28,54.05 625.68,50.36 626.08,46.94 626.48,43.87 626.88,41.22 627.28,39.08 627.68,37.52 628.08,36.61 628.48,36.46 628.88,37.54 629.28,39.84 629.68,43.10 630.08,47.06 630.48,51.47 630.88,56.08 631.28,60.63 631.69,64.86 632.09,68.52 632.49,71.36 632.89,73.13 633.29,74.41 633.69,75.64 634.09,76.78 634.49,77.82 634.89,78.72 635.29,79.45 635.69,80.00 636.09,80.32 636.49,80.39 636.89,80.22 637.29,79.86 637.69,79.38 638.09,78.84 638.49,78.31 638.89,77.85 639.29,77.54 639.69,77.43 640.09,77.71 640.49,78.45 640.89,79.59 641.29,81.06 641.70,82.78 642.10,84.69 642.50,86.73 642.90,88.81 643.30,90.87 643.70,92.85 644.10,94.68 644.50,96.28 644.90,97.59 645.30,98.53 645.70,99.05 646.10,99.08 646.50,98.72 646.90,98.00 647.30,96.97 647.70,95.66 648.10,94.12 648.50,92.38 648.90,90.48 649.30,88.46 649.70,86.34 650.10,84.18 650.50,82.01 650.90,79.87 651.30,77.78 651.71,75.80 652.11,73.96 652.51,72.29 652.91,70.84 653.31,69.64 653.71,68.72 654.11,68.14 654.51,67.91 654.91,68.07 655.31,68.52 655.71,69.19 656.11,70.00 656.51,70.84 656.91,71.65 657.31,72.33 657.71,72.80 658.11,72.97 658.51,72.80 658.91,72.38 659.31,71.78 659.71,71.06 660.11,70.31 660.51,69.61 660.91,69.02 661.31,68.63 661.72,68.51 662.12,68.69 662.52,69.16 662.92,69.87 663.32,70.81 663.72,71.96 664.12,73.27 664.52,74.73 664.92,76.30 665.32,77.97 665.72,79.71 666.12,81.48 666.52,83.26 666.92,85.02 667.32,86.74 667.72,88.40 668.12,89.95 668.52,91.38 668.92,92.66 669.32,93.76 669.72,94.66 670.12,95.33 670.52,95.73 670.92,95.85 671.32,95.68 671.73,95.22 672.13,94.52 672.53,93.59 672.93,92.49 673.33,91.22 673.73,89.83 674.13,88.34 674.53,86.78 674.93,85.19 675.33,83.59 675.73,82.01 676.13,80.49 676.53,79.05 676.93,77.72 677.33,76.54 677.73,75.53 678.13,74.73 678.53,74.16 678.93,73.85 679.33,73.71 679.73,73.61 680.13,73.52 680.53,73.43 680.93,73.29 681.33,73.01 681.74,72.47 682.14,71.70 682.54,70.72 682.94,69.55 683.34,68.23 683.74,66.77 684.14,65.21 684.54,63.58 684.94,61.89 685.34,60.17 685.74,58.46 686.14,56.77 686.54,55.14 686.94,53.58 687.34,52.14 687.74,50.82 688.14,49.66 688.54,48.69 688.94,47.92 689.34,47.39 689.74,47.13 690.14,47.26 690.54,48.20 690.94,49.89 691.34,52.23 691.75,55.12 692.15,58.43 692.55,62.07 692.95,65.92 693.35,69.87 693.75,73.82 694.15,77.65 694.55,81.27 694.95,84.55 695.35,87.39 695.75,89.68 696.15,91.31 696.55,92.18 696.95,92.25 697.35,91.97 697.75,91.42 698.15,90.64 698.55,89.64 698.95,88.46 699.35,87.11 699.75,85.63 700.15,84.03 700.55,82.34 700.95,80.58 701.35,78.78 701.76,76.96 702.16,75.15 702.56,73.37 702.96,71.64 703.36,69.99 703.76,68.45 704.16,67.03 704.56,65.76 704.96,64.68 705.36,63.79 705.76,63.12 706.16,62.71 706.56,62.56 706.96,63.03 707.36,64.34 707.76,66.36 708.16,68.95 708.56,71.99 708.96,75.35 709.36,78.89 709.76,82.49 710.16,86.01 710.56,89.33 710.96,92.30 711.36,94.81 711.77,96.72 712.17,97.90 712.57,98.23 712.97,97.84 713.37,96.92 713.77,95.52 714.17,93.71 714.57,91.53 714.97,89.07 715.37,86.37 715.77,83.49 716.17,80.50 716.57,77.46 716.97,74.43 717.37,71.46 717.77,68.63 718.17,65.99 718.57,63.59 718.97,61.51 719.37,59.80 719.77,58.52 720.17,57.74 720.57,57.51 720.97,57.72 721.37,58.25 721.78,59.03 722.18,60.02 722.58,61.17 722.98,62.43 723.38,63.75 723.78,65.08 724.18,66.36 724.58,67.58 724.98,68.88 725.38,70.28 725.78,71.76 726.18,73.29 726.58,74.87" stroke="#D95319" stroke-width="1.7" stroke-dasharray="6 0.8 1.2 0.8"/>
</g>
<rect x="513.4" y="18.0" width="210.20000000000005" height="117.0" fill="none" stroke="#9a9a9a" stroke-width="0.9"/>
<line x1="513.40" y1="135.0" x2="513.40" y2="132.5" stroke="#9a9a9a" stroke-width="0.9"/>
<line x1="513.40" y1="18.0" x2="513.40" y2="20.5" stroke="#9a9a9a" stroke-width="0.9"/>
<line x1="563.45" y1="135.0" x2="563.45" y2="132.5" stroke="#9a9a9a" stroke-width="0.9"/>
<line x1="563.45" y1="18.0" x2="563.45" y2="20.5" stroke="#9a9a9a" stroke-width="0.9"/>
<line x1="613.50" y1="135.0" x2="613.50" y2="132.5" stroke="#9a9a9a" stroke-width="0.9"/>
<line x1="613.50" y1="18.0" x2="613.50" y2="20.5" stroke="#9a9a9a" stroke-width="0.9"/>
<line x1="663.55" y1="135.0" x2="663.55" y2="132.5" stroke="#9a9a9a" stroke-width="0.9"/>
<line x1="663.55" y1="18.0" x2="663.55" y2="20.5" stroke="#9a9a9a" stroke-width="0.9"/>
<line x1="713.60" y1="135.0" x2="713.60" y2="132.5" stroke="#9a9a9a" stroke-width="0.9"/>
<line x1="713.60" y1="18.0" x2="713.60" y2="20.5" stroke="#9a9a9a" stroke-width="0.9"/>
<line x1="513.4" y1="129.70" x2="515.9" y2="129.70" stroke="#9a9a9a" stroke-width="0.9"/>
<line x1="723.6" y1="129.70" x2="721.1" y2="129.70" stroke="#9a9a9a" stroke-width="0.9"/>
<line x1="513.4" y1="103.10" x2="515.9" y2="103.10" stroke="#9a9a9a" stroke-width="0.9"/>
<line x1="723.6" y1="103.10" x2="721.1" y2="103.10" stroke="#9a9a9a" stroke-width="0.9"/>
<line x1="513.4" y1="76.50" x2="515.9" y2="76.50" stroke="#9a9a9a" stroke-width="0.9"/>
<line x1="723.6" y1="76.50" x2="721.1" y2="76.50" stroke="#9a9a9a" stroke-width="0.9"/>
<line x1="513.4" y1="49.90" x2="515.9" y2="49.90" stroke="#9a9a9a" stroke-width="0.9"/>
<line x1="723.6" y1="49.90" x2="721.1" y2="49.90" stroke="#9a9a9a" stroke-width="0.9"/>
<line x1="513.4" y1="23.30" x2="515.9" y2="23.30" stroke="#9a9a9a" stroke-width="0.9"/>
<line x1="723.6" y1="23.30" x2="721.1" y2="23.30" stroke="#9a9a9a" stroke-width="0.9"/>
<rect x="526.2" y="222.4" width="211.19999999999993" height="115.6" fill="#fff"/>
<line x1="536.76" y1="222.4" x2="536.76" y2="338.0" stroke="#ededed" stroke-width="0.7" stroke-dasharray="1 2"/>
<line x1="547.32" y1="222.4" x2="547.32" y2="338.0" stroke="#ededed" stroke-width="0.7" stroke-dasharray="1 2"/>
<line x1="557.88" y1="222.4" x2="557.88" y2="338.0" stroke="#ededed" stroke-width="0.7" stroke-dasharray="1 2"/>
<line x1="568.44" y1="222.4" x2="568.44" y2="338.0" stroke="#ededed" stroke-width="0.7" stroke-dasharray="1 2"/>
<line x1="589.56" y1="222.4" x2="589.56" y2="338.0" stroke="#ededed" stroke-width="0.7" stroke-dasharray="1 2"/>
<line x1="600.12" y1="222.4" x2="600.12" y2="338.0" stroke="#ededed" stroke-width="0.7" stroke-dasharray="1 2"/>
<line x1="610.68" y1="222.4" x2="610.68" y2="338.0" stroke="#ededed" stroke-width="0.7" stroke-dasharray="1 2"/>
<line x1="621.24" y1="222.4" x2="621.24" y2="338.0" stroke="#ededed" stroke-width="0.7" stroke-dasharray="1 2"/>
<line x1="642.36" y1="222.4" x2="642.36" y2="338.0" stroke="#ededed" stroke-width="0.7" stroke-dasharray="1 2"/>
<line x1="652.92" y1="222.4" x2="652.92" y2="338.0" stroke="#ededed" stroke-width="0.7" stroke-dasharray="1 2"/>
<line x1="663.48" y1="222.4" x2="663.48" y2="338.0" stroke="#ededed" stroke-width="0.7" stroke-dasharray="1 2"/>
<line x1="674.04" y1="222.4" x2="674.04" y2="338.0" stroke="#ededed" stroke-width="0.7" stroke-dasharray="1 2"/>
<line x1="695.16" y1="222.4" x2="695.16" y2="338.0" stroke="#ededed" stroke-width="0.7" stroke-dasharray="1 2"/>
<line x1="705.72" y1="222.4" x2="705.72" y2="338.0" stroke="#ededed" stroke-width="0.7" stroke-dasharray="1 2"/>
<line x1="716.28" y1="222.4" x2="716.28" y2="338.0" stroke="#ededed" stroke-width="0.7" stroke-dasharray="1 2"/>
<line x1="726.84" y1="222.4" x2="726.84" y2="338.0" stroke="#ededed" stroke-width="0.7" stroke-dasharray="1 2"/>
<line x1="526.2" y1="330.77" x2="737.4" y2="330.77" stroke="#ededed" stroke-width="0.7" stroke-dasharray="1 2"/>
<line x1="526.2" y1="323.55" x2="737.4" y2="323.55" stroke="#ededed" stroke-width="0.7" stroke-dasharray="1 2"/>
<line x1="526.2" y1="316.32" x2="737.4" y2="316.32" stroke="#ededed" stroke-width="0.7" stroke-dasharray="1 2"/>
<line x1="526.2" y1="301.88" x2="737.4" y2="301.88" stroke="#ededed" stroke-width="0.7" stroke-dasharray="1 2"/>
<line x1="526.2" y1="294.65" x2="737.4" y2="294.65" stroke="#ededed" stroke-width="0.7" stroke-dasharray="1 2"/>
<line x1="526.2" y1="287.43" x2="737.4" y2="287.43" stroke="#ededed" stroke-width="0.7" stroke-dasharray="1 2"/>
<line x1="526.2" y1="272.97" x2="737.4" y2="272.97" stroke="#ededed" stroke-width="0.7" stroke-dasharray="1 2"/>
<line x1="526.2" y1="265.75" x2="737.4" y2="265.75" stroke="#ededed" stroke-width="0.7" stroke-dasharray="1 2"/>
<line x1="526.2" y1="258.52" x2="737.4" y2="258.52" stroke="#ededed" stroke-width="0.7" stroke-dasharray="1 2"/>
<line x1="526.2" y1="244.07" x2="737.4" y2="244.07" stroke="#ededed" stroke-width="0.7" stroke-dasharray="1 2"/>
<line x1="526.2" y1="236.85" x2="737.4" y2="236.85" stroke="#ededed" stroke-width="0.7" stroke-dasharray="1 2"/>
<line x1="526.2" y1="229.62" x2="737.4" y2="229.62" stroke="#ededed" stroke-width="0.7" stroke-dasharray="1 2"/>
<line x1="526.20" y1="222.4" x2="526.20" y2="338.0" stroke="#e6e6e6" stroke-width="0.8"/>
<line x1="579.00" y1="222.4" x2="579.00" y2="338.0" stroke="#e6e6e6" stroke-width="0.8"/>
<line x1="631.80" y1="222.4" x2="631.80" y2="338.0" stroke="#e6e6e6" stroke-width="0.8"/>
<line x1="684.60" y1="222.4" x2="684.60" y2="338.0" stroke="#e6e6e6" stroke-width="0.8"/>
<line x1="737.40" y1="222.4" x2="737.40" y2="338.0" stroke="#e6e6e6" stroke-width="0.8"/>
<line x1="526.2" y1="338.00" x2="737.4" y2="338.00" stroke="#e6e6e6" stroke-width="0.8"/>
<line x1="526.2" y1="309.10" x2="737.4" y2="309.10" stroke="#e6e6e6" stroke-width="0.8"/>
<line x1="526.2" y1="280.20" x2="737.4" y2="280.20" stroke="#e6e6e6" stroke-width="0.8"/>
<line x1="526.2" y1="251.30" x2="737.4" y2="251.30" stroke="#e6e6e6" stroke-width="0.8"/>
<line x1="526.2" y1="222.40" x2="737.4" y2="222.40" stroke="#e6e6e6" stroke-width="0.8"/>
<clipPath id="c2"><rect x="526.2" y="222.4" width="211.19999999999993" height="115.6"/></clipPath>
<g clip-path="url(#c2)" fill="none" stroke-linejoin="round">
<polyline points="524.49,266.56 524.91,267.03 525.33,267.56 525.75,268.17 526.18,268.85 526.60,269.59 527.02,270.55 527.44,271.79 527.87,273.23 528.29,274.79 528.71,276.41 529.13,278.00 529.56,279.49 529.98,280.80 530.40,281.86 530.82,282.58 531.24,282.90 531.67,282.86 532.09,282.66 532.51,282.33 532.93,281.88 533.36,281.31 533.78,280.64 534.20,279.89 534.62,279.06 535.05,278.16 535.47,277.22 535.89,276.24 536.31,275.23 536.74,274.21 537.16,273.18 537.58,272.16 538.00,271.17 538.43,270.21 538.85,269.29 539.27,268.43 539.69,267.65 540.12,266.94 540.54,266.33 540.96,265.83 541.38,265.44 541.80,265.19 542.23,265.08 542.65,265.15 543.07,265.47 543.49,266.01 543.92,266.77 544.34,267.72 544.76,268.85 545.18,270.15 545.61,271.59 546.03,273.17 546.45,274.86 546.87,276.65 547.30,278.52 547.72,280.46 548.14,282.45 548.56,284.47 548.99,286.51 549.41,288.55 549.83,290.57 550.25,292.56 550.68,294.51 551.10,296.39 551.52,298.19 551.94,299.89 552.36,301.48 552.79,302.94 553.21,304.26 553.63,305.41 554.05,306.38 554.48,307.17 554.90,307.74 555.32,308.08 555.74,308.18 556.17,307.75 556.59,306.67 557.01,304.99 557.43,302.79 557.86,300.12 558.28,297.06 558.70,293.67 559.12,290.00 559.55,286.13 559.97,282.13 560.39,278.04 560.81,273.95 561.24,269.91 561.66,266.00 562.08,262.26 562.50,258.78 562.92,255.61 563.35,252.81 563.77,250.46 564.19,248.62 564.61,247.34 565.04,246.71 565.46,246.85 565.88,248.11 566.30,250.39 566.73,253.57 567.15,257.54 567.57,262.16 567.99,267.32 568.42,272.88 568.84,278.72 569.26,284.72 569.68,290.75 570.11,296.70 570.53,302.42 570.95,307.81 571.37,312.73 571.80,317.06 572.22,320.68 572.64,323.46 573.06,325.28 573.48,326.01 573.91,325.59 574.33,324.15 574.75,321.79 575.17,318.61 575.60,314.73 576.02,310.24 576.44,305.26 576.86,299.88 577.29,294.22 577.71,288.39 578.13,282.48 578.55,276.61 578.98,270.87 579.40,265.39 579.82,260.26 580.24,255.58 580.67,251.47 581.09,248.04 581.51,245.37 581.93,243.60 582.36,242.81 582.78,242.93 583.20,243.52 583.62,244.53 584.04,245.91 584.47,247.61 584.89,249.58 585.31,251.78 585.73,254.16 586.16,256.66 586.58,259.25 587.00,261.88 587.42,264.49 587.85,267.04 588.27,269.48 588.69,271.76 589.11,273.85 589.54,275.68 589.96,277.21 590.38,278.52 590.80,279.71 591.23,280.85 591.65,282.00 592.07,283.23 592.49,284.61 592.92,286.12 593.34,287.74 593.76,289.44 594.18,291.20 594.60,292.99 595.03,294.79 595.45,296.57 595.87,298.30 596.29,299.96 596.72,301.52 597.14,302.96 597.56,304.26 597.98,305.37 598.41,306.29 598.83,306.98 599.25,307.42 599.67,307.58 600.10,307.25 600.52,306.21 600.94,304.54 601.36,302.30 601.79,299.57 602.21,296.40 602.63,292.88 603.05,289.06 603.48,285.01 603.90,280.81 604.32,276.52 604.74,272.21 605.16,267.94 605.59,263.79 606.01,259.82 606.43,256.11 606.85,252.71 607.28,249.70 607.70,247.15 608.12,245.12 608.54,243.68 608.97,242.90 609.39,242.87 609.81,243.75 610.23,245.48 610.66,247.94 611.08,251.02 611.50,254.63 611.92,258.64 612.35,262.94 612.77,267.44 613.19,272.01 613.61,276.56 614.04,280.96 614.46,285.11 614.88,288.91 615.30,292.23 615.72,294.98 616.15,297.04 616.57,298.30 616.99,298.66 617.41,298.50 617.84,298.09 618.26,297.46 618.68,296.64 619.10,295.65 619.53,294.52 619.95,293.28 620.37,291.95 620.79,290.56 621.22,289.13 621.64,287.69 622.06,286.26 622.48,284.88 622.91,283.56 623.33,282.33 623.75,281.23 624.17,280.27 624.60,279.48 625.02,278.88 625.44,278.51 625.86,278.32 626.28,278.15 626.71,277.99 627.13,277.83 627.55,277.68 627.97,277.55 628.40,277.43 628.82,277.32 629.24,277.22 629.66,277.14 630.09,277.07 630.51,277.02 630.93,276.98 631.35,276.97 631.78,277.02 632.20,277.39 632.62,278.08 633.04,279.03 633.47,280.19 633.89,281.49 634.31,282.88 634.73,284.31 635.16,285.70 635.58,287.02 636.00,288.19 636.42,289.16 636.84,289.88 637.27,290.28 637.69,290.30 638.11,289.88 638.53,289.05 638.96,287.88 639.38,286.43 639.80,284.75 640.22,282.92 640.65,280.98 641.07,279.00 641.49,277.04 641.91,275.16 642.34,273.42 642.76,271.88 643.18,270.60 643.60,269.65 644.03,269.08 644.45,268.96 644.87,269.40 645.29,270.38 645.72,271.85 646.14,273.73 646.56,275.95 646.98,278.46 647.40,281.19 647.83,284.06 648.25,287.02 648.67,289.99 649.09,292.92 649.52,295.73 649.94,298.37 650.36,300.75 650.78,302.83 651.21,304.52 651.63,305.77 652.05,306.51 652.47,306.67 652.90,306.15 653.32,304.99 653.74,303.26 654.16,301.05 654.59,298.43 655.01,295.50 655.43,292.33 655.85,289.00 656.28,285.60 656.70,282.21 657.12,278.90 657.54,275.77 657.96,272.88 658.39,270.33 658.81,268.19 659.23,266.55 659.65,265.48 660.08,265.08 660.50,265.17 660.92,265.45 661.34,265.91 661.77,266.52 662.19,267.27 662.61,268.14 663.03,269.11 663.46,270.16 663.88,271.27 664.30,272.43 664.72,273.61 665.15,274.79 665.57,275.97 665.99,277.11 666.41,278.20 666.84,279.23 667.26,280.16 667.68,280.99 668.10,281.70 668.52,282.26 668.95,282.66 669.37,282.88 669.79,282.90 670.21,282.79 670.64,282.57 671.06,282.25 671.48,281.83 671.90,281.33 672.33,280.75 672.75,280.11 673.17,279.40 673.59,278.65 674.02,277.85 674.44,277.03 674.86,276.18 675.28,275.31 675.71,274.44 676.13,273.57 676.55,272.72 676.97,271.88 677.40,271.08 677.82,270.31 678.24,269.59 678.66,268.92 679.08,268.32 679.51,267.80 679.93,267.35 680.35,267.00 680.77,266.74 681.20,266.60 681.62,266.58 682.04,266.98 682.46,267.84 682.89,269.12 683.31,270.73 683.73,272.63 684.15,274.75 684.58,277.03 685.00,279.40 685.42,281.81 685.84,284.18 686.27,286.47 686.69,288.60 687.11,290.51 687.53,292.15 687.96,293.45 688.38,294.34 688.80,294.77 689.22,294.68 689.64,294.06 690.07,292.97 690.49,291.47 690.91,289.62 691.33,287.49 691.76,285.12 692.18,282.59 692.60,279.95 693.02,277.25 693.45,274.57 693.87,271.96 694.29,269.47 694.71,267.18 695.14,265.14 695.56,263.40 695.98,262.03 696.40,261.10 696.83,260.65 697.25,260.74 697.67,261.33 698.09,262.38 698.52,263.83 698.94,265.64 699.36,267.74 699.78,270.10 700.20,272.65 700.63,275.36 701.05,278.16 701.47,281.00 701.89,283.84 702.32,286.62 702.74,289.30 703.16,291.81 703.58,294.12 704.01,296.16 704.43,297.89 704.85,299.26 705.27,300.21 705.70,300.70 706.12,300.70 706.54,300.42 706.96,299.88 707.39,299.12 707.81,298.15 708.23,297.01 708.65,295.71 709.08,294.27 709.50,292.73 709.92,291.10 710.34,289.40 710.76,287.66 711.19,285.91 711.61,284.16 712.03,282.44 712.45,280.77 712.88,279.18 713.30,277.68 713.72,276.31 714.14,275.08 714.57,274.02 714.99,273.15 715.41,272.49 715.83,272.07 716.26,271.91 716.68,272.01 717.10,272.32 717.52,272.81 717.95,273.44 718.37,274.17 718.79,274.98 719.21,275.83 719.64,276.68 720.06,277.50 720.48,278.26 720.90,278.91 721.32,279.43 721.75,279.79 722.17,279.94 722.59,279.84 723.01,279.51 723.44,278.99 723.86,278.33 724.28,277.58 724.70,276.79 725.13,276.02 725.55,275.30 725.97,274.69 726.39,274.25 726.82,274.02 727.24,274.06 727.66,274.43 728.08,275.11 728.51,276.06 728.93,277.25 729.35,278.64 729.77,280.20 730.20,281.88 730.62,283.65 731.04,285.49 731.46,287.34 731.88,289.18 732.31,290.98 732.73,292.68 733.15,294.27 733.57,295.70 734.00,296.94 734.42,297.95 734.84,298.70 735.26,299.14 735.69,299.26 736.11,299.04 736.53,298.55 736.95,297.80 737.38,296.85 737.80,295.73 738.22,294.47 738.64,293.12" stroke="#0072BD" stroke-width="1.65"/>
<polyline points="524.49,279.94 524.91,279.63 525.33,279.33 525.75,279.02 526.18,278.72 526.60,278.43 527.02,278.13 527.44,277.81 527.87,277.47 528.29,277.12 528.71,276.76 529.13,276.40 529.56,276.04 529.98,275.68 530.40,275.33 530.82,274.99 531.24,274.67 531.67,274.37 532.09,274.08 532.51,273.83 532.93,273.61 533.36,273.42 533.78,273.28 534.20,273.17 534.62,273.11 535.05,273.11 535.47,273.21 535.89,273.41 536.31,273.67 536.74,273.99 537.16,274.32 537.58,274.65 538.00,274.96 538.43,275.22 538.85,275.40 539.27,275.48 539.69,275.46 540.12,275.36 540.54,275.22 540.96,275.04 541.38,274.84 541.80,274.62 542.23,274.42 542.65,274.24 543.07,274.10 543.49,274.02 543.92,274.00 544.34,274.17 544.76,274.56 545.18,275.15 545.61,275.92 546.03,276.85 546.45,277.94 546.87,279.16 547.30,280.51 547.72,281.95 548.14,283.49 548.56,285.09 548.99,286.75 549.41,288.45 549.83,290.18 550.25,291.91 550.68,293.64 551.10,295.34 551.52,297.01 551.94,298.62 552.36,300.15 552.79,301.60 553.21,302.95 553.63,304.18 554.05,305.27 554.48,306.22 554.90,307.00 555.32,307.59 555.74,307.99 556.17,308.17 556.59,308.00 557.01,307.14 557.43,305.65 557.86,303.59 558.28,301.03 558.70,298.06 559.12,294.73 559.55,291.13 559.97,287.32 560.39,283.37 560.81,279.37 561.24,275.37 561.66,271.46 562.08,267.70 562.50,264.17 562.92,260.94 563.35,258.07 563.77,255.65 564.19,253.75 564.61,252.43 565.04,251.76 565.46,251.88 565.88,253.00 566.30,255.03 566.73,257.88 567.15,261.41 567.57,265.53 567.99,270.13 568.42,275.08 568.84,280.29 569.26,285.64 569.68,291.02 570.11,296.31 570.53,301.42 570.95,306.22 571.37,310.60 571.80,314.47 572.22,317.69 572.64,320.17 573.06,321.79 573.48,322.44 573.91,321.98 574.33,320.39 574.75,317.80 575.17,314.34 575.60,310.12 576.02,305.27 576.44,299.92 576.86,294.20 577.29,288.24 577.71,282.14 578.13,276.06 578.55,270.10 578.98,264.40 579.40,259.08 579.82,254.26 580.24,250.08 580.67,246.66 581.09,244.12 581.51,242.60 581.93,242.19 582.36,242.44 582.78,243.04 583.20,243.96 583.62,245.16 584.04,246.62 584.47,248.31 584.89,250.20 585.31,252.27 585.73,254.47 586.16,256.78 586.58,259.18 587.00,261.63 587.42,264.10 587.85,266.57 588.27,268.99 588.69,271.36 589.11,273.63 589.54,275.77 589.96,277.76 590.38,279.56 590.80,281.16 591.23,282.51 591.65,283.61 592.07,284.53 592.49,285.37 592.92,286.17 593.34,287.03 593.76,287.99 594.18,289.19 594.60,290.63 595.03,292.24 595.45,293.97 595.87,295.73 596.29,297.48 596.72,299.13 597.14,300.63 597.56,301.90 597.98,302.89 598.41,303.52 598.83,303.72 599.25,303.34 599.67,302.34 600.10,300.77 600.52,298.69 600.94,296.17 601.36,293.28 601.79,290.06 602.21,286.58 602.63,282.91 603.05,279.10 603.48,275.21 603.90,271.32 604.32,267.47 604.74,263.74 605.16,260.17 605.59,256.85 606.01,253.81 606.43,251.14 606.85,248.88 607.28,247.10 607.70,245.86 608.12,245.23 608.54,245.27 608.97,246.02 609.39,247.42 609.81,249.39 610.23,251.86 610.66,254.73 611.08,257.94 611.50,261.41 611.92,265.06 612.35,268.81 612.77,272.58 613.19,276.30 613.61,279.89 614.04,283.27 614.46,286.36 614.88,289.09 615.30,291.38 615.72,293.14 616.15,294.30 616.57,294.79 616.99,294.71 617.41,294.38 617.84,293.83 618.26,293.10 618.68,292.22 619.10,291.21 619.53,290.11 619.95,288.96 620.37,287.77 620.79,286.58 621.22,285.43 621.64,284.34 622.06,283.34 622.48,282.47 622.91,281.75 623.33,281.22 623.75,280.91 624.17,280.83 624.60,280.87 625.02,280.93 625.44,281.03 625.86,281.13 626.28,281.23 626.71,281.33 627.13,281.39 627.55,281.42 627.97,281.36 628.40,281.14 628.82,280.78 629.24,280.34 629.66,279.87 630.09,279.40 630.51,278.98 630.93,278.66 631.35,278.48 631.78,278.45 632.20,278.45 632.62,278.50 633.04,278.82 633.47,279.40 633.89,280.17 634.31,281.08 634.73,282.08 635.16,283.11 635.58,284.11 636.00,285.03 636.42,285.80 636.84,286.39 637.27,286.72 637.69,286.74 638.11,286.40 638.53,285.74 638.96,284.79 639.38,283.62 639.80,282.27 640.22,280.79 640.65,279.23 641.07,277.64 641.49,276.06 641.91,274.54 642.34,273.14 642.76,271.90 643.18,270.87 643.60,270.11 644.03,269.65 644.45,269.55 644.87,270.04 645.29,271.11 645.72,272.71 646.14,274.74 646.56,277.12 646.98,279.79 647.40,282.66 647.83,285.66 648.25,288.70 648.67,291.70 649.09,294.59 649.52,297.29 649.94,299.72 650.36,301.80 650.78,303.45 651.21,304.60 651.63,305.16 652.05,305.08 652.47,304.40 652.90,303.20 653.32,301.53 653.74,299.46 654.16,297.05 654.59,294.37 655.01,291.49 655.43,288.47 655.85,285.36 656.28,282.24 656.70,279.18 657.12,276.23 657.54,273.45 657.96,270.92 658.39,268.70 658.81,266.85 659.23,265.44 659.65,264.53 660.08,264.19 660.50,264.27 660.92,264.53 661.34,264.95 661.77,265.53 662.19,266.23 662.61,267.05 663.03,267.97 663.46,268.98 663.88,270.06 664.30,271.18 664.72,272.35 665.15,273.54 665.57,274.73 665.99,275.92 666.41,277.08 666.84,278.19 667.26,279.25 667.68,280.24 668.10,281.14 668.52,281.94 668.95,282.61 669.37,283.15 669.79,283.54 670.21,283.76 670.64,283.80 671.06,283.75 671.48,283.65 671.90,283.49 672.33,283.29 672.75,283.05 673.17,282.76 673.59,282.44 674.02,282.09 674.44,281.71 674.86,281.31 675.28,280.89 675.71,280.46 676.13,280.01 676.55,279.56 676.97,279.11 677.40,278.66 677.82,278.21 678.24,277.78 678.66,277.36 679.08,276.96 679.51,276.58 679.93,276.23 680.35,275.91 680.77,275.63 681.20,275.39 681.62,275.19 682.04,275.03 682.46,274.93 682.89,274.89 683.31,274.94 683.73,275.18 684.15,275.59 684.58,276.15 685.00,276.83 685.42,277.62 685.84,278.49 686.27,279.42 686.69,280.39 687.11,281.37 687.53,282.35 687.96,283.30 688.38,284.20 688.80,285.03 689.22,285.77 689.64,286.40 690.07,286.88 690.49,287.21 690.91,287.36 691.33,287.20 691.76,286.48 692.18,285.26 692.60,283.62 693.02,281.64 693.45,279.40 693.87,276.97 694.29,274.44 694.71,271.89 695.14,269.38 695.56,267.00 695.98,264.83 696.40,262.95 696.83,261.42 697.25,260.35 697.67,259.79 698.09,259.84 698.52,260.57 698.94,261.93 699.36,263.83 699.78,266.19 700.20,268.94 700.63,271.99 701.05,275.28 701.47,278.71 701.89,282.22 702.32,285.72 702.74,289.15 703.16,292.41 703.58,295.43 704.01,298.14 704.43,300.45 704.85,302.29 705.27,303.58 705.70,304.24 706.12,304.26 706.54,303.89 706.96,303.19 707.39,302.21 707.81,300.97 708.23,299.51 708.65,297.85 709.08,296.04 709.50,294.09 709.92,292.04 710.34,289.93 710.76,287.79 711.19,285.64 711.61,283.53 712.03,281.47 712.45,279.51 712.88,277.68 713.30,276.00 713.72,274.52 714.14,273.25 714.57,272.24 714.99,271.51 715.41,271.10 715.83,271.03 716.26,271.23 716.68,271.62 717.10,272.19 717.52,272.90 717.95,273.71 718.37,274.60 718.79,275.54 719.21,276.49 719.64,277.42 720.06,278.30 720.48,279.09 720.90,279.78 721.32,280.32 721.75,280.68 722.17,280.83 722.59,280.73 723.01,280.37 723.44,279.79 723.86,279.03 724.28,278.14 724.70,277.16 725.13,276.12 725.55,275.08 725.97,274.07 726.39,273.14 726.82,272.33 727.24,271.68 727.66,271.23 728.08,271.03 728.51,271.19 728.93,271.89 729.35,273.07 729.77,274.64 730.20,276.56 730.62,278.75 731.04,281.14 731.46,283.67 731.88,286.27 732.31,288.87 732.73,291.41 733.15,293.81 733.57,296.01 734.00,297.94 734.42,299.53 734.84,300.73 735.26,301.45 735.69,301.64 736.11,301.51 736.53,301.19 736.95,300.68 737.38,299.98 737.80,299.08 738.22,297.98 738.64,296.69" stroke="#D95319" stroke-width="1.7" stroke-dasharray="6 0.8 1.2 0.8"/>
</g>
<rect x="526.2" y="222.4" width="211.19999999999993" height="115.6" fill="none" stroke="#9a9a9a" stroke-width="0.9"/>
<line x1="526.20" y1="338.0" x2="526.20" y2="335.5" stroke="#9a9a9a" stroke-width="0.9"/>
<line x1="526.20" y1="222.4" x2="526.20" y2="224.9" stroke="#9a9a9a" stroke-width="0.9"/>
<line x1="579.00" y1="338.0" x2="579.00" y2="335.5" stroke="#9a9a9a" stroke-width="0.9"/>
<line x1="579.00" y1="222.4" x2="579.00" y2="224.9" stroke="#9a9a9a" stroke-width="0.9"/>
<line x1="631.80" y1="338.0" x2="631.80" y2="335.5" stroke="#9a9a9a" stroke-width="0.9"/>
<line x1="631.80" y1="222.4" x2="631.80" y2="224.9" stroke="#9a9a9a" stroke-width="0.9"/>
<line x1="684.60" y1="338.0" x2="684.60" y2="335.5" stroke="#9a9a9a" stroke-width="0.9"/>
<line x1="684.60" y1="222.4" x2="684.60" y2="224.9" stroke="#9a9a9a" stroke-width="0.9"/>
<line x1="737.40" y1="338.0" x2="737.40" y2="335.5" stroke="#9a9a9a" stroke-width="0.9"/>
<line x1="737.40" y1="222.4" x2="737.40" y2="224.9" stroke="#9a9a9a" stroke-width="0.9"/>
<line x1="526.2" y1="338.00" x2="528.7" y2="338.00" stroke="#9a9a9a" stroke-width="0.9"/>
<line x1="737.4" y1="338.00" x2="734.9" y2="338.00" stroke="#9a9a9a" stroke-width="0.9"/>
<line x1="526.2" y1="309.10" x2="528.7" y2="309.10" stroke="#9a9a9a" stroke-width="0.9"/>
<line x1="737.4" y1="309.10" x2="734.9" y2="309.10" stroke="#9a9a9a" stroke-width="0.9"/>
<line x1="526.2" y1="280.20" x2="528.7" y2="280.20" stroke="#9a9a9a" stroke-width="0.9"/>
<line x1="737.4" y1="280.20" x2="734.9" y2="280.20" stroke="#9a9a9a" stroke-width="0.9"/>
<line x1="526.2" y1="251.30" x2="528.7" y2="251.30" stroke="#9a9a9a" stroke-width="0.9"/>
<line x1="737.4" y1="251.30" x2="734.9" y2="251.30" stroke="#9a9a9a" stroke-width="0.9"/>
<line x1="526.2" y1="222.40" x2="528.7" y2="222.40" stroke="#9a9a9a" stroke-width="0.9"/>
<line x1="737.4" y1="222.40" x2="734.9" y2="222.40" stroke="#9a9a9a" stroke-width="0.9"/>
<rect x="277.2" y="321.3" width="167.10000000000002" height="38.89999999999998" fill="#fff" stroke="#666" stroke-width="0.8"/>
<line x1="280.1" y1="332.2" x2="298.5" y2="332.2" stroke="#0072BD" stroke-width="1.3"/>
<line x1="280.1" y1="350.6" x2="298.5" y2="350.6" stroke="#D95319" stroke-width="1.4" stroke-dasharray="4.4 0.9 0.6 0.9"/>
</svg>
<div style="position:absolute;font-size:16.1px;line-height:1;white-space:nowrap;color:#262626;left:59.40px;top:376.37px;transform:translateX(-50%);">0</div>
<div style="position:absolute;font-size:16.1px;line-height:1;white-space:nowrap;color:#262626;left:178.40px;top:376.37px;transform:translateX(-50%);">0.5</div>
<div style="position:absolute;font-size:16.1px;line-height:1;white-space:nowrap;color:#262626;left:297.40px;top:376.37px;transform:translateX(-50%);">1</div>
<div style="position:absolute;font-size:16.1px;line-height:1;white-space:nowrap;color:#262626;left:416.40px;top:376.37px;transform:translateX(-50%);">1.5</div>
<div style="position:absolute;font-size:16.1px;line-height:1;white-space:nowrap;color:#262626;left:535.40px;top:376.37px;transform:translateX(-50%);">2</div>
<div style="position:absolute;font-size:16.1px;line-height:1;white-space:nowrap;color:#262626;left:654.40px;top:376.37px;transform:translateX(-50%);">2.5</div>
<div style="position:absolute;font-size:16.1px;line-height:1;white-space:nowrap;color:#262626;left:773.40px;top:376.37px;transform:translateX(-50%);">3</div>
<div style="position:absolute;font-size:16.1px;line-height:1;white-space:nowrap;color:#262626;left:53.40px;top:345.67px;transform:translateX(-100%);">-1</div>
<div style="position:absolute;font-size:16.1px;line-height:1;white-space:nowrap;color:#262626;left:53.40px;top:312.99px;transform:translateX(-100%);">-0.8</div>
<div style="position:absolute;font-size:16.1px;line-height:1;white-space:nowrap;color:#262626;left:53.40px;top:280.31px;transform:translateX(-100%);">-0.6</div>
<div style="position:absolute;font-size:16.1px;line-height:1;white-space:nowrap;color:#262626;left:53.40px;top:247.63px;transform:translateX(-100%);">-0.4</div>
<div style="position:absolute;font-size:16.1px;line-height:1;white-space:nowrap;color:#262626;left:53.40px;top:214.95px;transform:translateX(-100%);">-0.2</div>
<div style="position:absolute;font-size:16.1px;line-height:1;white-space:nowrap;color:#262626;left:53.40px;top:182.27px;transform:translateX(-100%);">0</div>
<div style="position:absolute;font-size:16.1px;line-height:1;white-space:nowrap;color:#262626;left:53.40px;top:149.59px;transform:translateX(-100%);">0.2</div>
<div style="position:absolute;font-size:16.1px;line-height:1;white-space:nowrap;color:#262626;left:53.40px;top:116.91px;transform:translateX(-100%);">0.4</div>
<div style="position:absolute;font-size:16.1px;line-height:1;white-space:nowrap;color:#262626;left:53.40px;top:84.23px;transform:translateX(-100%);">0.6</div>
<div style="position:absolute;font-size:16.1px;line-height:1;white-space:nowrap;color:#262626;left:53.40px;top:51.55px;transform:translateX(-100%);">0.8</div>
<div style="position:absolute;font-size:16.1px;line-height:1;white-space:nowrap;color:#262626;left:53.40px;top:18.87px;transform:translateX(-100%);">1</div>
<div style="position:absolute;font-size:18.5px;line-height:1;white-space:nowrap;color:#262626;left:415.60px;top:389.34px;transform:translateX(-50%);">Time [ms]</div>
<div style="position:absolute;font-size:18.35px;line-height:1;white-space:nowrap;color:#262626;left:23.00px;top:192.00px;transform-origin:0 0;transform:rotate(-90deg) translate(-50%,-15.53px);">Normalized amplitude [-]</div>
<div style="position:absolute;font-size:15.3px;line-height:1;white-space:nowrap;color:#000;left:301.20px;top:323.75px;">Before perturbations</div>
<div style="position:absolute;font-size:15.3px;line-height:1;white-space:nowrap;color:#000;left:301.20px;top:342.95px;">After perturbations</div>
<div style="position:absolute;font-size:11px;line-height:1;white-space:nowrap;color:#262626;left:513.40px;top:140.69px;transform:translateX(-50%);">0.15</div>
<div style="position:absolute;font-size:11px;line-height:1;white-space:nowrap;color:#262626;left:563.45px;top:140.69px;transform:translateX(-50%);">0.2</div>
<div style="position:absolute;font-size:11px;line-height:1;white-space:nowrap;color:#262626;left:613.50px;top:140.69px;transform:translateX(-50%);">0.25</div>
<div style="position:absolute;font-size:11px;line-height:1;white-space:nowrap;color:#262626;left:663.55px;top:140.69px;transform:translateX(-50%);">0.3</div>
<div style="position:absolute;font-size:11px;line-height:1;white-space:nowrap;color:#262626;left:713.60px;top:140.69px;transform:translateX(-50%);">0.35</div>
<div style="position:absolute;font-size:11px;line-height:1;white-space:nowrap;color:#262626;left:508.60px;top:125.39px;transform:translateX(-100%);">-1</div>
<div style="position:absolute;font-size:11px;line-height:1;white-space:nowrap;color:#262626;left:508.60px;top:98.79px;transform:translateX(-100%);">-0.5</div>
<div style="position:absolute;font-size:11px;line-height:1;white-space:nowrap;color:#262626;left:508.60px;top:72.19px;transform:translateX(-100%);">0</div>
<div style="position:absolute;font-size:11px;line-height:1;white-space:nowrap;color:#262626;left:508.60px;top:45.59px;transform:translateX(-100%);">0.5</div>
<div style="position:absolute;font-size:11px;line-height:1;white-space:nowrap;color:#262626;left:508.60px;top:18.99px;transform:translateX(-100%);">1</div>
<div style="position:absolute;font-size:12.5px;line-height:1;white-space:nowrap;color:#262626;left:618.10px;top:155.02px;transform:translateX(-50%);">Time [ms]</div>
<div style="position:absolute;font-size:12.55px;line-height:1;white-space:nowrap;color:#262626;left:487.80px;top:80.40px;transform-origin:0 0;transform:rotate(-90deg) translate(-50%,-10.62px);">Normalized amplitude</div>
<div style="position:absolute;font-size:11px;line-height:1;white-space:nowrap;color:#262626;left:526.20px;top:344.29px;transform:translateX(-50%);">1.5</div>
<div style="position:absolute;font-size:11px;line-height:1;white-space:nowrap;color:#262626;left:579.00px;top:344.29px;transform:translateX(-50%);">1.55</div>
<div style="position:absolute;font-size:11px;line-height:1;white-space:nowrap;color:#262626;left:631.80px;top:344.29px;transform:translateX(-50%);">1.6</div>
<div style="position:absolute;font-size:11px;line-height:1;white-space:nowrap;color:#262626;left:684.60px;top:344.29px;transform:translateX(-50%);">1.65</div>
<div style="position:absolute;font-size:11px;line-height:1;white-space:nowrap;color:#262626;left:737.40px;top:344.29px;transform:translateX(-50%);">1.7</div>
<div style="position:absolute;font-size:11px;line-height:1;white-space:nowrap;color:#262626;left:522.40px;top:333.09px;transform:translateX(-100%);">-0.4</div>
<div style="position:absolute;font-size:11px;line-height:1;white-space:nowrap;color:#262626;left:522.40px;top:304.19px;transform:translateX(-100%);">-0.2</div>
<div style="position:absolute;font-size:11px;line-height:1;white-space:nowrap;color:#262626;left:522.40px;top:275.29px;transform:translateX(-100%);">0</div>
<div style="position:absolute;font-size:11px;line-height:1;white-space:nowrap;color:#262626;left:522.40px;top:246.39px;transform:translateX(-100%);">0.2</div>
<div style="position:absolute;font-size:11px;line-height:1;white-space:nowrap;color:#262626;left:522.40px;top:217.49px;transform:translateX(-100%);">0.4</div>
<div style="position:absolute;font-size:12.5px;line-height:1;white-space:nowrap;color:#262626;left:630.80px;top:355.42px;transform:translateX(-50%);">Time [ms]</div>
<div style="position:absolute;font-size:12.4px;line-height:1;white-space:nowrap;color:#262626;left:499.20px;top:282.30px;transform-origin:0 0;transform:rotate(-90deg) translate(-50%,-10.50px);">Normalized amplitude</div>
</body></html>
